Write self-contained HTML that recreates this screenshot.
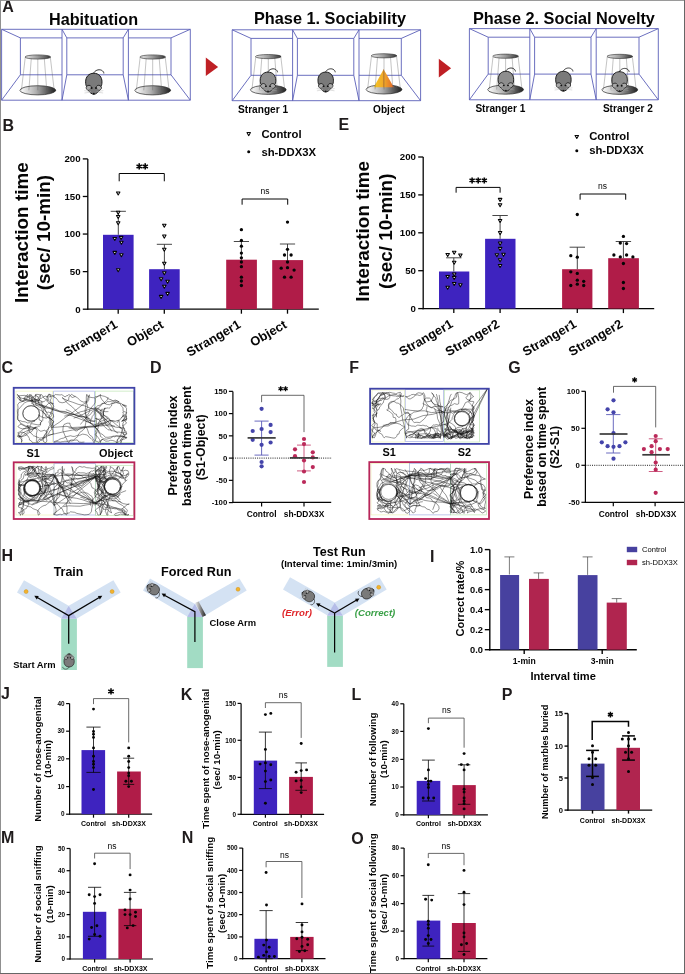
<!DOCTYPE html>
<html><head><meta charset="utf-8"><style>
html,body{margin:0;padding:0;background:#fff;}
body{width:685px;height:974px;overflow:hidden;position:relative;}
svg{position:absolute;left:0;top:0;will-change:transform;filter:blur(0.3px);}
text{font-family:"Liberation Sans",sans-serif;}
</style></head><body>
<svg width="685" height="974" viewBox="0 0 685 974" font-family="Liberation Sans, sans-serif">
<rect x="0" y="0" width="685" height="974" fill="#fff"/>
<text x="2.30" y="12.40" font-size="16" font-weight="bold" fill="#1f1b1c">A</text>
<text x="49.00" y="24.50" font-size="16.2" font-weight="bold" fill="#050505">Habituation</text>
<text x="254.00" y="23.80" font-size="16.3" font-weight="bold" fill="#050505">Phase 1. Sociability</text>
<text x="473.00" y="23.80" font-size="16.3" font-weight="bold" fill="#050505">Phase 2. Social Novelty</text>
<defs>
<linearGradient id="gtop" x1="0" x2="1" y1="0" y2="0"><stop offset="0" stop-color="#e8e8e8"/><stop offset="0.5" stop-color="#9a9a9a"/><stop offset="1" stop-color="#3a3a3a"/></linearGradient>
<linearGradient id="gbot" x1="0" x2="1" y1="0" y2="0"><stop offset="0" stop-color="#ffffff"/><stop offset="0.45" stop-color="#b0b0b0"/><stop offset="1" stop-color="#1e1e1e"/></linearGradient>
<linearGradient id="gpyr" x1="0" x2="1" y1="0" y2="0"><stop offset="0" stop-color="#f6c623"/><stop offset="0.5" stop-color="#f0a828"/><stop offset="1" stop-color="#e2662a"/></linearGradient>
<linearGradient id="gdoor" x1="0" x2="1" y1="0" y2="0"><stop offset="0" stop-color="#f0f0f0"/><stop offset="1" stop-color="#202020"/></linearGradient>
</defs>
<g stroke="#5a5fb8" stroke-width="0.9" fill="none" stroke-linejoin="round">
<rect x="1.60" y="29.30" width="188.70" height="70.90"/>
<polyline points="1.60,29.30 20.40,37.90 20.40,74.80 1.60,100.20"/>
<polyline points="190.30,29.30 171.00,37.90 171.00,74.80 190.30,100.20"/>
<line x1="20.40" y1="37.90" x2="62.00" y2="37.90"/>
<line x1="20.40" y1="74.80" x2="62.00" y2="74.80"/>
<line x1="66.80" y1="37.90" x2="123.20" y2="37.90"/>
<line x1="66.80" y1="74.80" x2="123.20" y2="74.80"/>
<line x1="128.40" y1="37.90" x2="171.00" y2="37.90"/>
<line x1="128.40" y1="74.80" x2="171.00" y2="74.80"/>
<polyline points="62.00,29.30 62.00,100.20"/>
<polyline points="62.00,29.30 66.80,37.90 66.80,74.80 62.00,100.20"/>
<polyline points="128.40,29.30 128.40,100.20"/>
<polyline points="128.40,29.30 123.20,37.90 123.20,74.80 128.40,100.20"/>
</g>
<g stroke="#5a5fb8" stroke-width="0.9" fill="none" stroke-linejoin="round">
<rect x="232.20" y="29.80" width="188.40" height="70.90"/>
<polyline points="232.20,29.80 251.00,38.40 251.00,75.30 232.20,100.70"/>
<polyline points="420.60,29.80 401.30,38.40 401.30,75.30 420.60,100.70"/>
<line x1="251.00" y1="38.40" x2="292.60" y2="38.40"/>
<line x1="251.00" y1="75.30" x2="292.60" y2="75.30"/>
<line x1="297.40" y1="38.40" x2="353.80" y2="38.40"/>
<line x1="297.40" y1="75.30" x2="353.80" y2="75.30"/>
<line x1="359.00" y1="38.40" x2="401.30" y2="38.40"/>
<line x1="359.00" y1="75.30" x2="401.30" y2="75.30"/>
<polyline points="292.60,29.80 292.60,100.70"/>
<polyline points="292.60,29.80 297.40,38.40 297.40,75.30 292.60,100.70"/>
<polyline points="359.00,29.80 359.00,100.70"/>
<polyline points="359.00,29.80 353.80,38.40 353.80,75.30 359.00,100.70"/>
</g>
<g stroke="#5a5fb8" stroke-width="0.9" fill="none" stroke-linejoin="round">
<rect x="469.40" y="28.60" width="188.90" height="71.20"/>
<polyline points="469.40,28.60 488.20,37.20 488.20,74.10 469.40,99.80"/>
<polyline points="658.30,28.60 639.00,37.20 639.00,74.10 658.30,99.80"/>
<line x1="488.20" y1="37.20" x2="529.80" y2="37.20"/>
<line x1="488.20" y1="74.10" x2="529.80" y2="74.10"/>
<line x1="534.60" y1="37.20" x2="591.00" y2="37.20"/>
<line x1="534.60" y1="74.10" x2="591.00" y2="74.10"/>
<line x1="596.20" y1="37.20" x2="639.00" y2="37.20"/>
<line x1="596.20" y1="74.10" x2="639.00" y2="74.10"/>
<polyline points="529.80,28.60 529.80,99.80"/>
<polyline points="529.80,28.60 534.60,37.20 534.60,74.10 529.80,99.80"/>
<polyline points="596.20,28.60 596.20,99.80"/>
<polyline points="596.20,28.60 591.00,37.20 591.00,74.10 596.20,99.80"/>
</g>
<ellipse cx="37.80" cy="90.30" rx="17.9" ry="4.6" fill="url(#gbot)" stroke="#2a2a2a" stroke-width="0.7"/>
<line x1="25.30" y1="57.00" x2="21.40" y2="90.30" stroke="#555" stroke-width="0.35"/>
<line x1="31.40" y1="57.00" x2="28.85" y2="90.30" stroke="#555" stroke-width="0.35"/>
<line x1="37.80" y1="57.00" x2="37.80" y2="90.30" stroke="#555" stroke-width="0.35"/>
<line x1="44.20" y1="57.00" x2="46.75" y2="90.30" stroke="#555" stroke-width="0.35"/>
<line x1="50.30" y1="57.00" x2="54.20" y2="90.30" stroke="#555" stroke-width="0.35"/>
<ellipse cx="37.80" cy="57.00" rx="12.8" ry="2.1" fill="url(#gtop)" stroke="#2a2a2a" stroke-width="0.6"/>
<ellipse cx="152.70" cy="90.30" rx="17.9" ry="4.6" fill="url(#gbot)" stroke="#2a2a2a" stroke-width="0.7"/>
<line x1="140.20" y1="57.00" x2="136.30" y2="90.30" stroke="#555" stroke-width="0.35"/>
<line x1="146.30" y1="57.00" x2="143.75" y2="90.30" stroke="#555" stroke-width="0.35"/>
<line x1="152.70" y1="57.00" x2="152.70" y2="90.30" stroke="#555" stroke-width="0.35"/>
<line x1="159.10" y1="57.00" x2="161.65" y2="90.30" stroke="#555" stroke-width="0.35"/>
<line x1="165.20" y1="57.00" x2="169.10" y2="90.30" stroke="#555" stroke-width="0.35"/>
<ellipse cx="152.70" cy="57.00" rx="12.8" ry="2.1" fill="url(#gtop)" stroke="#2a2a2a" stroke-width="0.6"/>
<g transform="translate(93.80,83.70) rotate(0) scale(0.95)">
<path d="M-0.5,-10.6 C1,-14 5,-15.5 8,-14.2 C9.7,-13.4 10.6,-12 10.6,-10.8" fill="none" stroke="#1a1a1a" stroke-width="0.95"/>
<path d="M0,-11 C5.5,-11 8.6,-7 8.6,-2 C8.6,0.5 8.2,2 7.6,3 C8.6,4.5 7.5,6.5 5.5,7.2 C4.5,9 2.3,11 0,11.2 C-2.3,11 -4.5,9 -5.5,7.2 C-7.5,6.5 -8.6,4.5 -7.6,3 C-8.2,2 -8.6,0.5 -8.6,-2 C-8.6,-7 -5.5,-11 0,-11 Z" fill="#7a7a7a" stroke="#111" stroke-width="1.0"/>
<path d="M-7.4,3.2 C-6,1.6 -3.2,1.8 -2.8,3.6 C-3.2,5.2 -5,6.6 -6.4,6.4 C-7.6,5.8 -8,4.4 -7.4,3.2 Z" fill="#a8a8a8"/>
<path d="M7.4,3.2 C6,1.6 3.2,1.8 2.8,3.6 C3.2,5.2 5,6.6 6.4,6.4 C7.6,5.8 8,4.4 7.4,3.2 Z" fill="#a8a8a8"/>
<path d="M-7.6,3 C-6.5,1.2 -3.5,1.2 -2.6,3.2 M7.6,3 C6.5,1.2 3.5,1.2 2.6,3.2" fill="none" stroke="#111" stroke-width="0.8"/>
<circle cx="-2.3" cy="4.6" r="1.05" fill="#111"/><circle cx="2.3" cy="4.6" r="1.05" fill="#111"/><circle cx="0" cy="10.4" r="0.9" fill="#111"/>
<path d="M-3,8.3 L-10,7.3 M-3,8.8 L-9.8,9.8 M3,8.3 L10,7.3 M3,8.8 L9.8,9.8" stroke="#b0b0b0" stroke-width="0.45"/>
</g>
<ellipse cx="268.30" cy="89.80" rx="17.9" ry="4.6" fill="url(#gbot)" stroke="#2a2a2a" stroke-width="0.7"/>
<line x1="255.80" y1="56.60" x2="251.90" y2="89.80" stroke="#555" stroke-width="0.35"/>
<line x1="261.90" y1="56.60" x2="259.35" y2="89.80" stroke="#555" stroke-width="0.35"/>
<line x1="268.30" y1="56.60" x2="268.30" y2="89.80" stroke="#555" stroke-width="0.35"/>
<line x1="274.70" y1="56.60" x2="277.25" y2="89.80" stroke="#555" stroke-width="0.35"/>
<line x1="280.80" y1="56.60" x2="284.70" y2="89.80" stroke="#555" stroke-width="0.35"/>
<ellipse cx="268.30" cy="56.60" rx="12.8" ry="2.1" fill="url(#gtop)" stroke="#2a2a2a" stroke-width="0.6"/>
<g transform="translate(268.00,82.00) rotate(0) scale(0.9)">
<path d="M-0.5,-10.6 C1,-14 5,-15.5 8,-14.2 C9.7,-13.4 10.6,-12 10.6,-10.8" fill="none" stroke="#1a1a1a" stroke-width="0.95"/>
<path d="M0,-11 C5.5,-11 8.6,-7 8.6,-2 C8.6,0.5 8.2,2 7.6,3 C8.6,4.5 7.5,6.5 5.5,7.2 C4.5,9 2.3,11 0,11.2 C-2.3,11 -4.5,9 -5.5,7.2 C-7.5,6.5 -8.6,4.5 -7.6,3 C-8.2,2 -8.6,0.5 -8.6,-2 C-8.6,-7 -5.5,-11 0,-11 Z" fill="#8e8e8e" stroke="#111" stroke-width="1.0"/>
<path d="M-7.4,3.2 C-6,1.6 -3.2,1.8 -2.8,3.6 C-3.2,5.2 -5,6.6 -6.4,6.4 C-7.6,5.8 -8,4.4 -7.4,3.2 Z" fill="#a8a8a8"/>
<path d="M7.4,3.2 C6,1.6 3.2,1.8 2.8,3.6 C3.2,5.2 5,6.6 6.4,6.4 C7.6,5.8 8,4.4 7.4,3.2 Z" fill="#a8a8a8"/>
<path d="M-7.6,3 C-6.5,1.2 -3.5,1.2 -2.6,3.2 M7.6,3 C6.5,1.2 3.5,1.2 2.6,3.2" fill="none" stroke="#111" stroke-width="0.8"/>
<circle cx="-2.3" cy="4.6" r="1.05" fill="#111"/><circle cx="2.3" cy="4.6" r="1.05" fill="#111"/><circle cx="0" cy="10.4" r="0.9" fill="#111"/>
<path d="M-3,8.3 L-10,7.3 M-3,8.8 L-9.8,9.8 M3,8.3 L10,7.3 M3,8.8 L9.8,9.8" stroke="#b0b0b0" stroke-width="0.45"/>
</g>
<g transform="translate(325.70,82.00) rotate(0) scale(0.9)">
<path d="M-0.5,-10.6 C1,-14 5,-15.5 8,-14.2 C9.7,-13.4 10.6,-12 10.6,-10.8" fill="none" stroke="#1a1a1a" stroke-width="0.95"/>
<path d="M0,-11 C5.5,-11 8.6,-7 8.6,-2 C8.6,0.5 8.2,2 7.6,3 C8.6,4.5 7.5,6.5 5.5,7.2 C4.5,9 2.3,11 0,11.2 C-2.3,11 -4.5,9 -5.5,7.2 C-7.5,6.5 -8.6,4.5 -7.6,3 C-8.2,2 -8.6,0.5 -8.6,-2 C-8.6,-7 -5.5,-11 0,-11 Z" fill="#7a7a7a" stroke="#111" stroke-width="1.0"/>
<path d="M-7.4,3.2 C-6,1.6 -3.2,1.8 -2.8,3.6 C-3.2,5.2 -5,6.6 -6.4,6.4 C-7.6,5.8 -8,4.4 -7.4,3.2 Z" fill="#a8a8a8"/>
<path d="M7.4,3.2 C6,1.6 3.2,1.8 2.8,3.6 C3.2,5.2 5,6.6 6.4,6.4 C7.6,5.8 8,4.4 7.4,3.2 Z" fill="#a8a8a8"/>
<path d="M-7.6,3 C-6.5,1.2 -3.5,1.2 -2.6,3.2 M7.6,3 C6.5,1.2 3.5,1.2 2.6,3.2" fill="none" stroke="#111" stroke-width="0.8"/>
<circle cx="-2.3" cy="4.6" r="1.05" fill="#111"/><circle cx="2.3" cy="4.6" r="1.05" fill="#111"/><circle cx="0" cy="10.4" r="0.9" fill="#111"/>
<path d="M-3,8.3 L-10,7.3 M-3,8.8 L-9.8,9.8 M3,8.3 L10,7.3 M3,8.8 L9.8,9.8" stroke="#b0b0b0" stroke-width="0.45"/>
</g>
<ellipse cx="384.00" cy="89.40" rx="17.9" ry="4.6" fill="url(#gbot)" stroke="#2a2a2a" stroke-width="0.7"/>
<polygon points="383.60,69.30 373.80,87.30 393.80,87.30" fill="url(#gpyr)"/>
<line x1="383.60" y1="69.30" x2="383.60" y2="87.30" stroke="#c06020" stroke-width="0.4"/>
<line x1="371.50" y1="55.80" x2="367.60" y2="89.40" stroke="#555" stroke-width="0.35"/>
<line x1="377.60" y1="55.80" x2="375.05" y2="89.40" stroke="#555" stroke-width="0.35"/>
<line x1="384.00" y1="55.80" x2="384.00" y2="89.40" stroke="#555" stroke-width="0.35"/>
<line x1="390.40" y1="55.80" x2="392.95" y2="89.40" stroke="#555" stroke-width="0.35"/>
<line x1="396.50" y1="55.80" x2="400.40" y2="89.40" stroke="#555" stroke-width="0.35"/>
<ellipse cx="384.00" cy="55.80" rx="12.8" ry="2.1" fill="url(#gtop)" stroke="#2a2a2a" stroke-width="0.6"/>
<ellipse cx="505.60" cy="89.60" rx="17.9" ry="4.6" fill="url(#gbot)" stroke="#2a2a2a" stroke-width="0.7"/>
<line x1="493.10" y1="56.20" x2="489.20" y2="89.60" stroke="#555" stroke-width="0.35"/>
<line x1="499.20" y1="56.20" x2="496.65" y2="89.60" stroke="#555" stroke-width="0.35"/>
<line x1="505.60" y1="56.20" x2="505.60" y2="89.60" stroke="#555" stroke-width="0.35"/>
<line x1="512.00" y1="56.20" x2="514.55" y2="89.60" stroke="#555" stroke-width="0.35"/>
<line x1="518.10" y1="56.20" x2="522.00" y2="89.60" stroke="#555" stroke-width="0.35"/>
<ellipse cx="505.60" cy="56.20" rx="12.8" ry="2.1" fill="url(#gtop)" stroke="#2a2a2a" stroke-width="0.6"/>
<g transform="translate(505.90,81.20) rotate(0) scale(0.9)">
<path d="M-0.5,-10.6 C1,-14 5,-15.5 8,-14.2 C9.7,-13.4 10.6,-12 10.6,-10.8" fill="none" stroke="#1a1a1a" stroke-width="0.95"/>
<path d="M0,-11 C5.5,-11 8.6,-7 8.6,-2 C8.6,0.5 8.2,2 7.6,3 C8.6,4.5 7.5,6.5 5.5,7.2 C4.5,9 2.3,11 0,11.2 C-2.3,11 -4.5,9 -5.5,7.2 C-7.5,6.5 -8.6,4.5 -7.6,3 C-8.2,2 -8.6,0.5 -8.6,-2 C-8.6,-7 -5.5,-11 0,-11 Z" fill="#8e8e8e" stroke="#111" stroke-width="1.0"/>
<path d="M-7.4,3.2 C-6,1.6 -3.2,1.8 -2.8,3.6 C-3.2,5.2 -5,6.6 -6.4,6.4 C-7.6,5.8 -8,4.4 -7.4,3.2 Z" fill="#a8a8a8"/>
<path d="M7.4,3.2 C6,1.6 3.2,1.8 2.8,3.6 C3.2,5.2 5,6.6 6.4,6.4 C7.6,5.8 8,4.4 7.4,3.2 Z" fill="#a8a8a8"/>
<path d="M-7.6,3 C-6.5,1.2 -3.5,1.2 -2.6,3.2 M7.6,3 C6.5,1.2 3.5,1.2 2.6,3.2" fill="none" stroke="#111" stroke-width="0.8"/>
<circle cx="-2.3" cy="4.6" r="1.05" fill="#111"/><circle cx="2.3" cy="4.6" r="1.05" fill="#111"/><circle cx="0" cy="10.4" r="0.9" fill="#111"/>
<path d="M-3,8.3 L-10,7.3 M-3,8.8 L-9.8,9.8 M3,8.3 L10,7.3 M3,8.8 L9.8,9.8" stroke="#b0b0b0" stroke-width="0.45"/>
</g>
<g transform="translate(563.40,81.20) rotate(0) scale(0.9)">
<path d="M-0.5,-10.6 C1,-14 5,-15.5 8,-14.2 C9.7,-13.4 10.6,-12 10.6,-10.8" fill="none" stroke="#1a1a1a" stroke-width="0.95"/>
<path d="M0,-11 C5.5,-11 8.6,-7 8.6,-2 C8.6,0.5 8.2,2 7.6,3 C8.6,4.5 7.5,6.5 5.5,7.2 C4.5,9 2.3,11 0,11.2 C-2.3,11 -4.5,9 -5.5,7.2 C-7.5,6.5 -8.6,4.5 -7.6,3 C-8.2,2 -8.6,0.5 -8.6,-2 C-8.6,-7 -5.5,-11 0,-11 Z" fill="#7a7a7a" stroke="#111" stroke-width="1.0"/>
<path d="M-7.4,3.2 C-6,1.6 -3.2,1.8 -2.8,3.6 C-3.2,5.2 -5,6.6 -6.4,6.4 C-7.6,5.8 -8,4.4 -7.4,3.2 Z" fill="#a8a8a8"/>
<path d="M7.4,3.2 C6,1.6 3.2,1.8 2.8,3.6 C3.2,5.2 5,6.6 6.4,6.4 C7.6,5.8 8,4.4 7.4,3.2 Z" fill="#a8a8a8"/>
<path d="M-7.6,3 C-6.5,1.2 -3.5,1.2 -2.6,3.2 M7.6,3 C6.5,1.2 3.5,1.2 2.6,3.2" fill="none" stroke="#111" stroke-width="0.8"/>
<circle cx="-2.3" cy="4.6" r="1.05" fill="#111"/><circle cx="2.3" cy="4.6" r="1.05" fill="#111"/><circle cx="0" cy="10.4" r="0.9" fill="#111"/>
<path d="M-3,8.3 L-10,7.3 M-3,8.8 L-9.8,9.8 M3,8.3 L10,7.3 M3,8.8 L9.8,9.8" stroke="#b0b0b0" stroke-width="0.45"/>
</g>
<ellipse cx="619.80" cy="89.80" rx="17.9" ry="4.6" fill="url(#gbot)" stroke="#2a2a2a" stroke-width="0.7"/>
<line x1="607.30" y1="56.40" x2="603.40" y2="89.80" stroke="#555" stroke-width="0.35"/>
<line x1="613.40" y1="56.40" x2="610.85" y2="89.80" stroke="#555" stroke-width="0.35"/>
<line x1="619.80" y1="56.40" x2="619.80" y2="89.80" stroke="#555" stroke-width="0.35"/>
<line x1="626.20" y1="56.40" x2="628.75" y2="89.80" stroke="#555" stroke-width="0.35"/>
<line x1="632.30" y1="56.40" x2="636.20" y2="89.80" stroke="#555" stroke-width="0.35"/>
<ellipse cx="619.80" cy="56.40" rx="12.8" ry="2.1" fill="url(#gtop)" stroke="#2a2a2a" stroke-width="0.6"/>
<g transform="translate(619.60,81.60) rotate(0) scale(0.9)">
<path d="M-0.5,-10.6 C1,-14 5,-15.5 8,-14.2 C9.7,-13.4 10.6,-12 10.6,-10.8" fill="none" stroke="#1a1a1a" stroke-width="0.95"/>
<path d="M0,-11 C5.5,-11 8.6,-7 8.6,-2 C8.6,0.5 8.2,2 7.6,3 C8.6,4.5 7.5,6.5 5.5,7.2 C4.5,9 2.3,11 0,11.2 C-2.3,11 -4.5,9 -5.5,7.2 C-7.5,6.5 -8.6,4.5 -7.6,3 C-8.2,2 -8.6,0.5 -8.6,-2 C-8.6,-7 -5.5,-11 0,-11 Z" fill="#8e8e8e" stroke="#111" stroke-width="1.0"/>
<path d="M-7.4,3.2 C-6,1.6 -3.2,1.8 -2.8,3.6 C-3.2,5.2 -5,6.6 -6.4,6.4 C-7.6,5.8 -8,4.4 -7.4,3.2 Z" fill="#a8a8a8"/>
<path d="M7.4,3.2 C6,1.6 3.2,1.8 2.8,3.6 C3.2,5.2 5,6.6 6.4,6.4 C7.6,5.8 8,4.4 7.4,3.2 Z" fill="#a8a8a8"/>
<path d="M-7.6,3 C-6.5,1.2 -3.5,1.2 -2.6,3.2 M7.6,3 C6.5,1.2 3.5,1.2 2.6,3.2" fill="none" stroke="#111" stroke-width="0.8"/>
<circle cx="-2.3" cy="4.6" r="1.05" fill="#111"/><circle cx="2.3" cy="4.6" r="1.05" fill="#111"/><circle cx="0" cy="10.4" r="0.9" fill="#111"/>
<path d="M-3,8.3 L-10,7.3 M-3,8.8 L-9.8,9.8 M3,8.3 L10,7.3 M3,8.8 L9.8,9.8" stroke="#b0b0b0" stroke-width="0.45"/>
</g>
<text x="238.10" y="112.60" font-size="10.1" font-weight="bold" fill="#050505">Stranger 1</text>
<text x="373.10" y="112.60" font-size="10.1" font-weight="bold" fill="#050505">Object</text>
<text x="475.40" y="111.80" font-size="10.1" font-weight="bold" fill="#050505">Stranger 1</text>
<text x="602.90" y="111.80" font-size="10.1" font-weight="bold" fill="#050505">Stranger 2</text>
<polygon points="205.80,57.50 218.10,67.00 205.80,75.90" fill="#bf2025"/>
<polygon points="438.80,58.80 451.10,68.20 438.80,77.50" fill="#bf2025"/>
<text x="2.40" y="130.80" font-size="16" font-weight="bold" fill="#1f1b1c">B</text>
<line x1="87.80" y1="158.90" x2="87.80" y2="309.85" stroke="#050505" stroke-width="1.3"/>
<line x1="87.15" y1="309.20" x2="318.80" y2="309.20" stroke="#050505" stroke-width="1.3"/>
<line x1="82.80" y1="309.20" x2="87.80" y2="309.20" stroke="#050505" stroke-width="1.3"/>
<text x="80.60" y="312.59" font-size="9.7" font-weight="bold" text-anchor="end" fill="#050505">0</text>
<line x1="82.80" y1="271.62" x2="87.80" y2="271.62" stroke="#050505" stroke-width="1.3"/>
<text x="80.60" y="275.02" font-size="9.7" font-weight="bold" text-anchor="end" fill="#050505">50</text>
<line x1="82.80" y1="234.05" x2="87.80" y2="234.05" stroke="#050505" stroke-width="1.3"/>
<text x="80.60" y="237.45" font-size="9.7" font-weight="bold" text-anchor="end" fill="#050505">100</text>
<line x1="82.80" y1="196.48" x2="87.80" y2="196.48" stroke="#050505" stroke-width="1.3"/>
<text x="80.60" y="199.87" font-size="9.7" font-weight="bold" text-anchor="end" fill="#050505">150</text>
<line x1="82.80" y1="158.90" x2="87.80" y2="158.90" stroke="#050505" stroke-width="1.3"/>
<text x="80.60" y="162.30" font-size="9.7" font-weight="bold" text-anchor="end" fill="#050505">200</text>
<line x1="118.20" y1="309.20" x2="118.20" y2="313.70" stroke="#050505" stroke-width="1.3"/>
<line x1="164.30" y1="309.20" x2="164.30" y2="313.70" stroke="#050505" stroke-width="1.3"/>
<line x1="241.40" y1="309.20" x2="241.40" y2="313.70" stroke="#050505" stroke-width="1.3"/>
<line x1="287.50" y1="309.20" x2="287.50" y2="313.70" stroke="#050505" stroke-width="1.3"/>
<text transform="translate(27.90,232.60) rotate(-90)" font-size="18.9" font-weight="bold" text-anchor="middle" fill="#050505">Interaction time</text>
<text transform="translate(50.20,232.60) rotate(-90)" font-size="18.9" font-weight="bold" text-anchor="middle" fill="#050505">(sec/ 10-min)</text>
<rect x="103.00" y="234.80" width="30.60" height="74.40" fill="#3e23bf"/>
<rect x="149.10" y="269.20" width="30.60" height="40.00" fill="#3e23bf"/>
<rect x="226.20" y="259.70" width="30.70" height="49.50" fill="#b01c48"/>
<rect x="272.20" y="260.10" width="30.90" height="49.10" fill="#b01c48"/>
<line x1="118.30" y1="211.30" x2="118.30" y2="234.80" stroke="#333" stroke-width="0.9"/>
<line x1="110.70" y1="211.30" x2="125.90" y2="211.30" stroke="#333" stroke-width="0.9"/>
<line x1="164.40" y1="244.30" x2="164.40" y2="269.20" stroke="#333" stroke-width="0.9"/>
<line x1="156.80" y1="244.30" x2="172.00" y2="244.30" stroke="#333" stroke-width="0.9"/>
<line x1="241.40" y1="241.50" x2="241.40" y2="259.70" stroke="#333" stroke-width="0.9"/>
<line x1="233.80" y1="241.50" x2="249.00" y2="241.50" stroke="#333" stroke-width="0.9"/>
<line x1="287.50" y1="244.00" x2="287.50" y2="260.10" stroke="#333" stroke-width="0.9"/>
<line x1="279.90" y1="244.00" x2="295.10" y2="244.00" stroke="#333" stroke-width="0.9"/>
<polygon points="116.45,191.99 119.95,191.99 118.20,195.05" fill="#fff" stroke="#050505" stroke-width="1.05" stroke-linejoin="round"/>
<polygon points="116.45,211.29 119.95,211.29 118.20,214.35" fill="#fff" stroke="#050505" stroke-width="1.05" stroke-linejoin="round"/>
<polygon points="116.45,215.49 119.95,215.49 118.20,218.55" fill="#fff" stroke="#050505" stroke-width="1.05" stroke-linejoin="round"/>
<polygon points="116.45,221.79 119.95,221.79 118.20,224.85" fill="#fff" stroke="#050505" stroke-width="1.05" stroke-linejoin="round"/>
<polygon points="113.05,237.49 116.55,237.49 114.80,240.55" fill="#fff" stroke="#050505" stroke-width="1.05" stroke-linejoin="round"/>
<polygon points="119.35,236.39 122.85,236.39 121.10,239.45" fill="#fff" stroke="#050505" stroke-width="1.05" stroke-linejoin="round"/>
<polygon points="119.65,241.29 123.15,241.29 121.40,244.35" fill="#fff" stroke="#050505" stroke-width="1.05" stroke-linejoin="round"/>
<polygon points="113.05,251.39 116.55,251.39 114.80,254.45" fill="#fff" stroke="#050505" stroke-width="1.05" stroke-linejoin="round"/>
<polygon points="119.65,253.69 123.15,253.69 121.40,256.75" fill="#fff" stroke="#050505" stroke-width="1.05" stroke-linejoin="round"/>
<polygon points="116.45,268.69 119.95,268.69 118.20,271.75" fill="#fff" stroke="#050505" stroke-width="1.05" stroke-linejoin="round"/>
<polygon points="162.55,224.19 166.05,224.19 164.30,227.25" fill="#fff" stroke="#050505" stroke-width="1.05" stroke-linejoin="round"/>
<polygon points="162.55,235.09 166.05,235.09 164.30,238.15" fill="#fff" stroke="#050505" stroke-width="1.05" stroke-linejoin="round"/>
<polygon points="162.55,248.29 166.05,248.29 164.30,251.35" fill="#fff" stroke="#050505" stroke-width="1.05" stroke-linejoin="round"/>
<polygon points="162.55,262.19 166.05,262.19 164.30,265.25" fill="#fff" stroke="#050505" stroke-width="1.05" stroke-linejoin="round"/>
<polygon points="162.55,271.69 166.05,271.69 164.30,274.75" fill="#fff" stroke="#050505" stroke-width="1.05" stroke-linejoin="round"/>
<polygon points="159.35,277.79 162.85,277.79 161.10,280.85" fill="#fff" stroke="#050505" stroke-width="1.05" stroke-linejoin="round"/>
<polygon points="165.85,280.19 169.35,280.19 167.60,283.25" fill="#fff" stroke="#050505" stroke-width="1.05" stroke-linejoin="round"/>
<polygon points="162.55,285.29 166.05,285.29 164.30,288.35" fill="#fff" stroke="#050505" stroke-width="1.05" stroke-linejoin="round"/>
<polygon points="165.85,292.39 169.35,292.39 167.60,295.45" fill="#fff" stroke="#050505" stroke-width="1.05" stroke-linejoin="round"/>
<polygon points="159.35,295.39 162.85,295.39 161.10,298.45" fill="#fff" stroke="#050505" stroke-width="1.05" stroke-linejoin="round"/>
<circle cx="241.40" cy="229.70" r="1.65" fill="#050505"/>
<circle cx="241.40" cy="240.50" r="1.65" fill="#050505"/>
<circle cx="241.40" cy="246.20" r="1.65" fill="#050505"/>
<circle cx="241.40" cy="253.10" r="1.65" fill="#050505"/>
<circle cx="241.40" cy="257.80" r="1.65" fill="#050505"/>
<circle cx="241.40" cy="262.00" r="1.65" fill="#050505"/>
<circle cx="241.40" cy="266.70" r="1.65" fill="#050505"/>
<circle cx="241.40" cy="277.20" r="1.65" fill="#050505"/>
<circle cx="241.40" cy="281.00" r="1.65" fill="#050505"/>
<circle cx="241.40" cy="285.50" r="1.65" fill="#050505"/>
<circle cx="287.50" cy="222.10" r="1.65" fill="#050505"/>
<circle cx="287.50" cy="249.30" r="1.65" fill="#050505"/>
<circle cx="284.50" cy="255.00" r="1.65" fill="#050505"/>
<circle cx="291.10" cy="255.00" r="1.65" fill="#050505"/>
<circle cx="287.50" cy="262.00" r="1.65" fill="#050505"/>
<circle cx="281.20" cy="268.20" r="1.65" fill="#050505"/>
<circle cx="287.50" cy="267.70" r="1.65" fill="#050505"/>
<circle cx="294.10" cy="270.10" r="1.65" fill="#050505"/>
<circle cx="284.50" cy="277.20" r="1.65" fill="#050505"/>
<circle cx="291.10" cy="277.20" r="1.65" fill="#050505"/>
<polyline points="119.20,181.30 119.20,173.50 164.30,173.50 164.30,181.30" fill="none" stroke="#050505" stroke-width="1.0"/>
<path d="M139.20,163.30 L139.20,169.50 M136.52,164.85 L141.88,167.95 M141.88,164.85 L136.52,167.95 " stroke="#050505" stroke-width="1.6" fill="none"/>
<path d="M145.20,163.30 L145.20,169.50 M142.52,164.85 L147.88,167.95 M147.88,164.85 L142.52,167.95 " stroke="#050505" stroke-width="1.6" fill="none"/>
<polyline points="242.10,204.70 242.10,199.00 287.70,199.00 287.70,204.70" fill="none" stroke="#050505" stroke-width="1.0"/>
<text x="264.90" y="193.60" font-size="8.5" text-anchor="middle" fill="#050505">ns</text>
<polygon points="246.95,132.59 250.45,132.59 248.70,135.65" fill="#fff" stroke="#050505" stroke-width="1.05" stroke-linejoin="round"/>
<text x="261.40" y="137.80" font-size="11.3" font-weight="bold" fill="#050505">Control</text>
<circle cx="248.70" cy="151.80" r="1.5" fill="#050505"/>
<text x="261.40" y="155.50" font-size="11.3" font-weight="bold" fill="#050505">sh-DDX3X</text>
<text transform="translate(118.40,327.00) rotate(-30)" font-size="12.8" font-weight="bold" text-anchor="end" fill="#050505">Stranger1</text>
<text transform="translate(164.50,327.00) rotate(-30)" font-size="12.8" font-weight="bold" text-anchor="end" fill="#050505">Object</text>
<text transform="translate(241.60,327.00) rotate(-30)" font-size="12.8" font-weight="bold" text-anchor="end" fill="#050505">Stranger1</text>
<text transform="translate(287.70,327.00) rotate(-30)" font-size="12.8" font-weight="bold" text-anchor="end" fill="#050505">Object</text>
<text x="338.40" y="129.80" font-size="16" font-weight="bold" fill="#1f1b1c">E</text>
<line x1="423.20" y1="157.00" x2="423.20" y2="309.25" stroke="#050505" stroke-width="1.3"/>
<line x1="422.55" y1="308.60" x2="654.20" y2="308.60" stroke="#050505" stroke-width="1.3"/>
<line x1="418.20" y1="308.60" x2="423.20" y2="308.60" stroke="#050505" stroke-width="1.3"/>
<text x="416.00" y="312.00" font-size="9.7" font-weight="bold" text-anchor="end" fill="#050505">0</text>
<line x1="418.20" y1="270.70" x2="423.20" y2="270.70" stroke="#050505" stroke-width="1.3"/>
<text x="416.00" y="274.10" font-size="9.7" font-weight="bold" text-anchor="end" fill="#050505">50</text>
<line x1="418.20" y1="232.80" x2="423.20" y2="232.80" stroke="#050505" stroke-width="1.3"/>
<text x="416.00" y="236.20" font-size="9.7" font-weight="bold" text-anchor="end" fill="#050505">100</text>
<line x1="418.20" y1="194.90" x2="423.20" y2="194.90" stroke="#050505" stroke-width="1.3"/>
<text x="416.00" y="198.30" font-size="9.7" font-weight="bold" text-anchor="end" fill="#050505">150</text>
<line x1="418.20" y1="157.00" x2="423.20" y2="157.00" stroke="#050505" stroke-width="1.3"/>
<text x="416.00" y="160.40" font-size="9.7" font-weight="bold" text-anchor="end" fill="#050505">200</text>
<line x1="453.80" y1="308.60" x2="453.80" y2="313.10" stroke="#050505" stroke-width="1.3"/>
<line x1="500.10" y1="308.60" x2="500.10" y2="313.10" stroke="#050505" stroke-width="1.3"/>
<line x1="577.30" y1="308.60" x2="577.30" y2="313.10" stroke="#050505" stroke-width="1.3"/>
<line x1="623.40" y1="308.60" x2="623.40" y2="313.10" stroke="#050505" stroke-width="1.3"/>
<text transform="translate(369.30,231.30) rotate(-90)" font-size="18.9" font-weight="bold" text-anchor="middle" fill="#050505">Interaction time</text>
<text transform="translate(391.50,231.30) rotate(-90)" font-size="18.9" font-weight="bold" text-anchor="middle" fill="#050505">(sec/ 10-min)</text>
<rect x="439.00" y="271.50" width="30.30" height="37.10" fill="#3e23bf"/>
<rect x="485.10" y="238.80" width="30.40" height="69.80" fill="#3e23bf"/>
<rect x="562.10" y="269.20" width="30.30" height="39.40" fill="#b01c48"/>
<rect x="608.20" y="258.20" width="30.70" height="50.40" fill="#b01c48"/>
<line x1="453.80" y1="257.80" x2="453.80" y2="271.50" stroke="#333" stroke-width="0.9"/>
<line x1="446.10" y1="257.80" x2="461.50" y2="257.80" stroke="#333" stroke-width="0.9"/>
<line x1="500.10" y1="215.50" x2="500.10" y2="238.80" stroke="#333" stroke-width="0.9"/>
<line x1="492.40" y1="215.50" x2="507.80" y2="215.50" stroke="#333" stroke-width="0.9"/>
<line x1="577.30" y1="247.20" x2="577.30" y2="269.20" stroke="#333" stroke-width="0.9"/>
<line x1="569.60" y1="247.20" x2="585.00" y2="247.20" stroke="#333" stroke-width="0.9"/>
<line x1="623.40" y1="241.50" x2="623.40" y2="258.20" stroke="#333" stroke-width="0.9"/>
<line x1="615.70" y1="241.50" x2="631.10" y2="241.50" stroke="#333" stroke-width="0.9"/>
<polygon points="445.95,253.49 449.45,253.49 447.70,256.55" fill="#fff" stroke="#050505" stroke-width="1.05" stroke-linejoin="round"/>
<polygon points="452.45,251.19 455.95,251.19 454.20,254.25" fill="#fff" stroke="#050505" stroke-width="1.05" stroke-linejoin="round"/>
<polygon points="458.65,253.99 462.15,253.99 460.40,257.05" fill="#fff" stroke="#050505" stroke-width="1.05" stroke-linejoin="round"/>
<polygon points="452.45,261.19 455.95,261.19 454.20,264.25" fill="#fff" stroke="#050505" stroke-width="1.05" stroke-linejoin="round"/>
<polygon points="452.45,272.99 455.95,272.99 454.20,276.05" fill="#fff" stroke="#050505" stroke-width="1.05" stroke-linejoin="round"/>
<polygon points="445.95,275.49 449.45,275.49 447.70,278.55" fill="#fff" stroke="#050505" stroke-width="1.05" stroke-linejoin="round"/>
<polygon points="452.45,276.39 455.95,276.39 454.20,279.45" fill="#fff" stroke="#050505" stroke-width="1.05" stroke-linejoin="round"/>
<polygon points="452.45,282.49 455.95,282.49 454.20,285.55" fill="#fff" stroke="#050505" stroke-width="1.05" stroke-linejoin="round"/>
<polygon points="445.95,286.29 449.45,286.29 447.70,289.35" fill="#fff" stroke="#050505" stroke-width="1.05" stroke-linejoin="round"/>
<polygon points="458.65,283.79 462.15,283.79 460.40,286.85" fill="#fff" stroke="#050505" stroke-width="1.05" stroke-linejoin="round"/>
<polygon points="498.35,198.39 501.85,198.39 500.10,201.45" fill="#fff" stroke="#050505" stroke-width="1.05" stroke-linejoin="round"/>
<polygon points="498.35,203.69 501.85,203.69 500.10,206.75" fill="#fff" stroke="#050505" stroke-width="1.05" stroke-linejoin="round"/>
<polygon points="498.35,219.49 501.85,219.49 500.10,222.55" fill="#fff" stroke="#050505" stroke-width="1.05" stroke-linejoin="round"/>
<polygon points="498.35,231.59 501.85,231.59 500.10,234.65" fill="#fff" stroke="#050505" stroke-width="1.05" stroke-linejoin="round"/>
<polygon points="498.35,242.09 501.85,242.09 500.10,245.15" fill="#fff" stroke="#050505" stroke-width="1.05" stroke-linejoin="round"/>
<polygon points="498.35,247.39 501.85,247.39 500.10,250.45" fill="#fff" stroke="#050505" stroke-width="1.05" stroke-linejoin="round"/>
<polygon points="495.15,253.69 498.65,253.69 496.90,256.75" fill="#fff" stroke="#050505" stroke-width="1.05" stroke-linejoin="round"/>
<polygon points="501.75,253.29 505.25,253.29 503.50,256.35" fill="#fff" stroke="#050505" stroke-width="1.05" stroke-linejoin="round"/>
<polygon points="498.35,258.79 501.85,258.79 500.10,261.85" fill="#fff" stroke="#050505" stroke-width="1.05" stroke-linejoin="round"/>
<polygon points="498.35,264.49 501.85,264.49 500.10,267.55" fill="#fff" stroke="#050505" stroke-width="1.05" stroke-linejoin="round"/>
<circle cx="577.30" cy="214.50" r="1.65" fill="#050505"/>
<circle cx="570.80" cy="255.70" r="1.65" fill="#050505"/>
<circle cx="577.30" cy="257.20" r="1.65" fill="#050505"/>
<circle cx="570.80" cy="271.80" r="1.65" fill="#050505"/>
<circle cx="577.30" cy="273.40" r="1.65" fill="#050505"/>
<circle cx="577.30" cy="280.20" r="1.65" fill="#050505"/>
<circle cx="583.70" cy="281.30" r="1.65" fill="#050505"/>
<circle cx="570.80" cy="285.50" r="1.65" fill="#050505"/>
<circle cx="577.30" cy="284.20" r="1.65" fill="#050505"/>
<circle cx="583.70" cy="285.50" r="1.65" fill="#050505"/>
<circle cx="623.40" cy="236.40" r="1.65" fill="#050505"/>
<circle cx="620.30" cy="243.00" r="1.65" fill="#050505"/>
<circle cx="626.60" cy="243.60" r="1.65" fill="#050505"/>
<circle cx="613.90" cy="255.00" r="1.65" fill="#050505"/>
<circle cx="620.30" cy="256.90" r="1.65" fill="#050505"/>
<circle cx="626.60" cy="255.00" r="1.65" fill="#050505"/>
<circle cx="632.90" cy="256.90" r="1.65" fill="#050505"/>
<circle cx="623.40" cy="263.50" r="1.65" fill="#050505"/>
<circle cx="623.40" cy="282.50" r="1.65" fill="#050505"/>
<circle cx="623.40" cy="288.50" r="1.65" fill="#050505"/>
<polyline points="456.10,192.70 456.10,187.40 500.10,187.40 500.10,192.70" fill="none" stroke="#050505" stroke-width="1.0"/>
<path d="M472.10,177.40 L472.10,183.40 M469.50,178.90 L474.70,181.90 M474.70,178.90 L469.50,181.90 " stroke="#050505" stroke-width="1.6" fill="none"/>
<path d="M478.20,177.40 L478.20,183.40 M475.60,178.90 L480.80,181.90 M480.80,178.90 L475.60,181.90 " stroke="#050505" stroke-width="1.6" fill="none"/>
<path d="M484.30,177.40 L484.30,183.40 M481.70,178.90 L486.90,181.90 M486.90,178.90 L481.70,181.90 " stroke="#050505" stroke-width="1.6" fill="none"/>
<polyline points="580.10,199.70 580.10,194.00 625.70,194.00 625.70,199.70" fill="none" stroke="#050505" stroke-width="1.0"/>
<text x="602.50" y="188.80" font-size="8.5" text-anchor="middle" fill="#050505">ns</text>
<polygon points="575.05,135.49 578.55,135.49 576.80,138.55" fill="#fff" stroke="#050505" stroke-width="1.05" stroke-linejoin="round"/>
<text x="589.20" y="140.40" font-size="11.3" font-weight="bold" fill="#050505">Control</text>
<circle cx="576.80" cy="150.70" r="1.5" fill="#050505"/>
<text x="589.20" y="154.30" font-size="11.3" font-weight="bold" fill="#050505">sh-DDX3X</text>
<text transform="translate(454.00,326.50) rotate(-30)" font-size="12.8" font-weight="bold" text-anchor="end" fill="#050505">Stranger1</text>
<text transform="translate(500.30,326.50) rotate(-30)" font-size="12.8" font-weight="bold" text-anchor="end" fill="#050505">Stranger2</text>
<text transform="translate(577.50,326.50) rotate(-30)" font-size="12.8" font-weight="bold" text-anchor="end" fill="#050505">Stranger1</text>
<text transform="translate(623.60,326.50) rotate(-30)" font-size="12.8" font-weight="bold" text-anchor="end" fill="#050505">Stranger2</text>
<text x="1.40" y="373.00" font-size="16" font-weight="bold" fill="#1f1b1c">C</text>
<rect x="16.0" y="391.1" width="36.7" height="51.2" fill="none" stroke="#e9f0b0" stroke-width="0.6"/>
<rect x="53.7" y="391.1" width="40.8" height="51.2" fill="none" stroke="#97a3dc" stroke-width="0.6"/>
<rect x="95.4" y="391.1" width="38.0" height="51.2" fill="none" stroke="#b5e0a8" stroke-width="0.6"/>
<path d="M33.9,421.4 L35.0,420.6 L33.1,421.6 L30.8,423.1 L29.6,422.7 L27.4,423.0 L25.2,421.8 L22.2,421.5 L20.2,420.6 L18.8,420.8 L18.0,419.1 L17.8,416.7 L18.0,415.3 L17.8,413.6 L18.1,412.1 L18.3,409.7 L20.0,407.8 L21.5,406.0 L23.1,404.2 L24.5,402.9 L26.9,401.7 L28.2,401.5 L29.5,401.2 L31.7,400.8 L34.7,401.5 L36.4,401.6 L38.2,402.4 L39.3,402.2 L40.6,402.1 L44.2,401.5 L45.7,400.1 L48.3,402.4 L50.6,404.4 L52.0,407.1 L52.1,410.2 L50.8,412.4 L50.4,414.3 L48.6,416.5 L46.4,418.2 L44.0,417.6 L42.1,417.2 L39.5,415.6 L39.1,414.7 L39.1,418.0 L39.1,419.8 L42.0,421.1 L40.3,422.7 L40.6,425.1 L39.4,426.2 L38.4,426.3 L36.0,428.0 L34.0,428.7 L31.6,429.1 L30.0,429.1 L28.5,428.2 L26.9,428.6 L23.7,428.5 L22.2,430.4 L19.5,432.0 L17.8,432.6 L19.5,435.8 L20.1,438.2 L22.1,440.1 L21.5,442.4 L21.6,441.1 L21.8,438.3 L20.6,436.7 L18.2,435.1 L17.9,435.1 L19.1,436.9 L21.3,436.7 L23.5,435.1 L25.2,433.8 L26.5,433.1 L28.2,431.5 L28.6,428.7 L27.8,426.5 L27.1,425.3 L29.2,426.1 L30.9,426.5 L33.6,427.8 L36.1,428.9 L37.2,430.8 L36.7,432.4 L36.3,434.9 L36.7,437.9 L36.6,439.8 L36.1,441.1 L37.1,442.2 L38.8,439.6 L41.5,439.5 L42.8,438.3 L44.4,437.6 L45.6,436.1 L48.4,434.3 L49.8,431.1 L51.7,429.6 L51.6,426.9 L52.4,424.3 L53.8,421.9 L52.5,420.0 L50.0,418.1 L46.5,416.8 L45.5,416.1 L46.4,414.7 L43.4,413.1 L43.4,410.0 L43.4,409.1 L42.3,406.0 L40.8,403.9 L38.9,402.8 L38.4,401.7 L35.6,399.5 L33.1,397.2 L31.2,395.9 L29.7,394.3 L29.2,396.7 L29.8,399.3 L32.0,402.0 L33.3,404.1 L34.3,406.3 L37.5,407.9 L37.9,408.4 L38.7,409.4 L41.1,410.5 L43.2,411.9 L45.1,414.1 L46.4,416.0 L48.0,417.7 L50.1,418.5 L52.3,420.0 L53.4,421.7 L51.9,423.6 L51.9,425.2 L49.8,427.3 L48.2,428.9 L46.7,430.1 L46.6,432.5 L45.0,434.7 L43.8,436.2 L42.8,438.0 L43.1,440.0 L43.8,442.0 L45.8,442.7 L46.9,441.0 L46.5,438.1 L46.2,435.9 L46.8,433.5 L45.8,431.2 L44.9,430.1 L41.7,431.1 L40.2,431.1 L37.6,429.1 L36.0,427.5 L34.0,428.5 L32.3,429.7 L30.7,429.8 L27.9,430.4 L25.3,431.6 L23.5,432.5 L21.6,433.6 L20.6,436.1 L18.4,437.2 L17.3,436.2 L18.9,436.0 L20.8,436.6 L22.1,436.7 L24.4,435.8 L26.1,435.3 L27.3,433.9 L29.3,432.5 L31.2,432.0 L32.7,430.3 L33.2,428.9 L34.6,427.5 L36.4,426.9 L35.1,427.8 L32.2,427.9 L31.1,427.9 L29.0,427.7 L26.9,426.9 L24.6,428.8 L22.5,428.9 L20.2,428.2 L17.9,426.7 L19.7,424.7 L21.8,423.8 L23.3,424.7 L25.9,426.0 L28.9,427.2 L29.8,429.2 L29.5,432.0 L31.4,433.3 L32.6,434.9 L33.7,435.9 L34.5,436.0 L36.3,436.9 L38.1,437.4 L39.7,438.2 L42.1,437.8 L45.5,437.6 L47.9,435.8 L50.8,434.7 L53.3,434.0 L53.1,432.9 L52.8,430.1 L52.1,428.1 L53.6,426.5 L51.1,426.1 L49.8,423.6 L48.9,422.0 L49.8,420.2 L49.2,417.5 L50.5,417.1 L51.7,415.3 L52.0,412.3 L52.7,409.0 L53.9,406.1 L51.8,403.4 L50.8,402.3 L50.5,399.8 L51.4,398.1 L50.4,395.9 L50.1,394.3 L48.5,394.3 L47.6,396.9 L47.7,397.9 L48.7,399.0 L48.8,401.5 L50.7,402.7 L51.5,403.7 L53.5,403.8 L51.4,402.7 L48.3,403.6 L46.8,405.2 L44.6,407.4 L42.6,407.1 L40.7,406.3 L38.9,403.7 L38.1,401.1 L39.3,399.3 L38.3,398.6 L38.0,396.6 L36.6,396.3 L35.6,394.3 L35.3,397.5 L34.9,400.0 L35.8,402.8 L35.8,405.0 L37.3,405.7 L38.5,406.7 L41.2,407.8 L41.8,408.9 L42.2,410.9 L42.7,411.9 L42.9,414.5 L42.4,417.1 L43.1,417.7 L42.8,418.9 L42.7,420.5 L40.8,422.5 L40.5,424.3 L38.2,424.9 L36.0,424.5 L32.5,423.8 L31.2,423.7 L30.1,425.8 L30.2,427.3 L27.5,426.9 L25.6,426.7 L24.4,425.9 L22.6,425.0 L20.8,423.8 L19.8,421.7 L17.6,419.6 L17.5,417.0 L17.9,414.1 L17.4,411.9 L17.4,410.3 L18.0,408.1 L17.9,405.9 L17.5,404.9 L19.2,402.5 L21.4,401.9 L23.2,401.2 L24.4,400.3 L25.2,400.2 L27.4,400.2 L28.7,400.1 L30.6,400.6 L33.4,400.8 L35.6,399.6 L37.3,399.7 L40.6,400.7 L42.1,401.7 L41.6,404.0 L43.5,406.5 L44.1,408.5 L45.3,411.2 L47.3,412.4 L48.3,412.1 L49.7,412.5 L51.3,413.0 L52.5,413.3 L53.4,414.7 L53.7,417.1 L51.8,418.4 L50.7,421.4 L50.4,423.6 L49.7,425.3 L48.6,427.0 L48.1,430.0 L46.9,432.6 L45.7,433.8 L44.9,434.8 L44.0,437.9 L43.5,439.1 L42.1,440.2 L40.3,440.6 L38.9,442.2 L35.7,442.8 L32.6,442.8 L31.3,440.9 L29.4,440.0 L29.4,438.6 L28.1,436.1 L26.0,434.6 L24.6,432.8 L22.4,432.2 L20.3,432.7 L17.8,434.4 M84.4,442.0 L81.5,442.3 L78.8,442.0 L77.3,439.9 L74.1,440.2 L71.9,439.9 L70.1,440.3 L68.8,442.7 L67.1,440.4 L66.6,438.6 L66.0,438.2 L65.4,436.8 L64.4,434.2 L63.6,432.4 L62.9,430.7 L63.0,428.8 L63.2,426.3 L64.0,424.5 L67.1,423.2 L69.9,423.2 L70.0,424.7 L71.4,427.5 L73.5,428.8 L74.9,430.6 L77.1,431.0 L78.4,429.6 L79.8,428.6 L82.8,427.3 L85.3,426.9 L86.8,427.8 L87.9,430.8 L88.7,433.4 L90.1,435.3 L92.3,436.8 L93.1,438.8 L94.8,441.3 L94.1,442.8 L92.2,439.6 L91.0,438.4 L89.2,437.2 L87.3,435.1 L84.9,434.5 L82.6,434.1 L79.8,435.3 L78.2,435.1 L75.5,436.1 L74.5,436.4 L72.9,436.4 L70.4,435.7 L69.0,436.1 L65.5,436.9 L63.9,438.0 L61.5,438.5 L59.0,439.5 L58.3,440.2 L55.4,441.2 L54.4,441.5 L53.8,442.3 L56.9,441.6 L58.8,441.9 L60.4,442.1 L62.1,441.7 L63.7,441.6 L64.9,441.2 L66.9,441.5 L69.5,440.8 L71.9,441.0 L73.3,440.5 L74.6,439.3 L75.4,438.3 L77.6,436.8 L78.5,434.5 L80.5,431.7 L82.4,430.8 L83.2,429.5 L84.4,428.9 L85.0,426.9 L85.7,423.1 L86.2,421.0 L85.9,418.6 L86.8,415.8 L88.2,414.0 L89.0,412.6 L89.4,410.9 L89.9,409.3 L91.0,408.2 L92.5,406.2 L94.1,404.4 L95.1,402.8 L95.3,401.0 L95.3,398.1 L93.7,397.7 L92.1,397.6 L89.0,397.0 L87.3,396.1 L86.8,394.3 L86.3,397.1 L86.3,399.9 L86.0,402.1 L86.3,402.8 L87.1,404.3 L87.8,406.9 L86.4,409.3 L85.8,411.6 L85.3,413.5 L85.6,415.1 L85.2,416.6 L86.5,418.2 L87.7,420.0 L90.9,420.5 L92.3,420.7 L93.9,421.4 L95.4,420.9 L91.9,421.4 L89.4,420.8 L89.0,419.5 L86.7,417.2 L86.4,415.1 L85.1,412.3 L85.0,410.6 L85.4,408.8 L85.5,407.4 L86.0,403.9 L86.4,401.9 L87.6,398.9 L88.3,396.8 L89.4,394.8 L88.9,397.4 L88.8,400.2 L86.0,401.8 L83.6,402.1 L80.7,401.0 L79.0,399.3 L77.6,397.8 L75.2,396.5 L73.9,395.8 L71.5,394.3 L69.7,396.2 L68.9,397.0 L68.7,399.7 L67.7,400.3 L64.7,402.3 L62.1,402.8 L59.0,402.0 L57.9,400.3 L56.0,397.9 L54.2,397.4 L54.1,395.6 L55.8,394.3 L56.4,394.6 L59.6,394.9 L60.6,394.9 L61.8,394.6 L63.0,395.5 L65.2,397.0 L66.1,395.9 L68.0,395.5 L69.0,394.3 L71.1,396.7 L72.5,397.5 L75.5,396.3 M107.9,397.0 L107.9,398.3 L107.1,400.1 L105.9,401.4 L103.8,403.0 L101.7,403.6 L100.8,405.0 L97.4,405.9 L96.3,406.9 L95.3,408.0 L98.5,408.4 L100.4,410.0 L101.9,411.6 L102.8,412.4 L103.9,415.3 L106.8,416.6 L108.8,418.1 L110.8,421.4 L109.7,424.0 L108.7,424.6 L106.8,425.3 L105.8,424.0 L102.6,423.4 L100.0,423.9 L98.3,425.9 L95.7,426.4 L95.1,427.5 L97.2,429.1 L97.4,430.9 L96.2,434.1 L96.1,436.8 L96.2,438.1 L95.2,440.1 L96.0,441.1 L99.2,442.4 L101.0,440.1 L103.6,438.7 L106.2,439.2 L108.2,438.7 L110.9,438.0 L113.3,436.4 L116.0,435.7 L118.9,436.2 L120.9,435.9 L122.1,435.4 L123.0,436.1 L126.1,437.9 L126.5,438.0 L124.6,439.0 L122.0,439.5 L120.0,440.5 L118.5,442.1 L117.2,442.9 L114.5,441.1 L112.3,440.4 L110.3,440.3 L108.7,441.0 L107.3,441.1 L105.8,441.2 L103.7,439.8 L102.0,439.4 L100.4,442.0 L100.5,442.5 L99.5,439.5 L98.3,437.8 L97.1,436.2 L95.8,435.5 L95.3,434.6 L96.1,432.4 L95.6,430.7 L98.0,428.8 L98.4,425.9 L98.4,423.8 L99.2,421.6 L101.0,418.9 L102.1,417.5 L103.5,414.4 L103.5,411.4 L104.1,409.8 L105.0,407.8 L104.5,409.9 L103.9,410.6 L103.4,413.3 L103.4,415.1 L103.3,416.8 L104.5,419.8 L106.1,422.6 L107.4,423.8 L109.7,424.3 L110.9,425.2 L112.7,425.7 L115.1,427.0 L118.5,427.5 L121.4,427.7 L124.3,428.0 L124.7,429.1 L124.3,431.2 L123.4,432.9 L123.7,434.2 L124.1,435.2 L124.6,436.2 L122.9,438.8 L121.7,440.7 L121.2,442.1 L120.9,442.8 L120.8,439.4 L122.7,437.1 L123.9,436.2 L125.0,435.3 L126.8,434.1 L126.0,431.1 L124.9,430.9 L123.8,429.2 L123.4,427.1 L122.6,425.5 L124.5,424.8 L126.7,422.8 L126.3,422.6 L125.3,421.8 L126.3,420.2 L126.8,418.9 L126.4,417.8 L126.3,415.7 L126.2,418.6 L124.1,421.2 L122.7,423.9 L123.2,427.0 L122.3,429.4 L122.0,432.3 L123.6,434.6 L126.1,434.2 L126.3,433.7 L125.4,432.2 L123.5,432.9 L120.4,432.4 L119.4,432.1 L116.7,432.1 L114.5,431.4 L112.5,430.4 L110.2,429.9 L108.0,429.8 L106.5,428.3 L105.6,427.8 L104.1,426.1 L102.6,425.1 L101.7,423.4 L100.6,421.5 L98.6,419.6 L95.8,418.5 L95.4,418.5 L98.0,419.3 L100.3,419.1 L102.1,418.7 L101.1,417.0 L101.0,415.6 L101.0,413.4 L100.7,410.3 L101.5,409.3 L103.4,409.3 L104.6,408.6 L108.3,407.8 L108.9,408.5 L111.5,406.0 L111.9,403.3 L114.8,403.0 L116.1,402.5 L118.0,403.0 L119.5,403.2 L121.0,403.4 L123.4,405.1 L125.9,406.4 L126.6,406.0 L125.3,405.3 L122.3,404.7 L125.1,406.5 L126.5,408.3 L126.5,411.4 L126.4,412.7 L125.9,414.1 L126.0,415.2 L125.5,417.0 L123.4,420.2 L121.7,421.9 L122.9,420.5 L125.5,420.3 L126.8,418.7 L124.8,419.7 L121.9,420.7 L123.7,419.8 L124.1,418.2 L125.0,415.9 L126.0,414.3 L126.7,412.6 L125.2,411.9 L123.1,411.3 L123.0,407.9 L121.1,405.6 L119.7,403.1 L117.4,402.6 L115.5,401.9 L113.5,403.2 L111.3,403.3 L109.9,404.7 L107.4,404.5 L105.5,404.0 L104.2,402.0 L103.1,401.1 L101.6,399.2 L100.4,396.8 L100.4,394.6 L100.0,394.6 L98.3,396.3 L97.1,396.9 L95.3,396.9 L96.5,397.1 L97.7,396.3 L99.3,395.8 L100.6,395.4 L102.5,395.9 L104.7,396.4 L107.1,397.5 L108.2,398.9 L111.1,399.7 L113.3,401.4 L116.5,400.8 L119.2,401.8 L118.1,401.3 L115.4,400.1 L112.7,400.8 L109.7,401.6 L107.1,401.7 L105.7,403.4 L102.3,403.6 L101.7,405.0 L100.0,406.2 L99.2,407.3 L98.4,408.3 L96.2,409.8 L95.5,412.6 L95.8,413.8 L95.7,416.6 L96.2,418.9 L96.5,422.2 L96.1,424.3 L96.0,425.8 L95.5,427.6 L96.2,428.1 L98.5,430.2 L99.6,432.9 L100.6,433.3 L103.4,435.1 L105.2,437.2 L108.0,437.3 L110.6,436.8 L113.3,436.2 L114.6,436.9 L116.6,436.1 L118.7,436.1 L121.7,436.5 L124.8,437.1 L126.6,437.2 L126.9,437.8 L123.7,436.8 L121.0,436.5 L119.1,438.2 L117.9,439.6 L117.3,440.9 L116.9,442.8 L117.2,439.8 L118.3,438.6 L119.4,436.5 L120.8,435.0 L121.8,432.2 L122.4,429.7 L121.4,428.5 L119.9,427.7 L119.4,423.8 L119.2,421.6 L118.5,420.6 L118.0,422.0 L116.7,422.6 M19.4,399.1 L20.4,400.7 L19.8,398.3 L18.9,395.9 L17.3,395.1 L17.4,394.4 L18.9,396.3 L20.2,398.1 L21.6,400.5 L23.3,401.2 L25.3,398.2 L26.4,396.9 L28.8,396.1 L31.8,397.7 L32.4,401.0 L32.5,400.7 L32.8,398.1 L33.0,397.0 L35.5,395.6 L36.6,394.3 L39.7,394.7 L41.8,394.7 L42.3,395.4 L44.1,398.4 L47.4,400.0 L47.7,400.7 L47.1,398.6 L46.8,397.0 L48.0,395.7 L48.9,394.7 L51.3,395.1 L52.4,395.6 L54.0,396.1 L52.1,396.2 L50.1,396.7 L48.2,397.0 L45.3,396.1 L42.4,397.4 L41.2,398.5 L40.6,398.4 L38.8,400.1 L37.3,400.7 L34.2,401.3 L31.9,401.1 L31.6,398.9 L31.8,397.7 L29.9,395.5 L31.2,394.6 L32.6,397.2 L34.0,398.9 L35.5,400.8 L37.0,399.6 L38.6,398.2 L39.6,396.0 L40.4,394.9 L40.6,396.4 L39.5,399.2 L39.1,400.9 L38.8,401.1 L36.6,399.5 L34.1,398.9 L32.5,400.6 L32.0,400.9 L32.1,399.9 L30.3,398.4 L29.0,398.0 L27.1,396.5 L24.7,395.4 L22.0,395.5 L19.2,395.8 L17.5,397.2 L19.0,399.5 L21.5,401.3 L24.4,401.1 L26.1,399.9 L26.7,398.7 L28.1,396.8 L27.8,394.5 L25.2,396.4 L24.6,397.4 L23.7,399.0 M104.0,424.1 L103.5,424.6 L102.1,425.1 L100.0,425.1 L99.1,425.5 L96.7,425.4 L96.1,426.2 L90.4,426.1 L85.7,426.8 L81.0,427.4 L77.7,428.4 L73.2,428.6 L68.6,427.8 M19.3,397.3 L31.9,401.8 L44.8,406.6 L56.6,410.8 L69.7,415.0 L83.3,420.2 L94.9,424.8 L98.0,423.4 L99.7,421.9 L101.3,421.0 L103.8,420.6 L105.5,419.5 L108.1,418.5 M89.3,418.3 L82.5,416.6 L77.4,415.0 L71.0,414.2 L65.4,411.5 L59.9,411.1 L53.9,408.5 L48.7,407.3 L44.1,405.7 L38.1,404.0 L32.8,401.3 L28.4,399.7 L23.4,398.2 M125.0,415.6 L122.8,416.6 L123.3,412.5 L107.4,411.6 L105.2,411.7 L99.6,410.0 L95.4,408.3 L92.3,410.0 L88.2,411.5 L85.0,413.4 L81.6,414.9 L78.3,416.7 L73.7,418.1 M62.2,398.1 L67.8,400.6 L72.3,402.1 L78.2,404.3 L84.5,405.8 L89.2,407.8 L95.3,409.5 L96.9,411.7 L100.5,413.7 L101.5,415.9 L104.0,417.9 L106.4,420.4 L108.8,422.5 M114.8,426.1 L112.3,426.1 L108.8,425.9 L105.2,425.3 L101.2,426.0 L98.2,426.0 L95.5,426.1 L87.4,427.0 L79.3,429.2 L72.3,430.1 L63.5,431.8 L55.7,433.6 L48.3,435.3 M65.8,409.6 L70.4,411.5 L75.2,415.0 L81.3,417.1 L86.1,421.2 L90.9,422.8 L94.6,426.5 L99.1,423.7 L105.0,422.4 L109.2,420.8 L111.4,420.6 L119.5,420.4 L123.2,415.3 M112.0,431.5 L109.0,427.5 L105.6,424.1 L104.3,420.4 L101.2,416.0 L98.7,412.8 L95.4,410.2 L94.3,411.3 L94.3,414.1 L92.2,416.5 L91.6,418.9 L90.7,420.3 L90.3,423.3 M64.3,416.1 L69.6,415.3 L75.8,414.0 L80.4,411.8 L85.1,410.8 L89.6,409.0 L95.1,408.0 L98.9,412.2 L102.7,416.3 L107.2,420.7 L111.3,425.0 L114.2,430.3 L118.1,433.3 M124.6,414.1 L122.7,416.8 L115.5,421.6 L110.0,420.5 L105.7,422.9 L99.7,425.0 L95.0,427.0 L89.6,422.7 L84.0,416.8 L78.1,413.0 L72.5,407.1 L67.1,402.9 L62.1,397.1 M122.1,428.6 L117.0,425.4 L113.3,422.1 L108.9,419.4 L104.9,416.1 L100.5,412.5 L95.5,409.6 L92.3,411.7 L90.3,414.6 L87.4,416.5 L85.4,418.6 L82.1,422.6 L80.2,424.4 M44.4,406.6 L45.6,411.0 L47.7,414.4 L49.3,416.0 L50.8,420.5 L52.0,423.0 L53.3,426.2 L59.8,422.0 L65.0,417.8 L71.1,413.6 L76.9,409.2 L82.9,404.5 L88.3,401.6 M102.6,437.8 L100.5,436.5 L100.2,434.5 L98.9,433.0 L98.4,430.9 L96.2,428.6 L95.4,427.1 L87.8,427.2 L80.4,427.1 L72.6,427.5 L66.0,426.3 L57.5,427.1 L50.7,427.5 M91.0,419.5 L85.2,416.8 L79.1,416.6 L72.9,414.0 L67.0,412.5 L60.0,411.5 L53.2,409.7 L49.4,408.3 L45.3,408.0 L42.5,406.2 L39.2,405.3 L34.6,404.9 L31.1,403.0" fill="none" stroke="#111" stroke-width="0.45" stroke-linejoin="round"/>
<circle cx="30.9" cy="413.5" r="7.2" fill="#fff"/>
<g fill="none" stroke="#111" stroke-width="0.45"><ellipse cx="31.1" cy="413.3" rx="8.3" ry="7.7"/><ellipse cx="31.1" cy="413.6" rx="8.3" ry="7.8"/></g>
<circle cx="115.3" cy="413.5" r="7.2" fill="#fff"/>
<g fill="none" stroke="#111" stroke-width="0.45"></g>
<rect x="13.7" y="387.8" width="120.7" height="56.1" fill="none" stroke="#4044a8" stroke-width="1.8"/>
<text x="26.60" y="456.80" font-size="10.9" font-weight="bold" fill="#050505">S1</text>
<text x="99.10" y="456.80" font-size="10.9" font-weight="bold" fill="#050505">Object</text>
<rect x="16.0" y="463.7" width="38.0" height="51.3" fill="none" stroke="#e9f0b0" stroke-width="0.6"/>
<rect x="54.0" y="463.7" width="41.4" height="51.3" fill="none" stroke="#97a3dc" stroke-width="0.6"/>
<rect x="95.4" y="465.6" width="38.0" height="50.0" fill="none" stroke="#b5e0a8" stroke-width="0.6"/>
<path d="M35.3,498.4 L34.0,499.0 L31.6,499.1 L30.6,499.6 L28.6,500.9 L26.1,501.5 L25.1,501.1 L22.5,499.8 L21.8,498.4 L20.4,496.8 L18.7,495.2 L18.5,493.6 L19.1,492.1 L18.7,490.0 L19.0,488.5 L19.1,487.5 L19.5,485.5 L19.5,483.9 L19.8,482.8 L20.5,481.9 L21.4,479.7 L23.1,478.8 L23.5,477.5 L23.9,475.5 L24.8,473.1 L26.1,472.0 L28.1,471.4 L29.0,469.1 L28.6,466.4 L29.0,467.9 L28.4,470.6 L27.3,472.7 L27.8,474.3 L29.1,473.9 L30.1,473.3 L32.7,470.9 L32.7,469.3 L32.4,466.4 L32.2,467.7 L31.2,469.0 L30.3,470.6 L28.4,472.6 L27.2,475.5 L29.1,474.4 L30.8,474.0 L34.0,473.7 L36.8,473.9 L39.4,473.1 L40.3,471.1 L39.9,470.0 L40.7,468.8 L41.0,467.2 L41.7,466.1 L41.7,467.8 L41.5,469.7 L42.1,471.7 L43.1,474.5 L44.7,475.7 L47.0,477.9 L48.9,478.4 L50.9,476.0 L51.9,475.4 L54.4,475.0 L52.9,473.9 L50.3,475.7 L49.0,477.8 L45.8,478.7 L44.5,478.8 L42.1,479.4 L40.3,481.3 L38.5,481.6 L36.9,481.4 L35.0,479.6 L32.9,479.6 L31.2,480.0 L29.3,480.1 L27.6,479.9 L26.6,479.7 L24.5,481.9 L22.2,483.9 L20.3,485.3 L18.5,485.2 L21.0,485.1 L23.8,484.5 L23.5,485.9 L24.2,486.8 L23.7,488.2 L23.5,490.3 L24.4,492.5 L24.8,495.2 L25.8,496.6 L27.5,497.5 L28.8,498.7 L30.5,499.1 L33.7,499.7 L35.8,501.0 L36.9,501.0 L38.8,500.6 L39.5,498.0 L40.1,496.6 L41.3,495.5 L43.4,494.0 L44.2,491.7 L43.8,488.8 L42.5,486.7 L42.5,484.8 L41.7,483.2 L41.9,480.7 L39.8,478.7 L38.7,477.4 L38.5,475.3 L37.3,474.9 L35.2,472.8 L34.0,470.5 L32.9,468.8 L33.2,466.5 L33.9,467.7 L34.7,471.1 L33.6,473.2 L32.7,473.4 L30.0,473.4 L28.5,474.0 L26.6,474.8 L25.0,475.2 L27.6,473.3 L30.8,472.6 L33.3,472.4 L34.7,471.3 L35.5,470.8 L35.6,468.5 L37.7,466.1 L38.3,467.4 L38.5,469.9 L38.2,473.1 L36.5,475.6 L33.4,477.0 L32.3,476.8 L30.0,477.8 L28.1,475.7 L30.6,475.3 L32.3,474.4 L34.1,474.5 L34.8,475.0 L36.8,475.1 L38.7,475.5 L40.8,478.9 L42.0,479.7 L43.0,480.8 L45.3,481.7 L46.6,482.6 L48.1,482.6 L49.8,483.0 L52.4,483.5 L54.3,483.8 L54.3,484.3 L52.1,484.1 L50.4,485.4 L47.4,485.1 L44.6,485.4 L45.7,488.0 L45.3,490.4 L44.8,493.8 L42.0,496.3 L40.9,495.8 L39.0,494.2 L38.4,493.5 L37.7,494.2 L35.0,496.0 L33.8,497.1 L31.7,498.9 L30.5,500.1 L28.5,501.3 L25.6,501.2 L24.6,500.8 L22.5,498.5 L20.3,496.3 L19.3,495.1 L20.2,492.7 L20.0,492.1 L18.2,490.4 L18.6,488.1 L18.6,486.2 L18.5,484.5 L19.5,482.2 L19.5,480.4 L18.9,482.7 L20.0,484.1 L18.5,486.8 L19.3,488.5 L19.6,491.2 L20.5,494.6 L20.8,495.5 L20.8,498.9 L20.8,501.0 L19.6,502.2 L19.1,504.6 L18.4,507.0 L20.4,507.7 L22.6,508.7 L23.8,509.8 L24.1,512.6 L23.6,513.8 L22.4,514.9 L22.3,512.3 L22.7,510.5 L22.1,509.1 L23.2,507.3 L23.4,505.5 L23.5,503.8 L23.4,501.0 L22.8,499.1 L22.9,496.5 L23.8,495.4 L24.1,493.5 L24.9,490.6 L25.1,493.4 L27.2,494.7 L28.9,495.8 L31.1,496.7 L33.1,497.6 L35.1,497.8 L36.9,497.2 L37.8,495.3 L39.8,493.6 L41.9,493.0 L44.7,492.9 L45.1,490.6 L44.7,488.4 L44.8,485.2 L46.1,482.8 L45.1,480.6 L44.7,477.9 L42.6,476.3 L42.3,474.6 L43.3,471.6 L45.5,470.7 L45.2,467.2 L46.2,466.5 L46.8,468.6 L47.1,469.9 L45.9,472.8 L44.7,475.5 L42.7,477.7 L42.2,479.2 L43.2,480.3 L44.4,481.2 L45.3,483.0 L45.9,484.5 L46.5,486.0 L46.8,487.1 L46.1,489.0 L45.6,490.8 L44.2,491.2 L41.6,491.4 L40.3,490.4 L41.8,488.0 L41.7,489.2 L40.8,492.1 L40.1,493.2 L38.6,495.3 L37.9,496.6 L36.6,498.7 L35.4,499.1 L32.5,500.5 L30.8,500.7 L28.3,500.7 L26.4,500.3 L23.7,501.0 L22.7,502.2 L21.4,502.8 L20.2,505.0 L18.5,505.4 L18.7,504.9 L21.2,503.6 L23.9,503.2 L25.9,501.9 L28.8,502.1 L26.3,501.0 L24.8,501.9 L22.6,502.3 L19.5,502.6 L18.8,503.8 L20.8,504.7 L22.7,504.1 L25.0,505.4 L25.6,505.5 L28.7,506.6 L30.8,506.9 L32.7,508.5 L33.8,509.0 L35.8,509.7 L37.0,510.1 L38.5,511.2 L40.1,513.8 L38.3,515.2 L37.9,513.2 L37.5,511.9 L38.7,509.3 L40.0,508.2 L41.3,506.9 L42.4,506.3 L44.1,505.5 L46.1,505.1 L47.9,503.3 L49.5,501.9 L50.2,501.4 L51.0,500.8 L52.5,499.6 L53.9,497.5 L52.0,495.1 L51.1,494.4 L51.2,492.4 L50.4,489.2 L49.5,486.2 L47.4,485.0 L45.6,485.5 L43.7,484.6 L43.3,484.4 L42.7,482.1 L42.2,481.4 L42.8,479.4 L42.0,476.5 L41.1,475.1 L39.1,473.6 L36.2,473.5 L35.6,472.1 L34.3,470.2 L32.0,468.1 L31.3,466.5 L31.3,468.2 L29.7,468.4 L28.0,468.7 L25.2,469.6 L22.5,468.6 L20.4,468.2 L19.2,469.1 L18.4,467.1 L21.8,466.8 L24.3,468.4 L25.5,468.0 L28.2,466.8 L30.2,466.2 L30.2,466.7 L29.0,469.2 L27.9,470.1 L25.9,470.8 L23.3,472.2 L21.4,474.0 L21.1,477.5 L19.1,479.5 L18.6,481.8 L18.1,484.3 L19.6,484.8 L23.1,485.7 L24.9,485.2 L25.0,483.8 L26.4,481.4 L26.9,480.5 L27.8,477.8 L29.3,476.0 L31.3,476.0 L34.1,475.6 L35.4,476.6 L36.7,476.5 L38.8,479.3 L39.9,480.6 L40.8,480.9 L41.7,482.6 L42.3,483.7 L42.6,485.7 L42.7,487.0 L42.2,489.1 L42.2,490.5 L42.1,492.3 L41.9,494.0 L40.8,494.7 L41.0,498.0 L39.2,500.3 L37.2,502.7 L35.4,502.6 L33.0,503.7 L32.1,504.5 L30.4,504.1 L28.6,503.8 L25.9,501.8 L23.6,501.5 L23.5,503.1 L22.8,506.3 L21.5,508.2 L21.0,511.6 L21.0,513.8 L20.4,515.4 L20.5,514.9 L18.9,512.8 L18.4,512.7 L20.2,512.2 L22.7,510.6 L24.2,509.3 L26.3,508.6 L27.1,506.9 L28.5,504.9 L28.8,503.3 L28.9,500.6 L26.4,500.1 L24.8,499.5 L23.6,498.7 L22.5,498.6 L20.0,497.6 L18.4,498.6 L18.7,499.1 L21.7,500.4 L23.4,501.1 L25.0,501.2 L24.2,500.5 L22.4,499.6 L20.4,497.1 L19.7,496.4 L18.7,494.5 L18.8,492.4 L18.4,490.1 L19.4,488.2 L20.2,487.2 L20.9,485.8 L21.2,484.1 L20.6,486.8 L18.8,487.9 L20.8,488.8 L20.7,491.3 L21.5,494.2 L23.1,496.1 L24.8,497.9 L28.2,499.6 L29.9,500.4 L31.5,500.4 L34.1,500.6 L35.9,500.4 L39.4,500.2 L40.2,499.8 L43.8,499.2 L45.6,499.7 L47.1,500.3 L48.3,498.9 L49.4,498.2 L50.5,496.3 L51.8,494.6 L52.7,494.0 L53.7,491.6 L54.3,489.5 L52.4,489.8 L50.8,490.4 L49.7,491.7 L48.0,494.6 L47.3,495.5 L45.0,497.9 L43.8,497.7 L46.1,495.4 L47.4,494.3 L49.8,494.3 L52.7,493.9 L53.7,494.7 L52.7,496.4 L50.6,496.7 L47.8,498.1 L46.1,499.1 L44.8,498.8 L42.7,498.7 L44.7,497.2 L45.9,495.8 L46.3,494.3 L47.6,491.2 L48.4,488.0 L48.1,485.2 L46.3,482.8 L44.9,479.6 L42.2,478.7 L40.7,477.6 L40.1,476.5 L38.1,474.7 L37.0,473.9 L36.3,471.6 L35.3,469.9 L34.1,467.9 L32.9,467.5 L30.8,466.4 L28.3,466.4 L27.4,467.4 L24.3,468.0 L21.4,468.2 L20.3,468.4 L19.1,467.8 L18.5,469.4 L20.4,470.4 L20.8,469.6 L22.8,469.2 L26.1,468.0 L28.5,467.3 L31.4,466.7 L33.2,466.3 L34.7,466.5 L35.6,467.0 L38.0,468.3 L39.5,469.7 L41.0,470.3 L43.0,470.6 L44.4,471.6 L47.1,472.4 L49.3,470.4 L51.2,469.3 L53.3,468.7 L53.8,468.1 L52.6,466.8 L50.3,468.1 L48.0,468.5 L45.6,469.8 L43.4,469.0 L41.9,466.9 L40.5,466.8 L37.4,466.3 L35.2,468.3 L32.7,470.5 L32.9,471.5 M70.7,485.5 L71.9,482.8 L72.0,482.0 L73.5,479.7 L74.3,476.6 L75.6,474.2 L78.1,472.5 L80.8,472.9 L82.9,472.8 L84.9,473.0 L86.1,473.6 L87.6,473.1 L90.0,472.8 L91.9,474.2 L94.0,473.3 L95.0,475.1 L94.3,475.1 L90.9,476.3 L89.1,477.0 L85.7,477.1 L84.5,477.6 L83.0,477.8 L81.6,478.5 L78.9,478.9 L77.8,479.2 L75.7,478.1 L72.3,478.9 L69.6,479.0 L68.0,480.1 L65.9,480.1 L64.7,482.1 L63.3,482.9 L63.3,484.0 L61.1,485.5 L60.0,486.3 L57.6,488.3 L56.0,489.6 L55.0,489.7 L53.7,489.7 L54.8,486.6 L56.2,485.9 L57.8,483.9 L58.3,482.5 L57.5,478.8 L55.5,477.7 L53.9,476.7 L55.5,475.3 L56.6,475.6 L59.5,473.4 L60.5,472.8 L62.8,473.4 L64.6,474.7 L67.5,475.1 L69.7,475.5 L72.7,474.0 L73.9,472.8 L75.8,470.5 L76.1,468.8 L77.8,467.5 L79.7,466.4 L82.3,467.2 L84.1,466.7 L86.7,467.7 L89.4,467.9 L92.0,468.4 L95.1,467.9 L95.6,469.3 L92.3,471.3 L91.4,471.0 L89.8,472.0 L88.3,475.3 L89.1,478.1 L88.6,479.9 L86.5,481.0 L85.1,482.2 L83.6,483.2 L83.6,484.1 L81.6,485.5 L80.1,485.5 L77.4,486.8 L76.7,486.5 L74.8,486.2 L73.1,484.5 L71.6,484.3 L68.7,482.8 L67.0,483.0 L65.3,481.5 L63.4,478.8 L62.6,476.1 L61.7,474.5 L61.9,472.6 L62.4,470.7 L62.0,467.5 L62.4,466.3 L62.5,467.3 L62.7,469.2 L62.4,471.4 L62.2,474.5 L62.6,476.8 L62.8,479.2 L63.2,481.4 L63.6,482.5 L63.7,484.5 L62.6,486.9 L60.3,489.0 L60.0,491.3 L59.9,493.0 L59.8,495.0 L59.0,497.4 L56.9,498.8 L55.1,501.0 L53.8,503.4 L55.0,506.1 L56.0,509.1 L56.0,511.4 L55.5,513.2 L54.9,513.7 L53.7,514.3 L56.9,515.1 L59.4,514.4 L60.3,514.2 L62.0,514.9 L63.1,513.8 L64.3,513.8 L66.4,513.4 L69.4,512.9 L70.5,511.8 L72.1,512.0 L74.7,512.3 L76.8,513.4 L78.9,513.8 L81.5,514.3 L84.6,514.9 L86.8,514.7 L89.3,514.3 L90.6,512.7 L91.5,511.3 L91.7,508.8 L92.4,506.1 L92.8,504.4 L92.6,501.9 L92.6,500.6 L92.6,498.3 L92.0,496.5 L90.3,495.4 L87.9,493.5 L86.8,493.0 L84.5,492.8 L82.3,492.0 L79.7,493.2 L77.5,493.0 L75.7,494.1 L73.3,495.8 L71.8,495.8 L70.3,496.7 L68.5,497.4 L67.4,496.5 L65.4,495.6 L62.6,495.3 L60.0,493.8 L58.1,495.0 L57.5,494.8 L56.2,495.7 L55.1,496.6 L54.0,499.2 L54.0,500.8 L56.1,503.0 L57.4,504.2 L58.7,505.5 L60.5,507.9 L62.1,508.6 L63.5,511.9 L65.4,514.2 L66.4,515.0 L67.3,513.4 L66.8,511.3 L67.0,509.7 L67.0,506.8 L66.1,505.0 L67.6,501.6 L67.9,498.9 L69.9,496.1 L69.8,494.8 L69.8,493.1 L70.7,490.6 L71.0,488.5 L71.4,486.6 L71.9,483.3 L71.3,481.3 L72.0,477.7 L72.5,476.1 L73.4,473.0 L72.7,471.2 L72.8,470.2 L72.3,469.0 L72.1,467.4 L71.7,466.6 L72.7,468.6 L72.9,470.6 L74.4,471.7 L76.1,473.5 L78.4,474.8 L81.4,475.7 L82.4,476.6 L83.5,477.7 L84.8,477.4 L87.0,478.8 L88.9,481.6 L90.8,483.5 L91.3,485.5 L92.0,487.7 L94.3,488.6 L95.2,489.9 L94.3,492.4 L94.7,494.6 L95.4,496.8 L93.7,498.5 L92.4,500.8 L90.3,501.8 L90.3,504.7 L91.3,506.3 M110.1,491.4 L110.6,494.7 L108.2,493.9 L106.6,492.9 L104.2,493.1 L101.4,492.2 L100.7,490.5 L98.6,489.0 L98.8,485.9 L100.6,484.0 L101.6,482.1 L99.8,480.9 L101.3,477.6 L102.7,476.2 L103.6,474.8 L105.0,474.3 L106.1,473.9 L105.4,472.0 L105.0,469.3 L104.4,468.2 L104.1,466.6 L103.7,469.7 L103.6,471.1 L103.9,473.4 L103.5,474.9 L104.8,477.7 L106.2,479.7 L106.4,481.6 L105.4,481.8 L104.3,481.9 L101.9,481.1 L99.5,478.4 L98.8,476.7 L96.3,474.7 L95.6,472.2 L96.8,470.6 L97.9,469.8 L99.6,468.0 L101.8,466.5 L103.4,466.2 L104.2,469.7 L103.4,471.1 L102.4,472.8 L100.2,474.8 L99.4,475.5 L98.2,477.5 L96.8,479.2 L96.6,480.6 L95.7,481.1 L98.4,481.2 L100.0,481.6 L103.3,482.8 L104.4,481.6 L105.7,480.3 L107.7,478.4 L110.2,476.4 L112.4,475.0 L114.6,475.5 L117.4,476.1 L118.5,476.7 L120.8,477.7 L123.5,477.7 L121.4,475.5 L120.3,473.9 L120.9,472.2 L121.6,470.1 L122.6,468.8 L123.5,466.8 L123.3,468.1 L122.4,470.5 L123.7,474.1 L122.1,475.5 L121.9,476.7 L121.2,475.9 L120.5,474.3 L119.3,473.6 L116.7,472.6 L115.0,471.4 L113.2,471.3 L111.0,471.2 L107.8,471.5 L104.8,469.8 L103.3,469.0 L102.4,467.2 L101.3,466.3 L100.8,469.1 L100.0,470.7 L99.5,471.3 L98.3,471.3 L95.6,471.1 L97.0,470.3 L99.8,470.4 L101.0,470.1 L103.6,470.6 L104.1,471.3 L105.6,471.7 L105.9,473.2 L104.9,474.6 L103.0,477.0 L101.9,478.2 L100.0,478.7 L99.2,477.3 L96.8,475.3 L95.7,473.2 L95.1,472.0 L95.2,470.8 L95.9,469.7 L95.9,466.3 L97.6,466.4 L98.3,467.4 L99.4,470.7 L98.6,472.9 L99.4,475.1 L100.1,477.2 L99.9,479.9 L100.1,483.3 L99.2,486.7 L97.6,488.1 L98.1,491.2 L97.6,492.7 L97.0,494.8 L95.3,495.9 L95.4,496.7 L97.8,497.5 L99.2,498.7 L100.2,499.5 L102.7,500.6 L104.1,501.6 L105.2,503.5 L106.6,506.0 L108.9,507.1 L111.1,507.5 L113.2,508.1 L114.7,508.8 L116.9,508.9 L118.2,509.9 L119.8,510.4 L122.9,511.9 L124.4,514.1 L126.4,515.1 L129.0,514.6 L127.3,515.1 L124.9,513.3 L125.0,510.5 L122.7,508.8 L120.9,509.0 L117.7,508.3 L116.2,507.7 L114.4,507.8 L111.9,508.8 L110.4,508.4 L108.4,507.9 L107.3,507.4 L105.1,507.6 L104.2,506.5 L102.8,505.0 L102.1,503.6 L101.3,501.6 L101.6,499.9 L101.2,496.7 L99.1,495.3 L98.2,494.9 L95.9,494.1 L95.2,492.4 L97.2,491.0 L99.2,489.6 L98.6,486.0 L98.5,484.2 L99.6,483.2 L100.5,481.8 L101.5,481.5 L103.2,481.2 L105.7,480.9 L107.0,479.2 L108.6,477.8 L111.3,477.1 L114.3,476.3 L117.3,475.5 L119.3,476.3 L121.6,478.1 L123.8,478.3 L126.1,477.2 L127.4,476.7 L128.9,474.5 L127.1,473.7 L125.9,476.8 L125.6,478.6 L125.3,480.7 L124.6,479.4 L123.5,477.4 L122.8,476.0 L121.0,474.4 L119.0,473.0 L115.9,472.4 L114.7,471.3 L114.0,469.0 L111.3,467.2 L110.2,466.5 L110.4,468.2 L109.4,470.2 L109.9,472.8 L110.6,474.8 L112.2,477.0 L112.7,478.6 L115.7,479.0 L114.5,478.3 L113.1,478.1 L110.1,478.8 L107.0,479.0 L104.9,480.8 L103.4,482.8 L102.6,484.3 L103.2,485.3 L103.4,488.5 L102.0,490.6 L101.2,492.5 L101.1,494.7 L102.4,497.2 L104.5,499.3 L105.1,500.2 L107.3,502.6 L107.8,504.8 L107.8,506.6 L106.1,508.4 L105.3,511.4 L106.1,512.8 L106.8,515.1 L108.1,514.9 L107.5,513.0 L108.2,510.4 L108.1,508.0 L107.1,506.5 L107.7,504.9 L107.9,502.4 L108.7,500.3 L109.5,498.3 L109.7,496.1 L112.4,497.2 L113.9,496.6 L115.4,496.8 L118.2,496.4 L120.3,494.2 L118.4,495.6 L117.9,497.2 L115.8,498.5 L113.9,498.9 L112.0,498.6 L109.0,499.2 L106.9,499.7 L105.6,502.4 L104.4,503.3 L102.3,504.6 L100.2,506.1 L99.2,507.1 L98.2,508.1 L97.2,508.4 L95.2,510.3 L96.9,512.1 L97.6,514.7 L99.0,515.1 L100.8,513.9 L101.5,511.0 L103.3,509.4 L102.7,505.9 L104.7,503.0 L104.3,501.4 L102.8,500.7 L100.2,500.8 L97.6,501.5 L95.5,503.2 L97.0,503.9 L98.4,504.0 L99.2,506.0 L99.4,508.3 L100.1,511.2 L100.2,513.3 L100.5,515.0 L100.6,513.7 L102.1,511.8 L101.4,510.1 L101.7,508.1 L100.3,506.1 L101.6,503.1 L103.2,501.4 L103.9,498.8 L104.9,497.2 L107.5,496.5 L105.6,495.7 L104.1,495.7 L102.2,494.7 L101.7,491.8 L100.7,490.4 L99.6,487.9 L99.0,485.0 L99.2,483.8 L99.9,481.4 L99.5,479.8 L99.2,478.6 L100.1,475.6 L101.2,473.0 L102.4,472.3 L103.6,470.5 L105.1,468.6 L106.2,466.1 L106.7,467.9 L104.6,470.0 L103.8,472.9 L104.3,475.2 L104.3,477.6 L106.4,478.4 L108.1,480.0 L106.4,481.4 L104.0,482.5 L102.7,484.7 L101.8,486.8 L101.1,489.3 L102.0,490.9 L102.2,492.5 L103.5,494.8 L104.5,495.5 L106.0,496.1 L108.5,497.9 L110.3,498.8 L111.4,498.9 L112.4,500.9 L115.8,501.0 L117.1,501.3 L120.0,501.5 L121.1,502.4 L123.1,503.6 L125.8,504.1 L127.8,504.5 L129.3,504.0 L127.5,504.3 L125.5,506.1 L122.9,508.1 L121.9,509.8 L122.5,511.8 L124.5,512.7 L125.4,513.9 L125.2,515.3 L124.5,513.3 L121.4,512.7 L120.0,512.2 L117.7,512.8 L114.9,513.9 L114.4,514.6 L114.9,515.3 L117.4,515.3 L119.2,514.7 L120.5,514.1 L122.5,514.6 L125.6,514.6 L126.3,513.5 L127.4,510.2 L125.3,508.1 L123.5,506.3 L122.5,505.5 L120.8,504.6 L117.6,502.7 L116.8,502.2 L115.1,500.1 L111.8,500.6 L109.8,500.9 L108.8,500.0 L107.5,499.7 L106.5,499.5 L104.6,498.3 L101.8,496.2 L100.3,494.3 L99.5,494.0 L97.8,493.5 L97.1,491.1 L95.6,490.6 L95.1,490.1 L96.2,489.6 L97.5,490.2 L97.4,487.4 L97.5,485.2 L97.3,482.1 L95.9,480.2 L95.5,479.4 L96.9,477.2 L97.4,476.7 L99.1,475.6 L99.9,473.7 L100.7,470.9 L101.6,469.5 L101.8,468.3 L101.2,466.3 L100.1,467.3 L99.7,469.2 L97.0,469.7 L95.8,471.1 L96.0,473.8 L95.1,475.1 L95.9,476.8 L95.1,477.8 L98.4,479.6 L99.4,480.3 L100.7,482.4 L101.9,480.1 L104.7,479.1 L105.5,477.9 L107.5,475.9 L109.5,475.2 L111.3,474.8 L113.4,472.6 L114.2,471.2 L116.1,469.4 L117.7,467.4 L118.9,466.3 L119.8,469.3 L120.6,470.7 L121.8,470.5 L123.7,470.9 L125.2,470.2 L127.9,470.7 L129.0,473.3 L128.1,473.9 L127.0,474.6 L125.1,475.5 L123.1,475.7 L120.8,473.9 L118.8,472.6 L117.7,470.0 L117.3,467.6 L117.7,466.5 L116.6,469.6 L116.1,471.3 L115.7,473.3 L116.4,474.7 L114.0,474.1 L112.4,473.3 L110.5,473.1 L108.9,473.3 L106.3,472.2 L105.2,472.9 L103.2,474.8 L101.4,474.8 L100.0,476.4 L97.3,475.7 L96.0,476.9 L95.5,476.2 L98.4,476.8 L100.5,476.5 L103.1,477.2 L106.3,476.4 L105.5,476.9 L102.9,478.5 L101.8,480.0 L100.2,480.6 L98.1,483.0 L98.5,484.4 L98.9,485.6 L98.4,488.1 L97.6,489.7 L98.3,492.2 L98.4,494.2 L99.3,496.2 L99.8,497.5 L98.8,500.2 L99.2,503.2 L101.4,504.8 L102.2,506.1 L102.5,508.3 L103.9,509.4 L107.1,509.1 L108.5,510.3 L109.5,511.9 L111.9,512.8 M29.8,480.2 L37.0,481.2 L40.3,490.2 L42.7,492.9 L47.3,497.7 L50.8,501.2 L54.2,505.5 L63.7,499.1 L72.1,492.5 L80.8,487.4 L89.0,480.7 L97.2,475.3 L105.4,469.5 M66.4,473.9 L70.4,474.1 L76.3,475.2 L80.0,475.3 L84.8,475.1 L89.7,475.6 L96.0,475.9 L97.6,476.7 L99.9,477.7 L100.8,478.0 L103.5,477.4 L105.0,478.2 L106.8,479.1 M29.5,496.4 L40.7,493.8 L52.0,490.9 L61.5,487.4 L72.6,483.7 L83.8,481.0 L95.4,478.4 L99.5,482.0 L103.6,485.7 L106.2,491.7 L112.0,494.7 L116.5,498.7 L121.4,502.9 M99.7,490.5 L98.6,488.4 L97.9,485.4 L97.0,483.0 L97.6,482.0 L96.5,479.5 L95.1,476.5 L90.4,478.0 L87.2,479.5 L82.8,480.4 L78.4,481.5 L74.3,484.3 L70.0,484.5 M110.8,478.5 L107.8,479.3 L106.3,479.5 L103.1,478.4 L100.5,478.7 L98.7,477.3 L94.9,477.0 L90.4,478.6 L84.4,481.2 L79.6,483.6 L73.5,485.1 L67.5,486.2 L62.8,488.4 M39.0,474.1 L41.3,473.0 L44.3,473.4 L46.5,474.5 L49.7,474.2 L52.0,475.0 L54.4,475.4 L55.4,475.3 L55.5,473.0 L57.3,472.7 L58.2,472.5 L57.8,470.5 L59.7,469.3 M106.2,495.0 L103.8,496.4 L101.9,497.5 L100.1,499.2 L99.2,501.1 L97.9,501.9 L95.6,503.7 L86.7,498.0 L78.3,493.9 L70.1,490.7 L60.6,486.7 L52.8,481.8 L44.0,477.8 M59.9,468.7 L66.0,474.6 L72.7,479.4 L78.2,485.4 L83.3,490.8 L89.3,497.4 L95.8,503.1 L100.5,504.0 L105.5,504.5 L110.3,506.0 L116.3,508.4 L121.0,509.9 L125.7,511.6 M36.5,473.3 L40.6,473.8 L42.6,474.5 L45.5,474.9 L48.4,474.8 L50.9,474.6 L54.9,475.1 L57.1,478.5 L57.9,480.9 L61.0,484.3 L63.0,487.9 L64.2,491.4 L67.0,494.3 M107.2,475.1 L99.2,474.5 L90.5,474.8 L80.9,475.4 L71.9,475.2 L63.2,475.3 L54.2,476.3 L52.9,479.1 L51.9,481.6 L49.8,485.3 L47.5,488.3 L46.5,490.3 L44.2,493.3 M56.4,481.6 L63.4,485.0 L69.7,488.1 L76.1,493.1 L81.9,496.4 L88.8,499.1 L95.4,502.7 L100.2,499.7 L104.5,497.3 L108.5,495.0 L113.8,494.6 L120.4,488.8 L122.3,486.1 M101.2,506.9 L100.2,506.8 L99.3,506.1 L98.3,505.4 L96.6,504.4 L96.7,503.7 L94.6,503.4 L89.9,504.4 L85.2,505.1 L80.2,506.2 L74.5,506.1 L68.7,505.8 L63.3,506.6 M53.4,513.9 L61.0,508.2 L68.0,501.5 L74.3,495.2 L81.9,488.6 L88.7,483.1 L95.5,476.4 L99.5,479.5 L103.4,481.6 L105.3,482.5 L105.2,482.9 L120.6,487.8 L119.7,490.3 M31.7,505.2 L42.2,500.8 L53.5,495.6 L63.3,491.0 L74.7,486.3 L84.0,480.8 L94.8,477.0 L99.8,480.3 L103.8,483.5 L104.5,488.3 L111.4,494.6 L116.9,495.4 L120.2,499.9 M109.0,479.1 L104.7,484.1 L104.5,488.4 L102.7,492.6 L99.2,495.3 L97.7,498.8 L95.6,502.8 L83.3,503.6 L72.0,503.2 L61.3,503.0 L48.5,501.8 L37.7,501.0 L26.5,501.2 M102.0,470.4 L100.0,472.1 L100.2,472.5 L98.6,474.0 L97.7,474.6 L96.1,476.3 L95.9,476.8 L88.5,480.6 L80.4,484.1 L73.7,486.7 L67.1,489.8 L60.1,492.6 L52.8,496.3 M65.9,494.5 L63.4,491.9 L62.4,488.8 L59.3,485.0 L57.5,480.9 L55.8,478.6 L53.9,474.6 L48.4,475.9 L43.9,476.5 L38.1,478.1 L32.5,479.0 L27.1,480.3 L20.6,482.4 M44.5,479.8 L45.5,479.1 L47.3,479.0 L49.6,479.0 L51.8,478.3 L52.3,477.7 L55.2,476.5 L56.8,481.9 L59.2,486.0 L63.2,490.9 L64.6,494.3 L67.2,498.9 L70.4,503.7 M80.4,497.4 L82.8,497.8 L85.6,499.6 L88.5,499.6 L89.6,501.9 L92.6,502.4 L96.1,503.6 L101.6,499.3 L106.0,495.5 L110.4,494.4 L120.6,487.5 L123.2,483.4 L127.3,479.8 M104.1,494.1 L102.9,490.8 L102.1,488.4 L99.5,485.2 L98.6,482.2 L97.0,479.2 L94.8,476.0 L83.3,477.7 L71.1,479.9 L60.2,482.3 L47.8,485.4 L40.5,486.5 L23.7,489.5 M37.1,502.7 L39.6,497.3 L43.2,494.0 L45.4,490.1 L48.6,484.5 L52.1,481.5 L54.6,476.5 L57.0,480.5 L58.4,483.3 L62.0,487.8 L63.9,491.3 L65.5,495.5 L67.3,498.6 M89.0,480.1 L89.3,480.0 L90.4,478.8 L91.9,478.1 L93.6,478.7 L94.9,476.7 L94.7,476.4 L97.6,483.6 L100.8,489.0 L104.3,494.7 L107.0,500.5 L109.4,507.0 L111.5,512.8 M126.1,490.6 L121.1,492.6 L116.5,495.0 L111.5,496.8 L106.1,499.6 L99.9,500.4 L94.8,502.9 L89.1,502.1 L82.5,499.8 L76.6,498.3 L69.7,497.3 L63.0,495.8 L57.1,493.7 M122.2,474.9 L118.3,479.4 L115.7,478.9 L106.1,491.6 L105.0,495.0 L100.2,500.4 L94.8,505.3 L91.7,500.4 L86.5,496.3 L83.0,493.8 L78.4,488.9 L74.5,486.1 L69.4,481.8 M64.5,468.7 L62.3,475.5 L61.3,481.5 L59.0,486.7 L57.5,493.2 L56.7,499.9 L54.1,505.4 L53.4,500.4 L52.0,495.4 L48.9,491.2 L48.8,485.8 L46.3,481.9 L45.6,476.3 M40.8,476.4 L42.0,476.3 L44.7,476.5 L47.8,476.1 L49.1,476.7 L52.1,476.4 L55.1,476.2 L58.1,481.3 L59.8,484.6 L64.0,489.7 L67.2,492.7 L69.2,498.2 L71.7,501.5" fill="none" stroke="#111" stroke-width="0.45" stroke-linejoin="round"/>
<circle cx="32.4" cy="488.0" r="7.3" fill="#fff"/>
<g fill="none" stroke="#111" stroke-width="0.45"><ellipse cx="31.9" cy="488.4" rx="7.7" ry="7.4"/><ellipse cx="32.0" cy="487.8" rx="7.8" ry="7.8"/><ellipse cx="32.4" cy="488.3" rx="8.0" ry="8.0"/><ellipse cx="32.0" cy="488.2" rx="8.3" ry="8.0"/><ellipse cx="32.4" cy="487.8" rx="8.2" ry="7.6"/><ellipse cx="32.8" cy="487.6" rx="7.7" ry="8.0"/></g>
<circle cx="112.5" cy="486.5" r="7.3" fill="#fff"/>
<g fill="none" stroke="#111" stroke-width="0.45"><ellipse cx="112.5" cy="486.3" rx="8.2" ry="8.8"/><ellipse cx="112.5" cy="486.7" rx="7.9" ry="7.5"/><ellipse cx="112.6" cy="486.5" rx="8.1" ry="7.7"/><ellipse cx="112.8" cy="486.8" rx="8.7" ry="9.3"/></g>
<rect x="13.7" y="462.3" width="120.7" height="56.7" fill="none" stroke="#b8265a" stroke-width="1.8"/>
<text x="349.20" y="373.40" font-size="16" font-weight="bold" fill="#1f1b1c">F</text>
<rect x="372.0" y="390.0" width="32.3" height="52.0" fill="none" stroke="#e9f0b0" stroke-width="0.6"/>
<rect x="405.2" y="389.7" width="38.2" height="51.7" fill="none" stroke="#97a3dc" stroke-width="0.6"/>
<rect x="444.3" y="390.0" width="35.1" height="52.0" fill="none" stroke="#b5e0a8" stroke-width="0.6"/>
<path d="M377.3,423.9 L374.9,422.4 L373.8,421.9 L373.1,420.7 L373.8,416.9 L373.6,413.8 L374.7,412.8 L374.1,411.6 L374.1,408.9 L375.7,406.2 L375.5,403.9 L376.5,402.1 L376.4,400.7 L378.3,398.5 L379.6,396.5 L380.9,395.4 L382.3,395.3 L384.4,392.7 L387.1,392.9 L389.8,392.3 L392.8,393.1 L394.4,393.3 L397.7,395.4 L399.7,395.2 L402.7,396.6 L404.1,395.8 L401.1,396.3 L399.3,396.3 L397.4,396.7 L395.8,396.0 L393.1,395.8 L391.7,395.6 L389.5,394.9 L389.2,393.4 L388.1,393.0 L385.9,392.9 L384.4,394.4 L382.1,394.4 L379.5,393.8 L378.4,392.7 L377.2,393.8 L375.7,395.9 L374.2,397.0 L373.5,400.0 L372.4,401.8 L372.2,403.7 L373.9,405.3 L374.5,406.7 L376.8,409.1 L377.0,410.5 L378.9,409.4 L379.7,406.9 L381.3,405.3 L382.3,403.4 L383.3,402.8 L383.7,400.7 L384.9,399.1 L385.4,398.3 L384.8,395.6 L384.5,394.0 L383.3,392.6 L381.4,394.6 L379.7,396.2 L378.0,398.6 L376.4,401.4 L376.7,402.8 L376.8,405.7 L375.4,406.5 L373.7,408.1 L372.2,408.1 L373.4,408.2 L374.6,410.4 L376.1,411.6 L376.4,414.2 L376.4,417.3 L376.2,414.7 L376.5,413.1 L376.9,411.0 L376.4,408.8 L376.9,406.7 L378.4,405.5 L380.8,403.8 L378.8,404.3 L377.2,404.4 L376.2,405.8 L373.5,406.2 L371.9,405.5 L374.8,404.3 L376.8,401.9 L376.9,400.3 L378.9,398.3 L380.2,395.3 L381.5,393.1 L382.8,392.4 L383.7,393.9 L384.9,395.7 L385.1,397.1 L384.3,398.0 L382.3,398.2 L380.6,399.4 L379.1,401.5 L378.0,402.0 L375.6,402.9 L374.5,403.0 L371.8,403.5 L374.5,403.8 L375.8,403.6 L378.9,404.1 L377.1,404.9 L375.6,405.9 L374.2,405.1 L372.1,403.6 L371.9,402.3 L373.9,401.6 L375.1,401.1 L377.9,399.5 L380.0,398.4 L381.4,398.3 L382.8,398.1 L384.7,399.1 L386.7,399.4 L388.6,398.9 L389.6,397.6 L390.0,395.6 L386.7,393.8 L384.4,393.1 L381.6,392.9 L379.9,392.7 L377.4,393.9 L376.7,395.5 L374.5,396.9 L373.4,398.6 L372.2,399.4 L373.5,400.6 L375.1,401.4 L377.2,401.8 L379.0,400.6 L381.6,400.4 L382.7,398.9 L383.9,399.0 L386.6,397.3 L389.3,395.4 L391.8,395.0 L395.3,394.4 L397.4,393.1 L400.3,392.2 L401.3,393.6 L400.9,395.5 L399.7,397.4 L398.3,398.7 L396.7,399.1 L395.0,400.6 L393.7,401.4 L391.2,401.5 L388.8,403.3 L388.4,405.6 L388.8,406.6 L389.1,408.5 L391.0,409.5 L392.9,411.8 L394.6,413.9 L396.5,414.3 L396.7,415.8 L399.0,417.6 L401.0,415.8 L402.3,415.4 L403.3,414.4 L404.5,413.3 L403.5,410.1 L403.5,408.1 L402.4,406.9 L400.3,404.6 L398.2,403.2 L396.1,402.9 L395.1,402.0 L393.4,401.2 L392.4,402.2 L389.8,403.3 L388.7,405.5 L388.5,408.0 L387.7,409.9 L387.5,410.2 L386.6,410.0 L389.1,411.2 L390.6,412.4 L392.9,414.3 L393.2,417.3 L395.4,417.7 L395.9,419.4 L395.9,422.3 L395.5,423.0 L392.4,423.9 L390.7,424.5 L389.9,425.1 L388.1,426.0 L385.1,426.0 L382.6,426.6 L379.9,427.2 L376.6,427.7 L374.9,427.3 L373.1,429.0 L372.1,431.0 L373.2,431.7 L374.2,432.8 L374.9,434.3 L374.3,435.6 L372.4,436.2 L372.3,436.9 L374.2,438.0 L375.5,435.6 L376.0,433.6 L377.2,431.4 L378.8,430.4 L381.9,428.0 L383.8,425.6 L384.8,425.4 L386.5,424.9 L388.8,424.4 L390.0,422.5 L393.0,422.6 L395.0,423.1 L397.1,423.3 L399.6,424.1 L401.0,424.8 L401.7,425.7 L403.7,426.2 L404.6,427.1 L401.6,429.2 L399.6,431.4 L398.9,434.1 L397.4,434.3 L396.7,436.4 L395.6,437.6 L394.1,438.2 L391.4,437.7 L389.1,437.2 L385.6,436.6 L384.2,437.9 L383.2,436.6 L382.1,434.4 L380.3,433.4 L378.7,432.4 L377.7,430.6 L376.0,430.1 L374.9,428.1 L373.1,427.2 L371.8,425.6 L374.2,423.0 L374.6,421.9 L373.2,418.4 L372.9,417.7 L372.8,416.2 L372.1,415.1 L373.0,415.1 L375.5,414.7 L377.4,412.8 L375.9,414.7 L374.0,417.1 L372.8,418.1 L374.0,420.7 L374.8,422.8 L375.1,424.1 L373.7,427.0 L371.8,428.8 L372.2,431.9 L371.7,433.8 L371.8,435.1 L372.2,436.6 L372.4,438.2 L372.3,436.8 L373.5,434.5 L374.4,433.8 L376.3,432.7 L376.8,431.8 L377.6,430.8 L379.4,430.4 L380.7,431.3 L379.3,430.6 L377.3,429.7 L377.2,426.3 L377.2,423.7 M427.7,434.6 L429.2,433.0 L430.4,430.9 L430.4,428.7 L430.7,427.6 L433.3,425.0 L434.7,425.1 L436.3,424.6 L438.9,425.2 L441.7,423.0 L443.5,421.8 L443.7,419.6 L443.1,418.1 L443.4,417.1 L443.1,415.3 L443.2,414.3 L441.9,412.7 L441.8,411.7 L440.3,409.7 L440.6,408.2 L440.0,406.2 L437.7,405.0 L437.0,402.2 L436.0,400.1 L436.1,398.3 L434.9,397.2 L433.6,395.5 L432.5,394.1 L431.7,392.7 L433.7,394.8 L433.6,396.0 L431.9,399.4 L430.5,401.3 L426.7,401.9 L424.5,400.1 L424.1,398.6 L423.9,395.7 L423.2,394.6 L421.2,393.1 L418.4,392.8 L416.6,393.5 L415.0,395.7 L413.1,397.3 L410.3,398.9 L408.5,398.9 L406.9,397.1 L405.5,396.6 L407.2,396.7 L410.1,395.7 L410.7,395.1 L411.4,394.7 L413.6,394.4 L415.8,395.0 L417.7,394.9 L419.4,395.5 L421.7,394.9 L423.4,392.6 L424.6,394.6 L425.1,397.1 L424.7,399.1 L425.2,401.3 L426.7,403.6 L428.3,405.7 L431.3,407.8 L433.8,406.4 L437.2,406.5 L439.7,406.1 L441.3,406.3 L443.1,406.8 L440.5,406.7 L438.3,405.6 L436.5,404.8 L434.3,404.1 L431.9,402.0 L431.3,399.8 L429.5,398.1 L426.5,398.0 L424.5,399.5 L423.7,402.2 L423.4,403.6 L423.6,406.0 L422.5,407.5 L422.1,409.1 L419.9,410.6 L418.5,411.2 L415.7,411.9 L413.9,412.0 L411.9,413.7 L409.2,414.9 L408.4,416.1 L407.4,416.9 L406.1,419.1 L405.0,420.6 L406.3,421.4 L407.9,424.9 L409.3,425.2 L411.3,426.0 L413.7,426.1 L414.9,426.3 L415.7,426.3 L417.3,425.2 L418.9,425.2 L421.1,425.6 L423.0,425.1 L425.1,425.9 L426.7,425.8 L429.2,427.8 L431.5,427.6 L433.4,427.9 L436.2,428.4 L437.1,429.9 L437.0,432.0 L438.8,434.8 L437.9,435.9 L436.1,437.9 L433.2,437.7 L431.8,438.3 L429.9,437.2 L427.7,435.5 L427.3,434.6 L426.9,433.7 L425.8,432.2 L423.9,430.0 L421.7,430.8 L420.2,431.4 L417.6,432.8 L416.4,432.3 L413.3,432.8 L412.0,432.3 L410.3,431.5 L407.6,431.5 L406.5,432.9 L405.2,435.0 L407.1,436.6 L409.7,437.8 L411.0,437.6 L412.1,436.9 L413.6,434.6 L414.9,433.0 L416.1,431.7 L417.4,431.1 L419.8,430.5 L421.0,430.4 L422.8,429.8 L425.0,430.2 L427.7,430.0 L429.2,427.9 L430.3,427.9 L431.8,427.6 L434.4,429.7 L435.5,432.7 L435.7,434.6 L435.3,436.9 L434.9,437.7 L431.6,438.1 L429.3,438.2 L426.6,435.9 L425.9,434.3 L424.6,432.6 L424.1,429.5 L421.5,428.4 L419.6,429.1 L417.2,430.3 L416.2,431.3 L414.6,432.4 L412.5,434.4 L410.7,434.5 L407.9,435.9 L406.3,437.0 L406.6,438.2 L406.3,436.3 L405.8,433.8 L405.4,432.3 L406.9,430.0 L408.7,429.1 L408.6,426.1 L408.6,424.0 L408.7,422.7 L409.2,419.9 L409.9,417.9 L409.5,415.9 L409.7,414.6 L408.1,412.1 L405.9,412.8 L405.1,413.2 L408.2,413.2 L411.1,415.3 L410.3,417.0 L411.9,419.4 L412.7,421.1 L414.2,422.5 L416.9,422.3 L419.8,422.6 L421.8,421.0 L424.5,418.7 L426.0,416.6 L427.9,414.0 L426.9,411.4 L426.3,409.3 L426.8,408.4 L427.0,406.4 M470.2,430.6 L469.0,429.7 L467.6,430.5 L465.3,431.2 L463.4,432.0 L460.7,434.1 L460.8,435.1 L460.5,437.8 L458.7,437.6 L458.1,436.5 L458.4,433.3 L457.0,431.4 L455.3,430.8 L453.5,430.4 L452.3,431.1 L451.1,432.1 L449.6,431.7 L449.5,430.1 L448.7,429.1 L448.9,428.2 L446.9,425.5 L444.3,424.5 L446.9,424.2 L449.1,422.7 L450.3,421.1 L452.0,419.4 L452.2,417.7 L453.1,416.1 L453.2,415.2 L454.5,412.8 L455.1,411.7 L456.6,411.2 L459.6,409.4 L460.8,409.0 L463.1,409.2 L465.6,408.8 L467.4,409.6 L468.9,410.3 L470.0,411.1 L471.2,413.1 L473.6,414.3 L474.2,416.3 L471.7,417.4 L472.2,419.5 L472.5,422.6 L473.3,423.0 L473.2,426.2 L473.8,427.6 L472.3,430.0 L471.6,431.3 L471.3,434.5 L471.1,436.9 L471.0,437.9 L472.3,436.9 L473.5,434.3 L474.3,432.6 L471.0,431.7 L469.8,430.5 L468.0,431.8 L464.7,433.1 L463.6,433.5 L460.6,434.6 L458.7,436.7 L458.0,437.6 L455.8,438.3 L454.1,436.8 L452.6,437.0 L449.7,437.1 L448.3,436.6 L445.9,435.7 L444.1,433.3 L444.8,432.4 L445.9,430.8 L447.8,429.4 L450.0,426.4 L451.0,427.9 L452.2,430.2 L453.8,431.7 L454.6,432.2 L456.3,433.1 L459.1,432.9 L460.4,433.7 L462.1,436.4 L461.7,437.8 L462.3,438.0 L462.3,436.1 L461.8,434.9 L461.2,433.8 L459.9,433.8 L461.5,433.6 L464.0,436.2 L464.3,437.0 L465.9,437.9 L466.6,435.9 L467.5,432.6 L468.7,432.4 L471.4,431.2 L472.5,427.9 L473.8,426.0 L474.3,425.0 L471.7,424.8 L470.1,424.5 L470.6,423.3 L472.0,421.8 L473.5,420.7 L473.6,418.5 L474.1,416.2 L473.3,413.5 L473.1,411.8 L473.0,409.5 L472.1,406.3 L472.5,404.7 L474.0,401.9 L473.1,401.4 L470.1,401.4 L469.8,400.2 L467.1,399.5 L465.9,397.8 L467.0,396.2 L468.1,395.4 L469.3,394.2 L469.5,393.5 L470.3,392.5 L471.6,394.3 L472.4,395.7 L473.7,396.5 L472.7,397.1 L471.3,398.4 L469.4,400.1 L468.9,402.4 L469.5,403.1 L471.6,404.9 L473.4,406.9 L474.2,408.5 L472.7,410.9 L473.4,413.3 L474.3,415.6 L473.1,416.5 L470.5,418.8 L469.5,419.4 L469.6,421.8 L469.3,423.5 L469.0,425.0 L470.1,427.6 L471.2,428.1 L473.4,429.7 L474.0,431.2 L471.3,431.8 L469.6,434.2 L467.4,435.6 L467.3,436.7 L466.0,437.9 L466.6,435.1 L467.5,433.3 L466.8,431.9 L466.4,429.8 L466.4,427.4 L465.4,428.4 L462.8,428.4 L461.4,430.9 L460.9,433.3 L458.0,433.5 L457.3,432.4 L454.9,431.5 L452.0,429.7 L449.1,429.4 L447.0,429.2 L447.3,427.1 L447.4,425.6 L448.7,422.5 L448.0,421.9 L448.6,419.2 L448.0,417.9 L447.8,415.0 L446.5,412.3 L445.6,410.4 L444.5,408.2 L444.5,407.0 L445.6,406.8 L447.4,404.4 L449.3,402.8 L449.4,401.6 L450.7,400.4 L452.7,399.5 L454.9,398.4 L456.5,397.2 L456.8,394.3 L457.2,392.3 L458.1,393.8 L458.2,395.2 L458.7,397.8 L458.8,401.1 L458.7,403.7 L457.1,404.4 L454.5,403.6 L453.2,404.4 L451.8,405.3 L449.9,405.9 L448.2,407.9 L446.2,408.3 L445.0,409.4 L444.7,410.7 L446.6,410.0 L449.9,410.0 L451.5,410.7 L454.2,411.4 L456.4,412.4 L459.6,411.1 L456.6,411.8 L453.7,412.5 L452.3,413.3 L450.6,411.9 L449.3,410.8 L448.7,412.3 L446.8,414.9 L446.8,417.0 L448.3,419.3 L448.8,422.1 L451.6,423.5 L452.4,424.1 L455.0,426.3 L455.6,427.5 L455.3,430.0 L457.7,431.8 L460.3,433.8 L461.2,433.8 L464.2,434.0 L465.1,433.4 L466.5,432.9 L468.8,433.0 L470.4,434.1 L471.7,434.4 L474.3,435.8 L471.2,436.4 L468.8,437.7 L465.9,437.7 L464.1,437.6 L462.6,435.5 L461.8,434.2 L460.2,432.8 L458.9,431.9 L460.8,429.8 L459.8,429.5 L458.5,429.4 L457.5,429.7 L455.9,430.6 L452.8,429.7 L451.5,428.8 L450.0,426.9 L448.3,424.4 L446.9,421.6 L447.0,419.8 L446.3,417.0 L446.9,416.1 L447.5,412.3 L447.4,410.7 L448.4,409.0 L449.3,406.6 L450.9,404.2 L451.6,401.5 L453.3,399.8 L453.8,397.9 L454.8,396.7 L455.6,393.7 L457.6,392.8 L459.2,392.2 L462.2,392.7 L463.9,393.6 L466.3,394.6 L468.4,394.0 L469.5,392.6 L470.9,394.6 L470.7,396.4 L470.9,397.3 L469.8,400.2 L467.8,401.6 L465.4,402.7 L464.3,405.1 L463.0,407.3 L461.1,410.2 L463.0,410.0 L465.6,409.9 L468.2,411.2 L469.6,411.9 L471.4,413.0 L471.8,415.3 L473.1,418.7 L473.3,420.9 L472.0,422.2 L471.0,424.0 L470.4,425.5 L469.0,427.8 L468.3,428.6 L467.4,429.7 L466.3,430.2 L464.4,431.0 L463.5,431.4 L462.3,434.3 L459.8,434.2 L457.4,432.7 L454.3,431.8 L454.2,430.2 L455.1,431.1 L457.5,432.1 L457.5,435.5 L459.1,437.8 L459.5,437.7 L462.0,437.4 L463.7,438.0 L465.3,437.9 L465.8,437.7 L466.6,434.7 L465.9,432.4 L468.4,432.1 L470.5,430.2 L471.9,427.9 L472.7,427.2 L473.8,425.7 L474.1,424.4 L472.6,423.1 L471.6,421.1 L471.9,418.8 L472.6,418.2 L474.1,418.0 L473.5,417.1 L473.0,415.3 L473.5,413.5 L472.4,410.8 L473.5,408.1 L473.9,407.1 L472.0,405.2 M437.3,434.8 L435.6,433.7 L434.2,435.5 L434.2,436.3 L435.4,437.7 L434.7,438.0 L434.4,435.4 L435.5,433.6 L437.6,433.3 L439.1,433.7 L440.5,435.6 L439.4,436.2 L437.1,435.0 L434.4,433.7 L433.3,434.4 L432.7,437.2 L433.2,438.2 L433.4,436.6 L434.8,434.6 L436.7,433.2 L438.1,433.6 L441.2,434.8 L439.4,435.3 L436.2,435.2 L434.5,436.3 L432.7,437.9 L430.0,436.7 L428.0,436.7 L426.4,437.3 L423.9,436.5 L421.4,435.5 L418.8,436.0 L417.9,437.4 L417.7,438.2 L418.5,435.1 L418.3,433.1 L419.0,434.8 L421.5,435.7 L423.7,437.0 L424.5,438.0 L425.7,437.2 L427.2,435.7 L430.0,435.2 L431.2,434.7 L434.4,434.4 L436.4,435.3 L438.2,436.1 L439.3,436.4 L440.3,436.8 L440.8,436.7 L439.4,437.3 L436.3,437.2 L434.6,437.8 L433.5,438.5 L432.0,436.9 L429.5,435.5 L426.9,433.8 L424.8,433.8 L422.4,433.9 L420.1,434.1 L417.9,433.8 L417.2,434.4 L416.9,435.0 L415.9,438.5 L415.3,436.2 L415.5,434.2 L416.8,433.9 L417.9,435.7 L418.0,437.7 L417.4,438.3 L418.3,435.5 L418.8,433.7 L419.4,435.0 L420.3,436.8 L421.5,437.9 L424.6,436.8 L427.3,434.9 L429.7,433.2 L431.4,436.6 L432.3,436.9 L434.4,436.1 L437.1,434.6 L438.0,434.6 L438.9,437.0 L440.5,438.5 L440.5,436.8 L441.3,435.3 L440.4,433.1 L441.0,435.1 L440.3,437.6 L438.7,437.8 L435.7,437.0 L435.4,436.4 L433.8,435.6 L431.2,434.8 L428.5,436.0 L426.4,436.2 L425.2,437.1 L424.3,436.7 L422.0,437.8 L421.1,438.3 L418.2,436.5 L415.8,435.3 L415.0,434.0 L413.5,433.5 L411.8,434.6 L410.3,435.0 L408.9,435.6 L409.9,435.8 L410.6,436.2 L412.1,437.2 L413.6,437.5 L416.5,437.3 L418.5,438.3 L420.5,438.3 L422.7,438.3 L423.9,437.9 L425.2,437.9 L428.0,438.0 L429.4,437.5 L430.0,435.3 M451.4,434.4 L448.7,434.6 L446.3,435.1 L445.0,435.1 L444.8,434.2 L447.0,435.8 L448.5,438.6 L449.9,438.3 L451.8,436.8 L454.0,435.5 L455.1,435.6 L457.4,435.1 L458.6,434.7 L461.6,432.9 L464.3,432.8 L466.5,432.1 L468.4,431.2 L471.8,432.6 L473.0,432.7 L471.2,434.0 L469.5,434.7 L467.2,435.1 L464.6,435.5 L463.5,436.7 L461.2,438.3 L460.8,438.6 L459.9,438.8 L458.3,436.3 L457.4,433.4 L456.6,432.0 L456.7,430.9 L454.5,430.1 L453.4,429.4 L452.3,429.6 L450.5,428.3 L449.9,431.6 L447.5,433.0 L446.3,433.9 L445.5,434.9 L444.9,436.9 L447.5,439.2 L449.2,438.6 L450.3,438.4 L452.0,436.5 L454.2,435.6 L455.6,434.9 L458.8,433.9 L460.4,434.3 L463.7,433.7 L465.1,434.4 L466.2,435.8 L468.8,437.0 L472.1,437.5 L473.1,436.9 L470.5,437.2 L469.5,437.9 L467.3,438.2 L465.2,437.8 L463.0,436.5 L463.1,434.9 L463.0,432.9 L463.4,430.7 L463.4,429.3 L462.4,428.3 L461.3,430.6 L459.7,432.5 L458.8,433.7 L456.3,436.1 L453.9,436.6 L451.1,438.1 L449.1,437.7 L447.6,436.4 L447.2,435.0 L446.1,432.7 L446.2,430.1 L445.7,428.5 L444.4,429.2 L445.7,429.7 L448.6,430.6 L450.6,431.1 L452.0,432.6 L453.0,433.8 L452.8,435.3 L452.0,436.3 L451.6,439.0 L451.9,437.4 L452.0,436.4 L452.7,434.4 L454.1,431.8 L455.6,432.9 L457.2,432.3 L460.3,431.3 L463.0,431.4 L464.4,432.1 L466.9,431.6 L468.6,431.4 L470.9,430.6 L473.1,430.2 L471.4,432.4 L469.7,433.8 L468.4,435.0 L469.1,435.8 L467.8,438.6 L466.8,438.7 L465.3,437.3 L464.1,435.0 L462.8,433.3 L463.8,433.2 L467.2,432.4 L468.9,429.9 L470.4,428.4 L473.3,429.0 L471.2,429.4 L472.5,428.8 L473.1,428.9 L472.3,429.9 L473.2,432.7 L473.1,434.0 L471.1,436.0 L470.4,436.8 L469.8,438.9 L469.2,438.6 L469.4,436.9 L471.5,435.4 L472.2,434.4 L473.4,432.6 L473.1,431.2 L471.6,430.0 L470.3,430.8 L468.5,432.4 L466.2,431.4 L464.3,430.5 L462.1,432.6 L458.8,431.9 L457.4,433.9 L455.9,434.9 L453.6,437.4 L452.0,437.7 L452.0,438.4 L450.6,439.1 L448.5,438.0 L446.2,436.8 L445.0,435.1 L445.9,433.8 L448.8,433.7 L450.7,436.0 L452.0,436.9 L454.7,437.2 L457.7,436.0 L459.3,436.6 L462.3,435.6 M382.8,425.3 L392.2,423.2 L402.7,420.0 L413.8,419.1 L423.1,415.6 L432.8,414.3 L444.4,411.0 L444.5,414.2 L444.9,416.6 L446.5,419.9 L447.1,423.4 L447.1,426.1 L448.5,428.6 M450.5,437.5 L450.0,433.5 L448.3,429.4 L447.5,424.3 L446.1,420.6 L444.7,416.0 L444.3,412.3 L441.1,411.0 L436.2,410.1 L434.2,408.1 L429.8,407.0 L427.0,405.6 L422.7,403.4 M449.1,428.8 L448.5,429.7 L448.2,431.6 L447.3,432.8 L446.2,433.1 L444.5,435.6 L444.2,435.3 L442.5,429.6 L442.0,422.6 L441.7,415.6 L441.3,408.3 L439.9,401.6 L439.2,394.9 M446.7,423.7 L439.6,425.8 L431.9,427.3 L426.0,428.9 L418.5,430.5 L411.0,431.8 L405.0,433.8 L404.6,426.7 L402.9,420.9 L401.8,413.5 L400.5,407.1 L400.9,401.1 L399.9,393.4 M434.5,408.8 L437.1,414.4 L437.6,418.6 L439.7,423.3 L440.8,427.6 L441.7,432.2 L444.2,436.6 L447.6,434.2 L453.3,430.6 L457.6,427.5 L462.0,426.9 L469.7,420.8 L470.2,416.7 M450.8,407.7 L450.0,413.7 L449.2,418.5 L448.0,422.3 L446.9,426.8 L444.9,432.4 L443.9,437.7 L441.9,429.1 L442.0,422.6 L440.3,415.5 L438.3,408.7 L438.1,400.7 L436.4,394.1 M404.8,409.4 L410.9,410.4 L417.7,410.9 L424.6,410.8 L431.4,412.6 L437.2,412.0 L444.5,412.9 L445.4,409.4 L446.9,406.4 L448.1,403.0 L449.1,399.9 L450.2,395.9 L451.5,393.9 M457.5,429.2 L455.5,430.9 L453.3,432.1 L450.8,433.7 L448.5,435.0 L446.0,436.6 L444.5,436.9 L442.4,435.3 L442.1,434.5 L441.1,432.2 L439.1,431.1 L438.1,429.5 L437.6,427.7 M472.6,409.2 L467.2,409.2 L462.4,409.4 L458.1,410.2 L453.3,411.1 L448.4,412.8 L443.8,412.7 L441.2,411.1 L438.7,409.3 L436.0,406.4 L434.0,404.6 L431.5,401.3 L430.3,400.2 M461.8,430.5 L459.4,430.2 L456.7,431.4 L452.6,432.3 L449.3,433.2 L446.9,434.0 L444.2,435.9 L442.6,431.4 L441.8,425.7 L440.8,421.3 L440.7,417.5 L439.8,412.0 L439.6,407.4 M465.0,430.0 L487.4,388.8 L470.0,425.0 M468.0,415.0 L487.4,388.8" fill="none" stroke="#111" stroke-width="0.45" stroke-linejoin="round"/>
<circle cx="384.0" cy="417.3" r="7.2" fill="#fff"/>
<g fill="none" stroke="#111" stroke-width="0.45"></g>
<circle cx="461.8" cy="418.8" r="7.2" fill="#fff"/>
<g fill="none" stroke="#111" stroke-width="0.45"><ellipse cx="462.3" cy="418.5" rx="7.8" ry="7.6"/><ellipse cx="462.3" cy="418.5" rx="7.7" ry="7.2"/><ellipse cx="461.7" cy="418.7" rx="7.6" ry="7.0"/></g>
<rect x="370.1" y="388.7" width="118.7" height="55.2" fill="none" stroke="#4044a8" stroke-width="1.8"/>
<text x="382.60" y="456.20" font-size="10.9" font-weight="bold" fill="#050505">S1</text>
<text x="457.80" y="456.20" font-size="10.9" font-weight="bold" fill="#050505">S2</text>
<rect x="371.0" y="463.3" width="38.6" height="51.6" fill="none" stroke="#e9f0b0" stroke-width="0.6"/>
<rect x="409.6" y="463.3" width="40.8" height="51.6" fill="none" stroke="#97a3dc" stroke-width="0.6"/>
<rect x="450.4" y="463.3" width="36.0" height="51.6" fill="none" stroke="#b5e0a8" stroke-width="0.6"/>
<path d="M408.3,474.7 L409.5,476.0 L406.5,477.2 L403.7,476.9 L402.1,477.1 L400.7,479.7 L400.9,481.0 L400.5,482.7 L401.0,483.1 L401.6,485.8 L402.4,487.0 L404.5,488.3 L406.2,489.1 L406.5,491.4 L408.2,492.7 L409.8,494.3 L406.8,495.1 L404.2,495.0 L402.2,497.4 L400.6,499.8 L400.3,501.0 L400.4,502.5 L400.1,504.5 L400.0,506.4 L399.0,507.9 L395.9,508.8 L394.9,510.4 L393.4,511.8 L392.0,512.6 L389.4,512.6 L387.8,511.9 L386.0,511.2 L384.6,509.2 L384.1,507.7 L382.0,507.4 L379.0,508.2 L377.2,509.6 L378.8,510.4 L380.1,511.7 L381.5,511.9 L383.7,511.3 L387.0,512.5 L388.8,513.4 L390.0,510.9 L390.2,509.8 L390.1,507.6 L390.5,506.1 L390.6,502.3 L391.6,500.5 L391.1,501.5 L388.8,501.7 L385.6,501.2 L384.5,501.1 L383.0,500.0 L380.4,500.0 L378.5,497.7 L377.6,495.4 L377.6,493.6 L378.6,492.5 L379.9,490.2 L380.5,489.9 L379.9,491.0 L379.6,493.8 L380.3,495.4 L381.2,497.2 L381.6,498.6 L382.5,499.3 L384.5,500.1 L385.5,500.7 L387.4,502.7 L389.3,503.2 L390.5,504.5 L392.4,506.4 L392.5,508.1 L390.4,510.4 L390.4,511.9 L391.1,513.0 L391.7,511.7 L392.5,510.1 L392.6,508.3 L394.1,506.0 L395.7,503.4 L395.8,501.9 L397.3,500.7 L397.8,499.1 L399.0,496.9 L399.2,495.6 L399.7,494.1 L399.8,490.9 L400.4,487.7 L401.3,485.9 L403.1,483.6 L403.5,481.6 L404.1,480.3 L406.2,478.6 L408.8,478.1 L409.8,478.2 L408.0,478.0 L406.4,477.3 L404.9,474.8 L403.3,473.1 L403.3,472.5 L401.3,472.5 L398.1,472.6 L397.0,473.7 L396.4,475.6 L396.5,478.8 L396.8,481.1 L398.3,483.6 L400.1,484.5 L402.9,484.0 L404.9,484.3 L405.5,484.6 L406.5,485.7 L408.1,487.7 L409.3,489.9 L410.0,491.6 L408.1,491.6 L407.3,492.7 L405.5,494.4 L403.6,495.2 L401.6,496.4 L400.0,496.1 L399.5,498.3 L399.4,499.6 L400.3,501.7 L399.4,503.1 L400.6,505.0 L400.0,507.1 L400.5,508.3 L401.7,510.3 L403.1,511.1 L405.5,510.0 L407.8,508.2 L409.3,508.4 L407.8,508.4 L405.7,507.2 L403.5,505.2 L402.3,502.3 L401.7,501.5 L400.7,500.1 L399.8,498.0 L397.5,496.5 L396.7,495.0 L396.0,497.0 L395.0,499.2 L394.9,502.0 L396.0,504.3 L398.0,507.1 L397.4,508.7 L396.8,510.2 L395.1,511.4 L393.3,512.6 L392.6,513.2 L391.6,512.2 L389.7,509.6 L387.7,508.7 L387.6,505.2 L385.2,503.7 L382.4,502.4 L380.1,500.8 L377.6,499.2 L377.1,496.6 L376.9,494.4 L377.1,492.2 L378.6,488.8 L379.1,486.9 L380.4,484.9 L381.3,483.2 L384.0,482.2 L385.4,481.2 L388.4,481.4 L390.8,481.4 L391.7,481.0 L393.5,481.8 L395.7,482.7 L398.0,484.2 L399.3,485.6 L400.4,486.8 L401.5,489.3 L401.2,490.9 L398.8,493.1 L396.8,493.9 L396.3,496.2 L397.1,494.1 L398.5,491.2 L398.8,488.3 L399.1,486.7 L397.2,483.9 L397.6,481.6 L396.3,478.6 L395.7,478.3 L393.0,477.1 L391.0,476.0 L390.0,474.9 L388.5,472.8 L385.9,471.1 L385.4,469.1 L382.7,468.1 L381.6,469.6 L380.8,473.0 L380.1,474.6 L380.9,477.4 L379.7,479.1 L378.0,480.9 L378.2,484.1 L377.0,485.6 L377.0,487.1 L378.0,488.7 L378.6,490.5 L378.8,492.5 L377.3,494.8 L377.1,495.9 L378.3,497.9 L379.0,500.4 L380.8,502.2 L381.7,503.3 L383.2,504.6 L384.7,506.5 L386.8,506.7 L387.8,506.8 L389.1,507.3 L392.2,507.9 L395.1,507.4 L398.3,507.3 L399.5,507.4 L400.9,507.2 L401.7,508.6 L403.2,509.1 L404.4,510.1 L405.7,512.7 L407.9,513.3 L409.8,511.1 L408.5,510.5 L406.8,508.8 L405.7,507.2 L405.3,506.6 L404.7,504.2 L406.2,502.8 L407.4,501.2 L408.4,498.2 L409.6,495.7 L407.3,496.1 L404.9,493.5 L402.7,493.2 L399.8,492.4 L398.0,490.3 L396.9,489.0 L396.8,490.1 L397.7,492.3 L397.5,494.5 L398.8,497.4 L397.9,498.6 L396.8,499.5 L396.5,500.9 L394.7,502.4 L392.6,503.1 L390.3,503.1 L388.8,503.7 L387.1,503.6 L386.0,504.4 L385.1,506.8 L383.1,505.9 L380.6,506.0 L377.8,505.8 L377.1,506.2 L379.6,505.1 L381.2,505.2 L378.3,504.1 L377.1,502.9 L377.5,502.2 L379.0,501.0 L377.9,500.0 L377.1,498.8 L378.2,498.3 L381.5,497.5 L381.4,496.7 L381.5,498.2 L382.9,500.9 L381.5,500.1 L378.1,499.1 L377.1,498.2 L377.1,495.9 L376.9,493.1 L377.3,491.0 L377.7,489.4 L381.0,489.4 L381.7,487.3 L382.8,485.2 L382.9,483.2 L382.7,481.9 L381.1,480.6 L382.7,479.8 L384.4,480.0 L388.0,480.6 L390.5,481.9 L392.6,481.9 L393.8,482.2 L396.3,482.6 L397.4,482.9 L400.3,480.8 L400.0,478.5 L400.9,476.5 L399.4,474.3 L396.6,473.1 L396.3,471.7 L395.3,469.0 L394.7,468.6 L394.8,469.9 L395.4,472.1 L393.9,472.5 L392.8,474.5 L392.4,476.2 L390.7,478.6 L390.7,480.4 L387.9,479.7 L386.9,479.5 L384.3,479.4 L382.8,478.2 L382.1,476.8 L381.1,474.9 L381.8,472.1 L381.9,470.9 L383.2,468.3 L383.5,468.5 L383.1,471.5 L382.8,474.6 L381.5,475.9 L380.8,477.6 L380.8,479.5 L378.7,480.4 L376.9,482.9 L377.0,484.7 L378.3,487.7 L377.5,488.6 L377.6,491.3 L378.7,492.0 L380.1,493.9 L380.3,494.8 L379.6,498.4 L381.2,500.0 L381.7,501.1 L384.1,502.8 L387.1,503.9 L388.0,503.2 L389.7,503.6 L392.0,502.3 L394.2,501.9 L394.5,503.0 L396.7,502.0 L399.2,501.1 L401.5,498.7 L402.9,496.6 L402.6,493.3 L403.5,491.9 L403.4,490.5 L403.9,489.0 L403.4,487.5 L404.5,486.4 L405.8,483.4 L406.2,481.4 L404.8,480.2 L403.1,479.0 L400.5,477.2 L398.9,476.3 L398.1,475.9 L396.1,475.7 L393.4,476.1 L391.3,475.9 L389.0,476.5 L388.3,477.1 L386.1,476.7 L387.9,476.4 L388.4,474.7 L391.3,474.3 L392.0,472.5 L392.5,470.2 L391.3,468.0 L391.4,470.1 L392.7,471.4 L393.7,473.3 L394.3,474.6 L394.8,477.3 L396.5,479.6 L396.7,482.0 L396.6,483.2 L396.2,485.3 L397.1,485.9 L398.4,489.1 L399.0,490.4 L401.3,492.0 L403.5,493.8 L405.8,495.3 L406.7,496.4 L409.1,498.5 L409.6,498.6 L407.7,499.3 L405.2,499.6 L404.0,500.1 L401.6,501.4 L399.3,501.6 L397.4,504.3 L394.6,505.3 L393.4,506.5 L391.0,505.1 L388.1,505.1 L386.8,505.2 L385.4,505.6 L383.6,505.4 L381.9,506.4 L380.0,507.1 L379.2,506.6 L378.2,507.2 L377.0,508.4 L379.6,508.2 L381.1,509.0 L384.2,507.6 L387.2,506.3 L389.3,505.4 L387.1,504.9 L385.0,505.6 M431.8,488.4 L432.9,486.7 L433.2,484.8 L431.8,482.6 L430.8,481.0 L431.2,479.4 L431.7,477.4 L431.3,475.5 L431.9,473.1 L434.5,470.8 L434.7,469.6 L435.4,468.5 L437.1,469.2 L438.8,469.6 L441.1,468.7 L444.4,468.6 L446.9,470.4 L448.7,470.1 L450.1,469.4 L449.1,468.5 L447.0,468.1 L444.1,469.7 L442.6,469.7 L439.0,469.5 L437.4,469.4 L434.3,470.2 L432.0,469.9 L430.1,468.0 L429.3,469.6 L429.4,472.5 L427.7,473.4 L425.5,472.7 L423.8,471.4 L423.3,469.8 L420.8,468.2 L420.4,469.5 L418.3,471.5 L418.2,472.8 L416.7,475.1 L415.4,477.0 L414.6,478.2 L414.2,479.2 L415.0,480.7 L414.7,482.4 L413.5,483.8 L414.5,486.6 L416.1,488.3 L417.5,489.3 L418.3,490.5 L421.2,490.4 L422.1,491.2 L423.1,492.2 L424.9,494.7 L426.3,497.7 L428.2,497.9 L429.4,498.0 L431.3,499.0 L432.3,500.9 L433.5,501.8 L435.4,502.7 L437.3,504.3 L438.8,506.4 L439.1,508.8 L437.4,511.4 L434.3,511.9 L433.2,513.4 L430.9,511.0 L430.2,510.3 L429.4,509.7 L426.7,509.0 L424.9,507.0 L422.4,506.7 L419.6,505.4 L416.7,505.5 L414.7,505.4 L412.1,505.9 L409.9,507.7 L409.4,509.4 L412.1,511.5 L412.4,512.6 L413.5,512.8 L415.4,511.5 L414.9,510.2 L416.0,507.6 L416.9,504.5 L416.5,502.2 L416.0,501.1 L413.8,500.5 L412.8,499.1 L409.9,498.4 L409.7,496.7 L411.0,495.2 L412.0,493.6 L410.9,491.6 L411.1,488.7 L413.3,485.8 L415.7,484.8 L418.8,486.0 L421.0,488.2 L421.9,489.3 L421.0,492.7 L420.0,493.5 L418.2,493.8 L417.1,493.5 L416.0,492.9 L413.5,493.0 L411.0,492.5 L409.4,492.4 L411.0,491.9 L412.4,492.2 L413.5,493.0 L416.3,492.1 L417.9,491.1 L420.0,489.5 L422.5,488.5 L424.1,486.9 L424.7,485.3 L425.2,482.6 L425.7,480.9 L425.6,477.7 L426.7,476.1 L428.8,475.0 L430.7,474.7 L432.3,474.6 L433.7,474.6 L436.7,473.2 L436.7,470.9 L439.6,468.7 L441.3,468.6 L443.7,469.7 L445.1,471.5 L446.2,472.7 L447.5,472.6 L450.0,472.9 L450.1,471.0 L447.7,469.1 L446.8,468.9 L446.1,468.7 L445.7,469.5 L444.9,471.0 L442.7,471.1 L441.6,474.4 L439.2,475.4 L436.8,475.5 L434.5,473.3 L434.7,471.7 L434.6,468.9 L434.5,468.6 L433.5,469.9 L433.5,472.6 L434.0,475.4 L434.5,476.3 L433.1,477.2 L430.9,479.1 L428.8,479.0 L426.0,478.8 L424.2,479.8 L421.4,478.7 L420.7,478.8 L418.6,478.3 L416.3,479.3 L413.9,478.2 L412.5,478.2 L410.4,478.8 L409.6,479.1 L410.5,477.6 L411.0,474.9 L412.1,474.0 L413.3,471.1 L414.4,469.1 L414.3,468.3 L415.6,469.8 L416.5,470.9 L417.9,472.4 L418.6,474.1 L418.9,476.4 L418.9,477.7 L419.7,480.8 L420.0,482.0 L421.3,483.7 L423.2,485.1 L424.1,487.6 L426.6,490.2 L427.1,490.5 L430.1,490.6 L432.0,489.9 L433.6,488.8 L434.6,487.9 L437.4,487.3 L439.2,485.4 L441.7,486.1 L443.0,485.5 L445.9,485.4 L449.0,485.0 L450.2,484.5 L448.8,485.8 L447.5,486.9 L444.9,486.8 L441.7,486.2 L440.0,486.7 L438.4,488.3 L437.1,489.1 L436.1,488.9 L434.7,489.6 L431.9,489.9 L429.6,491.1 L428.4,492.0 L427.3,493.4 L426.4,494.3 L424.9,495.0 L423.9,496.5 L423.3,497.7 L421.3,499.4 L419.3,500.1 L416.4,499.6 L415.2,499.6 L412.6,498.4 L409.9,498.9 L411.1,498.1 L413.3,497.7 L416.0,496.3 L416.6,494.4 L419.0,492.2 L420.0,489.6 L420.9,488.2 L422.0,486.2 L422.9,484.9 L423.3,482.7 L422.3,481.7 L421.4,480.2 L420.6,479.7 L420.6,478.0 L418.7,475.8 L418.8,473.2 L421.6,472.2 L423.9,474.1 L426.8,476.2 L428.7,478.4 L430.6,478.6 L432.6,478.3 L435.1,477.0 L436.3,476.6 L436.7,475.1 L436.6,473.6 L436.2,470.5 L434.0,469.3 L431.4,468.7 L428.4,468.7 L427.1,469.5 L424.0,470.5 L422.6,470.2 L419.5,470.2 L417.4,473.0 L415.9,473.6 L414.2,473.8 L411.4,473.9 L409.5,474.2 L412.3,474.5 L414.7,473.4 L417.3,473.6 L420.1,474.2 M461.7,509.7 L459.7,511.5 L458.8,512.7 L457.4,513.1 L455.6,512.6 L453.5,510.1 L451.7,509.2 L450.9,507.3 L450.2,506.5 L451.1,505.9 L453.1,505.6 L455.4,505.6 L456.4,505.4 L458.6,504.2 L456.8,502.4 L453.7,502.1 L451.7,501.2 L450.3,501.1 L451.7,500.6 L454.5,500.5 L456.9,499.6 L456.2,497.9 L455.4,495.8 L454.4,493.7 L453.4,492.0 L453.2,488.4 L453.8,487.3 L453.3,485.1 L453.1,484.0 L452.0,481.7 L452.2,480.8 L451.9,479.1 L451.3,478.2 L452.6,476.5 L454.1,473.9 L453.8,472.1 L454.8,469.0 L456.2,468.4 L458.0,468.3 L458.8,468.6 L461.3,469.8 L463.7,471.5 L466.6,473.3 L468.8,473.9 L469.7,473.4 L472.1,474.6 L475.5,474.7 L476.3,472.9 L477.2,471.7 L476.2,470.2 L474.6,468.2 L475.3,470.7 L473.3,472.9 L470.0,473.8 L468.3,476.1 L467.8,477.1 L465.8,477.2 L462.6,477.7 L460.6,477.4 L458.9,478.6 L457.6,479.8 L455.8,482.0 L455.2,483.7 L453.5,485.4 L451.0,486.6 L450.8,487.1 L451.4,486.9 L452.7,486.7 L455.7,487.9 L458.2,487.9 L460.0,488.0 L462.8,486.2 L460.8,487.4 L459.3,489.5 L458.8,491.3 L459.1,494.4 L458.9,495.9 L459.3,498.2 L459.3,499.3 L459.9,500.8 L459.3,501.8 L458.6,503.6 L459.8,506.9 L460.9,508.0 L462.4,509.5 L462.5,512.4 L464.3,513.2 L464.0,509.9 L464.3,508.9 L465.2,507.7 L468.4,506.5 L469.5,506.7 L471.5,508.3 L472.6,509.7 L474.1,511.9 L474.4,512.6 L475.0,510.9 L473.3,507.8 L471.6,506.3 L468.5,506.1 L466.3,506.4 L463.4,506.0 L461.2,507.6 L459.5,509.8 L458.1,510.5 L456.7,512.4 L453.2,512.7 L451.5,512.7 L451.2,510.3 L452.9,508.5 L453.7,506.8 L454.8,504.5 L455.8,502.6 L454.2,500.6 L453.1,498.6 L451.4,496.4 L450.6,494.8 L452.4,492.7 L453.4,491.7 L454.2,490.8 L456.8,489.5 L456.6,488.3 L457.3,486.2 L458.4,483.2 L460.3,481.3 L463.2,479.7 L464.4,478.4 L464.9,476.5 L463.8,475.0 L464.5,472.1 L464.5,469.8 L464.5,468.2 L463.7,470.7 L463.6,473.7 L462.7,474.8 L462.2,476.9 L460.7,478.9 L457.6,480.6 L457.4,481.2 L455.8,483.9 L453.7,485.4 L452.2,486.5 L450.8,487.3 L450.7,487.5 L450.9,489.1 L450.8,490.8 L450.7,493.7 L450.2,495.2 L450.4,497.1 L450.8,499.9 L451.5,502.1 L451.4,504.3 L451.4,505.9 L451.6,506.7 L450.6,509.6 L450.2,512.0 L451.0,512.9 L452.0,510.1 L452.2,508.1 L451.9,506.2 L452.8,504.5 L453.7,503.0 L453.7,500.6 L452.9,498.9 L451.0,497.4 L450.1,494.9 L451.0,493.9 L452.1,493.2 L452.8,492.1 L453.9,489.5 L454.3,487.0 L453.2,485.2 L450.9,483.8 L450.4,482.2 L450.1,479.9 L451.8,476.9 L452.9,475.9 L455.1,474.0 L456.8,475.3 L457.3,477.3 L459.8,479.3 L461.9,481.0 L459.4,482.3 L459.5,483.1 L460.2,484.1 L459.2,485.1 L458.9,486.0 L455.5,486.7 L453.3,488.7 L453.4,490.5 L452.5,491.6 L452.3,493.7 L453.1,494.6 L452.7,496.4 L452.2,498.2 L450.6,499.8 L451.7,501.6 L452.6,504.6 L453.4,506.5 L455.4,507.3 L456.5,508.4 L458.4,511.8 L459.1,513.1 L460.3,513.3 L462.6,511.9 L464.8,510.9 L467.5,510.1 L469.9,510.2 L472.4,509.5 L475.4,509.0 L476.4,509.5 L478.9,510.3 L480.1,511.3 L481.8,512.7 L482.9,513.0 L485.7,511.0 L484.5,510.0 L482.6,509.1 L481.5,508.8 L479.2,507.2 L478.1,504.7 L479.9,502.9 L481.4,500.7 L482.7,498.3 L485.4,495.8 L485.8,494.3 L483.2,493.5 L483.2,490.5 L481.7,489.6 L481.2,486.6 L481.1,484.3 L480.6,481.1 L481.2,478.4 L479.8,475.3 L479.5,474.3 L477.3,471.7 L476.6,470.2 L475.9,468.5 L474.1,468.7 L471.8,469.3 L470.0,470.5 L467.5,471.6 L465.3,471.1 L463.5,469.2 L460.1,468.8 L459.2,468.2 L458.3,469.0 L455.9,468.1 L455.0,471.2 L454.3,473.3 L453.0,473.6 L451.3,473.9 L450.0,474.8 L452.0,474.7 L454.3,473.8 L455.7,474.0 L458.1,474.4 L459.6,476.0 L460.7,477.7 L462.3,478.9 L464.3,477.3 L467.3,476.6 L470.1,475.6 L472.8,474.7 L474.9,475.2 L477.2,475.3 L480.4,476.1 L483.1,478.1 L485.4,479.0 L482.0,479.9 L481.6,480.0 L478.7,482.0 L476.3,483.3 L475.7,484.7 L474.2,486.3 L474.1,487.0 L476.4,488.1 L477.6,491.3 L478.3,493.1 L478.0,494.5 L477.6,498.1 L476.6,499.1 L477.0,501.4 L475.4,502.6 L472.7,503.9 L471.8,504.3 L468.8,504.8 L466.9,505.4 L465.5,504.7 L463.6,505.9 L460.4,505.4 L458.7,504.7 L456.5,504.0 L455.6,504.0 L453.5,502.6 L451.2,503.0 L450.2,504.3 L450.5,505.2 L452.1,508.2 L453.2,509.2 L453.6,511.0 L452.9,511.9 L454.0,512.9 L454.6,510.4 L453.4,509.4 L452.0,508.5 L450.2,507.3 L450.4,506.1 L450.9,503.2 L451.4,500.6 L451.7,497.7 L451.5,496.8 L452.1,495.0 L452.9,492.4 L453.0,490.8 L456.1,489.4 L458.5,488.1 L457.7,490.2 L457.0,490.9 L458.2,492.4 L460.1,494.8 L460.5,496.3 L460.6,499.1 L461.2,501.0 L462.0,502.7 L463.1,504.1 L465.1,506.3 L465.6,507.4 L465.9,508.9 L467.9,511.6 L467.3,513.0 L468.8,512.0 L470.2,511.6 L473.3,510.9 L474.9,510.8 L477.3,509.4 L480.1,508.7 L483.4,508.9 L484.4,508.4 L484.8,507.2 L484.8,505.0 L485.6,502.0 L485.2,500.6 L484.9,498.8 L484.3,497.8 L483.0,497.4 L483.3,494.7 L482.9,492.6 L484.1,491.1 L485.8,490.1 L482.5,489.7 L482.2,487.2 L481.1,485.1 L480.4,483.7 L478.4,483.4 L477.1,482.1 L476.7,481.2 L474.2,479.7 L472.2,479.1 L470.9,478.5 L467.9,477.9 L467.0,474.7 L465.7,473.0 L465.9,469.8 L465.8,468.6 L464.4,470.6 L464.6,472.8 L465.5,475.7 L466.7,477.7 L468.0,479.1 L469.0,480.5 L470.9,482.6 L472.5,484.0 L473.7,483.9 L476.7,484.3 L478.8,483.3 L481.8,484.3 L483.2,484.7 L485.0,487.3 L485.1,489.2 L484.2,490.3 L484.0,491.9 L484.2,493.9 L483.3,494.8 L484.8,496.1 L485.6,497.8 L483.8,499.6 L482.6,501.9 L482.4,502.3 L480.5,503.6 L478.5,502.9 L477.2,501.7 L474.6,500.9 L472.4,500.3 L474.1,501.3 L477.4,503.0 L479.6,504.0 L481.2,506.6 L483.0,507.7 L485.1,507.9 L485.4,509.0 M395.0,484.4 L398.2,488.4 L399.6,490.5 L401.8,494.5 L404.8,498.0 L407.3,501.1 L410.1,504.4 L411.6,503.4 L414.5,503.0 L415.8,502.5 L417.7,503.4 L420.3,502.0 L422.8,501.7 M416.8,495.4 L415.1,491.8 L414.4,489.5 L414.0,485.6 L411.4,483.7 L410.1,479.2 L409.3,476.0 L406.0,480.0 L401.4,483.3 L396.0,486.5 L396.7,489.0 L385.6,500.2 L383.5,499.0 M409.7,504.1 L416.6,499.6 L424.0,494.5 L429.8,490.1 L436.1,485.6 L443.8,481.5 L450.2,477.0 L451.9,475.4 L453.7,473.8 L455.9,473.2 L456.6,472.0 L457.9,470.5 L459.8,469.5 M472.6,507.1 L469.3,502.2 L464.4,500.7 L459.9,491.6 L458.5,487.0 L453.3,482.5 L449.9,478.1 L447.1,482.3 L443.8,487.9 L441.3,492.8 L438.4,498.7 L435.2,503.3 L432.7,509.8 M392.6,480.3 L395.8,480.3 L398.3,479.6 L401.9,478.2 L403.7,478.0 L406.9,476.4 L409.9,476.1 L410.7,480.3 L413.1,485.8 L414.4,490.7 L416.6,495.0 L417.2,500.1 L420.0,505.8 M400.7,497.4 L402.0,493.6 L402.8,490.2 L405.8,486.8 L406.2,483.9 L407.9,479.0 L408.8,475.6 L418.8,474.8 L427.0,475.0 L436.4,472.8 L444.8,471.8 L452.9,471.0 L460.9,470.2 M397.1,483.3 L400.5,481.7 L401.5,480.9 L403.9,479.2 L405.2,477.7 L407.5,476.2 L409.1,474.5 L415.7,475.7 L420.2,476.2 L426.0,476.1 L431.6,476.9 L437.9,478.3 L443.4,478.5 M440.0,487.0 L442.0,490.2 L443.8,492.6 L445.8,494.9 L447.4,498.1 L448.6,500.8 L450.0,502.9 L454.3,503.9 L458.9,505.3 L462.4,506.4 L466.4,508.0 L470.8,508.7 L474.0,511.5 M462.9,511.1 L459.8,508.7 L458.9,508.5 L455.8,506.8 L455.1,506.2 L451.9,503.8 L450.8,503.3 L447.7,501.3 L445.1,500.4 L441.5,498.5 L439.2,497.7 L437.0,495.5 L433.4,493.4 M415.4,469.5 L415.0,475.8 L414.1,481.5 L412.9,486.7 L412.5,491.9 L411.0,499.0 L410.0,504.3 L407.7,502.0 L405.3,498.9 L402.2,497.0 L399.9,493.8 L397.3,491.5 L396.0,487.7 M454.3,489.7 L447.1,486.6 L439.3,485.1 L432.4,483.2 L425.1,481.8 L417.7,479.5 L410.0,477.3 L407.4,476.7 L406.6,475.7 L405.4,474.3 L402.9,473.5 L400.7,472.1 L399.0,470.2 M405.0,469.4 L405.3,470.2 L407.3,472.7 L407.2,473.5 L408.2,474.1 L408.3,475.0 L409.6,475.7 L411.4,475.3 L414.2,474.9 L416.6,475.5 L418.9,474.9 L419.5,475.3 L422.1,475.0 M396.0,468.6 L404.7,470.9 L413.5,471.6 L423.6,473.7 L432.0,474.9 L441.7,477.3 L450.3,479.1 L451.8,477.3 L453.3,475.6 L453.6,475.4 L456.1,474.0 L457.0,472.4 L457.6,471.1 M461.1,503.6 L458.8,500.2 L456.7,496.4 L455.1,490.8 L454.1,487.8 L451.4,483.9 L450.4,478.6 L443.0,482.1 L434.4,484.4 L427.8,488.0 L420.8,489.9 L413.0,493.3 L404.8,495.7 M454.9,483.2 L454.5,482.8 L453.5,481.4 L453.2,480.7 L452.0,479.8 L450.6,478.6 L449.7,476.7 L447.2,477.0 L446.0,475.4 L442.6,475.9 L441.2,474.4 L437.7,473.1 L436.2,473.6 M435.3,474.5 L429.7,473.3 L426.5,474.4 L421.7,474.1 L417.3,475.2 L414.5,474.9 L409.6,476.0 L405.1,476.9 L400.7,476.9 L395.4,477.3 L391.9,478.1 L387.5,478.1 L382.6,479.2 M418.6,488.0 L423.9,486.1 L429.4,485.0 L434.2,481.7 L439.1,481.0 L444.9,478.7 L450.6,477.4 L451.3,477.4 L453.6,478.2 L455.8,479.1 L457.0,480.3 L457.5,481.9 L460.1,482.4 M435.9,489.5 L432.4,492.8 L426.5,495.5 L422.9,497.1 L418.6,500.0 L413.2,501.5 L410.3,504.5 L406.4,501.5 L404.5,499.6 L402.3,497.4 L398.9,495.5 L397.3,492.9 L396.7,489.1 M400.0,495.6 L408.3,497.2 L417.2,498.0 L425.1,500.5 L434.3,501.8 L442.7,502.3 L450.4,503.7 L453.5,503.9 L457.5,502.9 L460.7,502.8 L464.2,503.1 L467.6,502.4 L470.5,501.6 M463.3,474.1 L461.3,479.5 L458.3,484.5 L456.3,489.0 L455.0,493.6 L452.5,499.3 L450.9,504.1 L439.3,499.4 L427.0,493.8 L414.4,488.4 L404.3,483.9 L391.5,479.3 L380.3,473.8 M420.3,505.4 L417.7,506.2 L416.8,506.1 L415.6,505.7 L413.8,505.1 L412.1,506.0 L409.1,506.5 L406.8,503.0 L403.8,501.8 L399.8,498.9 L397.9,496.8 L396.6,495.5 L397.3,492.8 M465.6,501.2 L463.4,502.2 L461.3,501.9 L457.3,502.7 L455.2,503.3 L453.1,503.2 L450.3,503.9 L441.2,501.0 L433.6,498.2 L426.1,494.8 L416.4,492.2 L408.3,490.2 L400.7,486.2 M417.1,476.0 L423.1,476.0 L428.2,476.0 L433.0,477.0 L439.7,476.8 L444.4,477.2 L450.3,476.9 L452.3,476.8 L454.1,475.6 L456.2,474.0 L457.8,473.5 L460.1,472.0 L462.1,470.8 M419.7,478.2 L424.3,481.8 L429.7,486.1 L435.3,491.2 L439.7,496.2 L444.7,499.3 L450.7,504.9 L455.4,501.5 L459.5,499.0 L462.2,499.0 L474.8,498.8 L477.0,492.7 L479.2,491.3 M418.9,499.8 L424.3,496.1 L430.5,493.5 L434.3,488.7 L440.4,485.7 L444.9,482.6 L451.0,477.8 L454.2,480.2 L459.7,482.3 L464.1,482.9 L467.1,484.6 L472.9,485.8 L476.0,489.0 M389.2,482.8 L393.1,481.3 L396.8,480.1 L400.3,478.2 L402.8,478.6 L406.2,476.1 L410.2,475.3 L420.1,478.1 L430.5,479.5 L440.3,481.2 L449.7,483.9 L460.8,484.9 L471.3,485.0" fill="none" stroke="#111" stroke-width="0.45" stroke-linejoin="round"/>
<circle cx="388.7" cy="492.2" r="7.7" fill="#fff"/>
<g fill="none" stroke="#111" stroke-width="0.45"><ellipse cx="388.2" cy="492.7" rx="9.0" ry="8.7"/><ellipse cx="388.3" cy="491.9" rx="8.5" ry="9.2"/><ellipse cx="388.8" cy="491.9" rx="7.9" ry="7.5"/></g>
<circle cx="468.4" cy="493.1" r="7.7" fill="#fff"/>
<g fill="none" stroke="#111" stroke-width="0.45"><ellipse cx="468.8" cy="492.9" rx="8.3" ry="8.6"/><ellipse cx="468.7" cy="493.0" rx="9.0" ry="8.4"/><ellipse cx="468.4" cy="493.0" rx="8.1" ry="8.7"/></g>
<rect x="369.3" y="462.1" width="119.7" height="56.9" fill="none" stroke="#b8265a" stroke-width="1.8"/>
<text x="150.00" y="373.20" font-size="16" font-weight="bold" fill="#1f1b1c">D</text>
<line x1="232.90" y1="391.50" x2="232.90" y2="503.00" stroke="#050505" stroke-width="1.2"/>
<line x1="232.30" y1="502.40" x2="331.20" y2="502.40" stroke="#050505" stroke-width="1.2"/>
<line x1="228.90" y1="391.35" x2="232.90" y2="391.35" stroke="#050505" stroke-width="1.2"/>
<text x="227.30" y="394.08" font-size="7.8" font-weight="bold" text-anchor="end" fill="#050505">150</text>
<line x1="228.90" y1="413.60" x2="232.90" y2="413.60" stroke="#050505" stroke-width="1.2"/>
<text x="227.30" y="416.33" font-size="7.8" font-weight="bold" text-anchor="end" fill="#050505">100</text>
<line x1="228.90" y1="435.85" x2="232.90" y2="435.85" stroke="#050505" stroke-width="1.2"/>
<text x="227.30" y="438.58" font-size="7.8" font-weight="bold" text-anchor="end" fill="#050505">50</text>
<line x1="228.90" y1="458.10" x2="232.90" y2="458.10" stroke="#050505" stroke-width="1.2"/>
<text x="227.30" y="460.83" font-size="7.8" font-weight="bold" text-anchor="end" fill="#050505">0</text>
<line x1="228.90" y1="480.35" x2="232.90" y2="480.35" stroke="#050505" stroke-width="1.2"/>
<text x="227.30" y="483.08" font-size="7.8" font-weight="bold" text-anchor="end" fill="#050505">-50</text>
<line x1="228.90" y1="502.60" x2="232.90" y2="502.60" stroke="#050505" stroke-width="1.2"/>
<text x="227.30" y="505.33" font-size="7.8" font-weight="bold" text-anchor="end" fill="#050505">-100</text>
<line x1="261.60" y1="502.40" x2="261.60" y2="506.40" stroke="#050505" stroke-width="1.2"/>
<line x1="304.00" y1="502.40" x2="304.00" y2="506.40" stroke="#050505" stroke-width="1.2"/>
<line x1="232.9" y1="458.1" x2="332" y2="458.1" stroke="#050505" stroke-width="0.9" stroke-dasharray="1,1.2"/>
<text transform="translate(176.70,445.50) rotate(-90)" font-size="12.4" font-weight="bold" text-anchor="middle" fill="#050505">Preference index</text>
<text transform="translate(191.20,446.00) rotate(-90)" font-size="12.4" font-weight="bold" text-anchor="middle" fill="#050505">based on time spent</text>
<text transform="translate(204.60,447.30) rotate(-90)" font-size="12.4" font-weight="bold" text-anchor="middle" fill="#050505">(S1-Object)</text>
<line x1="261.60" y1="421.10" x2="261.60" y2="455.10" stroke="#5a5ab8" stroke-width="0.9"/>
<line x1="254.50" y1="421.10" x2="268.60" y2="421.10" stroke="#5a5ab8" stroke-width="0.9"/>
<line x1="254.50" y1="455.10" x2="268.60" y2="455.10" stroke="#5a5ab8" stroke-width="0.9"/>
<circle cx="261.60" cy="408.80" r="2.1" fill="#4444aa"/>
<circle cx="252.70" cy="431.00" r="2.1" fill="#4444aa"/>
<circle cx="261.60" cy="429.00" r="2.1" fill="#4444aa"/>
<circle cx="270.60" cy="424.90" r="2.1" fill="#4444aa"/>
<circle cx="270.60" cy="432.10" r="2.1" fill="#4444aa"/>
<circle cx="252.70" cy="439.80" r="2.1" fill="#4444aa"/>
<circle cx="261.60" cy="444.80" r="2.1" fill="#4444aa"/>
<circle cx="270.60" cy="442.50" r="2.1" fill="#4444aa"/>
<circle cx="261.60" cy="462.00" r="2.1" fill="#4444aa"/>
<circle cx="261.60" cy="466.30" r="2.1" fill="#4444aa"/>
<line x1="247.60" y1="437.90" x2="275.70" y2="437.90" stroke="#3a3a3a" stroke-width="1.7"/>
<line x1="304.00" y1="445.10" x2="304.00" y2="470.90" stroke="#c84a74" stroke-width="0.9"/>
<line x1="297.00" y1="445.10" x2="310.80" y2="445.10" stroke="#c84a74" stroke-width="0.9"/>
<line x1="297.00" y1="470.90" x2="310.80" y2="470.90" stroke="#c84a74" stroke-width="0.9"/>
<circle cx="304.00" cy="439.00" r="2.1" fill="#bb2a5a"/>
<circle cx="304.00" cy="444.10" r="2.1" fill="#bb2a5a"/>
<circle cx="295.00" cy="449.30" r="2.1" fill="#bb2a5a"/>
<circle cx="312.80" cy="452.30" r="2.1" fill="#bb2a5a"/>
<circle cx="295.00" cy="456.20" r="2.1" fill="#bb2a5a"/>
<circle cx="312.80" cy="457.40" r="2.1" fill="#bb2a5a"/>
<circle cx="304.00" cy="460.50" r="2.1" fill="#bb2a5a"/>
<circle cx="312.80" cy="467.10" r="2.1" fill="#bb2a5a"/>
<circle cx="304.00" cy="471.50" r="2.1" fill="#bb2a5a"/>
<circle cx="304.00" cy="482.00" r="2.1" fill="#bb2a5a"/>
<line x1="289.80" y1="457.90" x2="318.10" y2="457.90" stroke="#3a3a3a" stroke-width="1.7"/>
<polyline points="261.60,402.20 261.60,395.30 304.00,395.30 304.00,432.10" fill="none" stroke="#444" stroke-width="0.8"/>
<path d="M280.65,386.20 L280.65,391.20 M278.48,387.45 L282.82,389.95 M282.82,387.45 L278.48,389.95 " stroke="#050505" stroke-width="1.3" fill="none"/>
<path d="M285.55,386.20 L285.55,391.20 M283.38,387.45 L287.72,389.95 M287.72,387.45 L283.38,389.95 " stroke="#050505" stroke-width="1.3" fill="none"/>
<text x="261.60" y="517.20" font-size="8.4" font-weight="bold" text-anchor="middle" fill="#050505">Control</text>
<text x="304.00" y="517.20" font-size="8.4" font-weight="bold" text-anchor="middle" fill="#050505">sh-DDX3X</text>
<text x="508.30" y="373.30" font-size="16" font-weight="bold" fill="#1f1b1c">G</text>
<line x1="585.40" y1="391.30" x2="585.40" y2="502.90" stroke="#050505" stroke-width="1.2"/>
<line x1="584.80" y1="502.30" x2="684.00" y2="502.30" stroke="#050505" stroke-width="1.2"/>
<line x1="581.40" y1="391.30" x2="585.40" y2="391.30" stroke="#050505" stroke-width="1.2"/>
<text x="579.80" y="394.03" font-size="7.8" font-weight="bold" text-anchor="end" fill="#050505">100</text>
<line x1="581.40" y1="428.30" x2="585.40" y2="428.30" stroke="#050505" stroke-width="1.2"/>
<text x="579.80" y="431.03" font-size="7.8" font-weight="bold" text-anchor="end" fill="#050505">50</text>
<line x1="581.40" y1="465.30" x2="585.40" y2="465.30" stroke="#050505" stroke-width="1.2"/>
<text x="579.80" y="468.03" font-size="7.8" font-weight="bold" text-anchor="end" fill="#050505">0</text>
<line x1="581.40" y1="502.30" x2="585.40" y2="502.30" stroke="#050505" stroke-width="1.2"/>
<text x="579.80" y="505.03" font-size="7.8" font-weight="bold" text-anchor="end" fill="#050505">-50</text>
<line x1="613.30" y1="502.30" x2="613.30" y2="506.30" stroke="#050505" stroke-width="1.2"/>
<line x1="655.10" y1="502.30" x2="655.10" y2="506.30" stroke="#050505" stroke-width="1.2"/>
<line x1="585.4" y1="465.3" x2="684" y2="465.3" stroke="#050505" stroke-width="0.9" stroke-dasharray="1,1.2"/>
<text transform="translate(533.30,449.00) rotate(-90)" font-size="12.4" font-weight="bold" text-anchor="middle" fill="#050505">Preference index</text>
<text transform="translate(546.00,446.80) rotate(-90)" font-size="12.4" font-weight="bold" text-anchor="middle" fill="#050505">based on time spent</text>
<text transform="translate(559.00,447.20) rotate(-90)" font-size="12.4" font-weight="bold" text-anchor="middle" fill="#050505">(S2-S1)</text>
<line x1="613.30" y1="414.60" x2="613.30" y2="453.00" stroke="#5a5ab8" stroke-width="0.9"/>
<line x1="606.10" y1="414.60" x2="620.40" y2="414.60" stroke="#5a5ab8" stroke-width="0.9"/>
<line x1="606.10" y1="453.00" x2="620.40" y2="453.00" stroke="#5a5ab8" stroke-width="0.9"/>
<circle cx="613.50" cy="400.30" r="2.1" fill="#4444aa"/>
<circle cx="607.60" cy="409.30" r="2.1" fill="#4444aa"/>
<circle cx="613.50" cy="412.30" r="2.1" fill="#4444aa"/>
<circle cx="613.50" cy="433.00" r="2.1" fill="#4444aa"/>
<circle cx="601.80" cy="442.30" r="2.1" fill="#4444aa"/>
<circle cx="625.40" cy="442.30" r="2.1" fill="#4444aa"/>
<circle cx="607.60" cy="446.20" r="2.1" fill="#4444aa"/>
<circle cx="613.50" cy="446.80" r="2.1" fill="#4444aa"/>
<circle cx="619.50" cy="446.20" r="2.1" fill="#4444aa"/>
<circle cx="613.50" cy="458.70" r="2.1" fill="#4444aa"/>
<line x1="599.60" y1="434.00" x2="627.50" y2="434.00" stroke="#3a3a3a" stroke-width="1.7"/>
<line x1="655.70" y1="438.80" x2="655.70" y2="471.50" stroke="#c84a74" stroke-width="0.9"/>
<line x1="648.80" y1="438.80" x2="662.60" y2="438.80" stroke="#c84a74" stroke-width="0.9"/>
<line x1="648.80" y1="471.50" x2="662.60" y2="471.50" stroke="#c84a74" stroke-width="0.9"/>
<circle cx="655.70" cy="436.00" r="2.1" fill="#bb2a5a"/>
<circle cx="655.70" cy="441.20" r="2.1" fill="#bb2a5a"/>
<circle cx="651.60" cy="446.20" r="2.1" fill="#bb2a5a"/>
<circle cx="643.90" cy="449.10" r="2.1" fill="#bb2a5a"/>
<circle cx="659.90" cy="449.10" r="2.1" fill="#bb2a5a"/>
<circle cx="667.70" cy="449.10" r="2.1" fill="#bb2a5a"/>
<circle cx="651.60" cy="452.20" r="2.1" fill="#bb2a5a"/>
<circle cx="655.70" cy="462.50" r="2.1" fill="#bb2a5a"/>
<circle cx="655.70" cy="469.70" r="2.1" fill="#bb2a5a"/>
<circle cx="655.70" cy="492.80" r="2.1" fill="#bb2a5a"/>
<line x1="642.30" y1="454.80" x2="669.90" y2="454.80" stroke="#3a3a3a" stroke-width="1.7"/>
<polyline points="613.50,392.70 613.50,386.40 655.70,386.40 655.70,427.40" fill="none" stroke="#444" stroke-width="0.8"/>
<path d="M634.60,377.20 L634.60,382.60 M632.26,378.55 L636.94,381.25 M636.94,378.55 L632.26,381.25 " stroke="#050505" stroke-width="1.4" fill="none"/>
<text x="613.60" y="516.50" font-size="8.4" font-weight="bold" text-anchor="middle" fill="#050505">Control</text>
<text x="656.00" y="516.50" font-size="8.4" font-weight="bold" text-anchor="middle" fill="#050505">sh-DDX3X</text>
<text x="1.60" y="560.80" font-size="16" font-weight="bold" fill="#1f1b1c">H</text>
<text x="53.70" y="576.30" font-size="12.4" font-weight="bold" fill="#050505">Train</text>
<polygon points="24.00,580.30 17.00,592.50 62.00,618.80 68.70,605.70" fill="#d4e2f3"/>
<polygon points="113.40,580.30 120.70,592.50 76.60,618.80 68.70,605.70" fill="#d4e2f3"/>
<rect x="61.20" y="618.80" width="15.70" height="51.20" fill="#a2dcc4"/>
<polygon points="68.70,605.70 61.20,618.80 76.90,618.80" fill="#b5bde8"/>
<circle cx="26.10" cy="591.60" r="2.0" fill="#f2b22e" stroke="#c88a10" stroke-width="0.4"/>
<circle cx="112.10" cy="591.60" r="2.0" fill="#f2b22e" stroke="#c88a10" stroke-width="0.4"/>
<polyline points="68.7,643.7 68.7,615.6 36.0,596.8" fill="none" stroke="#050505" stroke-width="1.25"/>
<polygon points="34.30,595.80 38.76,596.07 36.76,599.53" fill="#050505"/>
<line x1="68.70" y1="615.60" x2="100.50" y2="596.80" stroke="#050505" stroke-width="1.25"/>
<polygon points="102.30,595.80 99.84,599.53 97.84,596.07" fill="#050505"/>
<g transform="translate(69.10,660.40) rotate(180) scale(0.6)">
<path d="M-0.5,-10.6 C1,-14 5,-15.5 8,-14.2 C9.7,-13.4 10.6,-12 10.6,-10.8" fill="none" stroke="#1a1a1a" stroke-width="0.95"/>
<path d="M0,-11 C5.5,-11 8.6,-7 8.6,-2 C8.6,0.5 8.2,2 7.6,3 C8.6,4.5 7.5,6.5 5.5,7.2 C4.5,9 2.3,11 0,11.2 C-2.3,11 -4.5,9 -5.5,7.2 C-7.5,6.5 -8.6,4.5 -7.6,3 C-8.2,2 -8.6,0.5 -8.6,-2 C-8.6,-7 -5.5,-11 0,-11 Z" fill="#7a7a7a" stroke="#111" stroke-width="1.0"/>
<path d="M-7.4,3.2 C-6,1.6 -3.2,1.8 -2.8,3.6 C-3.2,5.2 -5,6.6 -6.4,6.4 C-7.6,5.8 -8,4.4 -7.4,3.2 Z" fill="#a8a8a8"/>
<path d="M7.4,3.2 C6,1.6 3.2,1.8 2.8,3.6 C3.2,5.2 5,6.6 6.4,6.4 C7.6,5.8 8,4.4 7.4,3.2 Z" fill="#a8a8a8"/>
<path d="M-7.6,3 C-6.5,1.2 -3.5,1.2 -2.6,3.2 M7.6,3 C6.5,1.2 3.5,1.2 2.6,3.2" fill="none" stroke="#111" stroke-width="0.8"/>
<circle cx="-2.3" cy="4.6" r="1.05" fill="#111"/><circle cx="2.3" cy="4.6" r="1.05" fill="#111"/><circle cx="0" cy="10.4" r="0.9" fill="#111"/>
<path d="M-3,8.3 L-10,7.3 M-3,8.8 L-9.8,9.8 M3,8.3 L10,7.3 M3,8.8 L9.8,9.8" stroke="#b0b0b0" stroke-width="0.45"/>
</g>
<text x="13.20" y="667.90" font-size="9.4" font-weight="bold" fill="#050505">Start Arm</text>
<text x="160.90" y="576.10" font-size="12.7" font-weight="bold" fill="#050505">Forced Run</text>
<polygon points="150.00,578.40 143.00,590.60 188.00,616.90 194.70,603.80" fill="#d4e2f3"/>
<polygon points="239.40,578.40 246.70,590.60 202.60,616.90 194.70,603.80" fill="#d4e2f3"/>
<rect x="187.20" y="616.90" width="15.70" height="51.20" fill="#a2dcc4"/>
<polygon points="194.70,603.80 187.20,616.90 202.90,616.90" fill="#b5bde8"/>
<circle cx="238.00" cy="589.30" r="2.0" fill="#f2b22e" stroke="#c88a10" stroke-width="0.4"/>
<polygon points="195.10,602.70 198.60,601.60 206.00,615.20 202.50,616.90" fill="url(#gdoor)"/>
<g transform="translate(153.00,589.00) rotate(120) scale(0.6)">
<path d="M-0.5,-10.6 C1,-14 5,-15.5 8,-14.2 C9.7,-13.4 10.6,-12 10.6,-10.8" fill="none" stroke="#1a1a1a" stroke-width="0.95"/>
<path d="M0,-11 C5.5,-11 8.6,-7 8.6,-2 C8.6,0.5 8.2,2 7.6,3 C8.6,4.5 7.5,6.5 5.5,7.2 C4.5,9 2.3,11 0,11.2 C-2.3,11 -4.5,9 -5.5,7.2 C-7.5,6.5 -8.6,4.5 -7.6,3 C-8.2,2 -8.6,0.5 -8.6,-2 C-8.6,-7 -5.5,-11 0,-11 Z" fill="#7a7a7a" stroke="#111" stroke-width="1.0"/>
<path d="M-7.4,3.2 C-6,1.6 -3.2,1.8 -2.8,3.6 C-3.2,5.2 -5,6.6 -6.4,6.4 C-7.6,5.8 -8,4.4 -7.4,3.2 Z" fill="#a8a8a8"/>
<path d="M7.4,3.2 C6,1.6 3.2,1.8 2.8,3.6 C3.2,5.2 5,6.6 6.4,6.4 C7.6,5.8 8,4.4 7.4,3.2 Z" fill="#a8a8a8"/>
<path d="M-7.6,3 C-6.5,1.2 -3.5,1.2 -2.6,3.2 M7.6,3 C6.5,1.2 3.5,1.2 2.6,3.2" fill="none" stroke="#111" stroke-width="0.8"/>
<circle cx="-2.3" cy="4.6" r="1.05" fill="#111"/><circle cx="2.3" cy="4.6" r="1.05" fill="#111"/><circle cx="0" cy="10.4" r="0.9" fill="#111"/>
<path d="M-3,8.3 L-10,7.3 M-3,8.8 L-9.8,9.8 M3,8.3 L10,7.3 M3,8.8 L9.8,9.8" stroke="#b0b0b0" stroke-width="0.45"/>
</g>
<polyline points="194.9,642.0 194.9,611.7 164.4,595.2" fill="none" stroke="#050505" stroke-width="1.25"/>
<polygon points="161.60,593.60 166.06,593.87 164.06,597.33" fill="#050505"/>
<text x="209.50" y="626.20" font-size="9.4" font-weight="bold" fill="#050505">Close Arm</text>
<text x="313.10" y="556.00" font-size="12.5" font-weight="bold" fill="#050505">Test Run</text>
<text x="281.00" y="567.40" font-size="9.6" font-weight="bold" fill="#050505">(Interval time: 1min/3min)</text>
<polygon points="290.00,577.20 283.00,589.40 328.00,615.70 334.70,602.60" fill="#d4e2f3"/>
<polygon points="379.40,577.20 386.70,589.40 342.60,615.70 334.70,602.60" fill="#d4e2f3"/>
<rect x="327.20" y="615.70" width="15.70" height="51.20" fill="#a2dcc4"/>
<polygon points="334.70,602.60 327.20,615.70 342.90,615.70" fill="#b5bde8"/>
<circle cx="378.70" cy="587.30" r="2.0" fill="#f2b22e" stroke="#c88a10" stroke-width="0.4"/>
<g transform="translate(308.10,595.80) rotate(120) scale(0.6)">
<path d="M-0.5,-10.6 C1,-14 5,-15.5 8,-14.2 C9.7,-13.4 10.6,-12 10.6,-10.8" fill="none" stroke="#1a1a1a" stroke-width="0.95"/>
<path d="M0,-11 C5.5,-11 8.6,-7 8.6,-2 C8.6,0.5 8.2,2 7.6,3 C8.6,4.5 7.5,6.5 5.5,7.2 C4.5,9 2.3,11 0,11.2 C-2.3,11 -4.5,9 -5.5,7.2 C-7.5,6.5 -8.6,4.5 -7.6,3 C-8.2,2 -8.6,0.5 -8.6,-2 C-8.6,-7 -5.5,-11 0,-11 Z" fill="#7a7a7a" stroke="#111" stroke-width="1.0"/>
<path d="M-7.4,3.2 C-6,1.6 -3.2,1.8 -2.8,3.6 C-3.2,5.2 -5,6.6 -6.4,6.4 C-7.6,5.8 -8,4.4 -7.4,3.2 Z" fill="#a8a8a8"/>
<path d="M7.4,3.2 C6,1.6 3.2,1.8 2.8,3.6 C3.2,5.2 5,6.6 6.4,6.4 C7.6,5.8 8,4.4 7.4,3.2 Z" fill="#a8a8a8"/>
<path d="M-7.6,3 C-6.5,1.2 -3.5,1.2 -2.6,3.2 M7.6,3 C6.5,1.2 3.5,1.2 2.6,3.2" fill="none" stroke="#111" stroke-width="0.8"/>
<circle cx="-2.3" cy="4.6" r="1.05" fill="#111"/><circle cx="2.3" cy="4.6" r="1.05" fill="#111"/><circle cx="0" cy="10.4" r="0.9" fill="#111"/>
<path d="M-3,8.3 L-10,7.3 M-3,8.8 L-9.8,9.8 M3,8.3 L10,7.3 M3,8.8 L9.8,9.8" stroke="#b0b0b0" stroke-width="0.45"/>
</g>
<g transform="translate(367.90,593.10) rotate(-120) scale(0.6)">
<path d="M-0.5,-10.6 C1,-14 5,-15.5 8,-14.2 C9.7,-13.4 10.6,-12 10.6,-10.8" fill="none" stroke="#1a1a1a" stroke-width="0.95"/>
<path d="M0,-11 C5.5,-11 8.6,-7 8.6,-2 C8.6,0.5 8.2,2 7.6,3 C8.6,4.5 7.5,6.5 5.5,7.2 C4.5,9 2.3,11 0,11.2 C-2.3,11 -4.5,9 -5.5,7.2 C-7.5,6.5 -8.6,4.5 -7.6,3 C-8.2,2 -8.6,0.5 -8.6,-2 C-8.6,-7 -5.5,-11 0,-11 Z" fill="#7a7a7a" stroke="#111" stroke-width="1.0"/>
<path d="M-7.4,3.2 C-6,1.6 -3.2,1.8 -2.8,3.6 C-3.2,5.2 -5,6.6 -6.4,6.4 C-7.6,5.8 -8,4.4 -7.4,3.2 Z" fill="#a8a8a8"/>
<path d="M7.4,3.2 C6,1.6 3.2,1.8 2.8,3.6 C3.2,5.2 5,6.6 6.4,6.4 C7.6,5.8 8,4.4 7.4,3.2 Z" fill="#a8a8a8"/>
<path d="M-7.6,3 C-6.5,1.2 -3.5,1.2 -2.6,3.2 M7.6,3 C6.5,1.2 3.5,1.2 2.6,3.2" fill="none" stroke="#111" stroke-width="0.8"/>
<circle cx="-2.3" cy="4.6" r="1.05" fill="#111"/><circle cx="2.3" cy="4.6" r="1.05" fill="#111"/><circle cx="0" cy="10.4" r="0.9" fill="#111"/>
<path d="M-3,8.3 L-10,7.3 M-3,8.8 L-9.8,9.8 M3,8.3 L10,7.3 M3,8.8 L9.8,9.8" stroke="#b0b0b0" stroke-width="0.45"/>
</g>
<polyline points="334.6,652.5 334.6,613.0" fill="none" stroke="#050505" stroke-width="1.25"/>
<line x1="334.60" y1="613.00" x2="318.00" y2="604.30" stroke="#050505" stroke-width="1.25"/>
<polygon points="316.00,603.30 320.47,603.41 318.59,606.94" fill="#050505"/>
<line x1="334.60" y1="613.00" x2="357.50" y2="599.50" stroke="#050505" stroke-width="1.25"/>
<polygon points="359.50,598.40 357.04,602.13 355.04,598.67" fill="#050505"/>
<text x="282.00" y="616.20" font-size="9.6" font-weight="bold" font-style="italic" fill="#e0262a">(Error)</text>
<text x="354.80" y="616.20" font-size="9.6" font-weight="bold" font-style="italic" fill="#3aa047">(Correct)</text>
<text x="430.00" y="562.00" font-size="16" font-weight="bold" fill="#1f1b1c">I</text>
<line x1="489.80" y1="549.60" x2="489.80" y2="650.40" stroke="#050505" stroke-width="1.4"/>
<line x1="489.10" y1="649.70" x2="636.80" y2="649.70" stroke="#050505" stroke-width="1.4"/>
<line x1="484.80" y1="649.70" x2="489.80" y2="649.70" stroke="#050505" stroke-width="1.4"/>
<text x="483.00" y="652.96" font-size="9.3" font-weight="bold" text-anchor="end" fill="#050505">0.0</text>
<line x1="484.80" y1="629.68" x2="489.80" y2="629.68" stroke="#050505" stroke-width="1.4"/>
<text x="483.00" y="632.94" font-size="9.3" font-weight="bold" text-anchor="end" fill="#050505">0.2</text>
<line x1="484.80" y1="609.66" x2="489.80" y2="609.66" stroke="#050505" stroke-width="1.4"/>
<text x="483.00" y="612.92" font-size="9.3" font-weight="bold" text-anchor="end" fill="#050505">0.4</text>
<line x1="484.80" y1="589.64" x2="489.80" y2="589.64" stroke="#050505" stroke-width="1.4"/>
<text x="483.00" y="592.89" font-size="9.3" font-weight="bold" text-anchor="end" fill="#050505">0.6</text>
<line x1="484.80" y1="569.62" x2="489.80" y2="569.62" stroke="#050505" stroke-width="1.4"/>
<text x="483.00" y="572.88" font-size="9.3" font-weight="bold" text-anchor="end" fill="#050505">0.8</text>
<line x1="484.80" y1="549.60" x2="489.80" y2="549.60" stroke="#050505" stroke-width="1.4"/>
<text x="483.00" y="552.86" font-size="9.3" font-weight="bold" text-anchor="end" fill="#050505">1.0</text>
<line x1="524.20" y1="649.70" x2="524.20" y2="654.00" stroke="#050505" stroke-width="1.4"/>
<line x1="602.20" y1="649.70" x2="602.20" y2="654.00" stroke="#050505" stroke-width="1.4"/>
<rect x="500.10" y="575.00" width="19.00" height="74.70" fill="#47419f"/>
<rect x="529.00" y="578.90" width="19.80" height="70.80" fill="#b0254f"/>
<rect x="577.80" y="575.10" width="19.70" height="74.60" fill="#47419f"/>
<rect x="606.70" y="602.60" width="20.10" height="47.10" fill="#b0254f"/>
<line x1="509.40" y1="556.90" x2="509.40" y2="574.50" stroke="#444" stroke-width="0.7"/>
<line x1="504.40" y1="556.90" x2="514.40" y2="556.90" stroke="#444" stroke-width="0.7"/>
<line x1="538.60" y1="572.90" x2="538.60" y2="578.90" stroke="#444" stroke-width="0.7"/>
<line x1="533.60" y1="572.90" x2="543.60" y2="572.90" stroke="#444" stroke-width="0.7"/>
<line x1="587.60" y1="556.90" x2="587.60" y2="574.90" stroke="#444" stroke-width="0.7"/>
<line x1="582.60" y1="556.90" x2="592.60" y2="556.90" stroke="#444" stroke-width="0.7"/>
<line x1="616.70" y1="598.60" x2="616.70" y2="602.60" stroke="#444" stroke-width="0.7"/>
<line x1="611.70" y1="598.60" x2="621.70" y2="598.60" stroke="#444" stroke-width="0.7"/>
<text transform="translate(463.80,598.60) rotate(-90)" font-size="11.1" font-weight="bold" text-anchor="middle" fill="#050505">Correct rate/%</text>
<text x="524.20" y="664.20" font-size="8.6" font-weight="bold" text-anchor="middle" fill="#050505">1-min</text>
<text x="602.20" y="664.20" font-size="8.6" font-weight="bold" text-anchor="middle" fill="#050505">3-min</text>
<text x="563.20" y="679.70" font-size="11.1" font-weight="bold" text-anchor="middle" fill="#050505">Interval time</text>
<rect x="626.80" y="546.80" width="10.40" height="5.40" fill="#47419f"/>
<rect x="626.80" y="559.80" width="10.40" height="5.40" fill="#b0254f"/>
<text x="642.00" y="552.40" font-size="7.6" fill="#050505">Control</text>
<text x="642.00" y="565.30" font-size="7.6" fill="#050505">sh-DDX3X</text>
<text x="1.00" y="699.30" font-size="16" font-weight="bold" fill="#1f1b1c">J</text>
<line x1="69.60" y1="703.60" x2="69.60" y2="814.80" stroke="#050505" stroke-width="1.2"/>
<line x1="69.00" y1="814.20" x2="152.10" y2="814.20" stroke="#050505" stroke-width="1.2"/>
<line x1="66.10" y1="814.20" x2="69.60" y2="814.20" stroke="#050505" stroke-width="1.2"/>
<text x="64.50" y="816.44" font-size="6.4" font-weight="bold" text-anchor="end" fill="#050505">0</text>
<line x1="66.10" y1="786.60" x2="69.60" y2="786.60" stroke="#050505" stroke-width="1.2"/>
<text x="64.50" y="788.84" font-size="6.4" font-weight="bold" text-anchor="end" fill="#050505">10</text>
<line x1="66.10" y1="758.80" x2="69.60" y2="758.80" stroke="#050505" stroke-width="1.2"/>
<text x="64.50" y="761.04" font-size="6.4" font-weight="bold" text-anchor="end" fill="#050505">20</text>
<line x1="66.10" y1="731.20" x2="69.60" y2="731.20" stroke="#050505" stroke-width="1.2"/>
<text x="64.50" y="733.44" font-size="6.4" font-weight="bold" text-anchor="end" fill="#050505">30</text>
<line x1="66.10" y1="703.60" x2="69.60" y2="703.60" stroke="#050505" stroke-width="1.2"/>
<text x="64.50" y="705.84" font-size="6.4" font-weight="bold" text-anchor="end" fill="#050505">40</text>
<line x1="93.50" y1="814.20" x2="93.50" y2="817.70" stroke="#050505" stroke-width="1.2"/>
<line x1="128.70" y1="814.20" x2="128.70" y2="817.70" stroke="#050505" stroke-width="1.2"/>
<rect x="81.50" y="750.10" width="23.60" height="64.10" fill="#3e23bf"/>
<rect x="117.10" y="771.50" width="23.70" height="42.70" fill="#b01c48"/>
<line x1="93.50" y1="727.10" x2="93.50" y2="772.40" stroke="#050505" stroke-width="0.8"/>
<line x1="86.40" y1="727.10" x2="100.60" y2="727.10" stroke="#050505" stroke-width="0.8"/>
<line x1="86.40" y1="772.40" x2="100.60" y2="772.40" stroke="#050505" stroke-width="0.8"/>
<line x1="128.70" y1="758.20" x2="128.70" y2="784.40" stroke="#050505" stroke-width="0.8"/>
<line x1="123.20" y1="758.20" x2="134.20" y2="758.20" stroke="#050505" stroke-width="0.8"/>
<line x1="123.20" y1="784.40" x2="134.20" y2="784.40" stroke="#050505" stroke-width="0.8"/>
<circle cx="93.50" cy="709.10" r="1.45" fill="#050505"/>
<circle cx="93.50" cy="731.50" r="1.45" fill="#050505"/>
<circle cx="93.50" cy="734.30" r="1.45" fill="#050505"/>
<circle cx="93.50" cy="737.40" r="1.45" fill="#050505"/>
<circle cx="93.50" cy="747.90" r="1.45" fill="#050505"/>
<circle cx="93.50" cy="756.20" r="1.45" fill="#050505"/>
<circle cx="93.50" cy="761.50" r="1.45" fill="#050505"/>
<circle cx="93.50" cy="764.30" r="1.45" fill="#050505"/>
<circle cx="93.50" cy="767.60" r="1.45" fill="#050505"/>
<circle cx="93.50" cy="789.50" r="1.45" fill="#050505"/>
<circle cx="128.70" cy="747.90" r="1.45" fill="#050505"/>
<circle cx="128.70" cy="756.20" r="1.45" fill="#050505"/>
<circle cx="128.70" cy="761.50" r="1.45" fill="#050505"/>
<circle cx="128.70" cy="767.60" r="1.45" fill="#050505"/>
<circle cx="128.70" cy="773.10" r="1.45" fill="#050505"/>
<circle cx="128.70" cy="775.70" r="1.45" fill="#050505"/>
<circle cx="125.90" cy="781.20" r="1.45" fill="#050505"/>
<circle cx="131.40" cy="781.20" r="1.45" fill="#050505"/>
<circle cx="128.70" cy="786.60" r="1.45" fill="#050505"/>
<polyline points="93.50,704.10 93.50,698.60 128.70,698.60 128.70,742.40" fill="none" stroke="#444" stroke-width="0.8"/>
<path d="M111.00,688.20 L111.00,694.60 M108.23,689.80 L113.77,693.00 M113.77,689.80 L108.23,693.00 " stroke="#050505" stroke-width="1.5" fill="none"/>
<text transform="translate(41.00,759.00) rotate(-90)" font-size="9.7" font-weight="bold" text-anchor="middle" fill="#050505">Number of nose-anogenital</text>
<text transform="translate(51.30,758.80) rotate(-90)" font-size="9.7" font-weight="bold" text-anchor="middle" fill="#050505">(10-min)</text>
<text x="93.50" y="826.40" font-size="7.0" font-weight="bold" text-anchor="middle" fill="#050505">Control</text>
<text x="129.00" y="826.40" font-size="7.0" font-weight="bold" text-anchor="middle" fill="#050505">sh-DDX3X</text>
<text x="180.70" y="700.40" font-size="16" font-weight="bold" fill="#1f1b1c">K</text>
<line x1="241.10" y1="703.40" x2="241.10" y2="814.90" stroke="#050505" stroke-width="1.2"/>
<line x1="240.50" y1="814.30" x2="324.10" y2="814.30" stroke="#050505" stroke-width="1.2"/>
<line x1="237.60" y1="814.30" x2="241.10" y2="814.30" stroke="#050505" stroke-width="1.2"/>
<text x="236.00" y="816.54" font-size="6.4" font-weight="bold" text-anchor="end" fill="#050505">0</text>
<line x1="237.60" y1="777.40" x2="241.10" y2="777.40" stroke="#050505" stroke-width="1.2"/>
<text x="236.00" y="779.64" font-size="6.4" font-weight="bold" text-anchor="end" fill="#050505">50</text>
<line x1="237.60" y1="740.30" x2="241.10" y2="740.30" stroke="#050505" stroke-width="1.2"/>
<text x="236.00" y="742.54" font-size="6.4" font-weight="bold" text-anchor="end" fill="#050505">100</text>
<line x1="237.60" y1="703.40" x2="241.10" y2="703.40" stroke="#050505" stroke-width="1.2"/>
<text x="236.00" y="705.64" font-size="6.4" font-weight="bold" text-anchor="end" fill="#050505">150</text>
<line x1="265.40" y1="814.30" x2="265.40" y2="817.80" stroke="#050505" stroke-width="1.2"/>
<line x1="301.20" y1="814.30" x2="301.20" y2="817.80" stroke="#050505" stroke-width="1.2"/>
<rect x="253.80" y="760.60" width="23.30" height="53.70" fill="#3e23bf"/>
<rect x="289.10" y="776.90" width="23.80" height="37.40" fill="#b01c48"/>
<line x1="265.40" y1="732.10" x2="265.40" y2="788.60" stroke="#050505" stroke-width="0.8"/>
<line x1="258.90" y1="732.10" x2="271.90" y2="732.10" stroke="#050505" stroke-width="0.8"/>
<line x1="258.90" y1="788.60" x2="271.90" y2="788.60" stroke="#050505" stroke-width="0.8"/>
<line x1="301.20" y1="762.90" x2="301.20" y2="790.30" stroke="#050505" stroke-width="0.8"/>
<line x1="295.40" y1="762.90" x2="307.00" y2="762.90" stroke="#050505" stroke-width="0.8"/>
<line x1="295.40" y1="790.30" x2="307.00" y2="790.30" stroke="#050505" stroke-width="0.8"/>
<circle cx="265.40" cy="714.60" r="1.45" fill="#050505"/>
<circle cx="270.80" cy="713.40" r="1.45" fill="#050505"/>
<circle cx="265.40" cy="749.40" r="1.45" fill="#050505"/>
<circle cx="260.10" cy="764.10" r="1.45" fill="#050505"/>
<circle cx="265.40" cy="762.90" r="1.45" fill="#050505"/>
<circle cx="270.80" cy="764.80" r="1.45" fill="#050505"/>
<circle cx="265.40" cy="771.10" r="1.45" fill="#050505"/>
<circle cx="270.80" cy="780.00" r="1.45" fill="#050505"/>
<circle cx="265.40" cy="781.60" r="1.45" fill="#050505"/>
<circle cx="265.40" cy="803.30" r="1.45" fill="#050505"/>
<circle cx="301.20" cy="743.50" r="1.45" fill="#050505"/>
<circle cx="296.10" cy="772.30" r="1.45" fill="#050505"/>
<circle cx="301.20" cy="770.60" r="1.45" fill="#050505"/>
<circle cx="306.60" cy="769.90" r="1.45" fill="#050505"/>
<circle cx="296.10" cy="780.90" r="1.45" fill="#050505"/>
<circle cx="301.20" cy="780.40" r="1.45" fill="#050505"/>
<circle cx="301.20" cy="787.00" r="1.45" fill="#050505"/>
<circle cx="301.20" cy="792.60" r="1.45" fill="#050505"/>
<polyline points="265.40,708.00 265.40,702.70 301.20,702.70 301.20,737.90" fill="none" stroke="#444" stroke-width="0.8"/>
<text x="283.20" y="697.50" font-size="8.5" text-anchor="middle" fill="#050505">ns</text>
<text transform="translate(209.40,758.80) rotate(-90)" font-size="9.7" font-weight="bold" text-anchor="middle" fill="#050505">Time spent of nose-anogenital</text>
<text transform="translate(220.00,759.80) rotate(-90)" font-size="9.7" font-weight="bold" text-anchor="middle" fill="#050505">(sec/ 10-min)</text>
<text x="265.20" y="826.20" font-size="7.0" font-weight="bold" text-anchor="middle" fill="#050505">Control</text>
<text x="301.00" y="826.20" font-size="7.0" font-weight="bold" text-anchor="middle" fill="#050505">sh-DDX3X</text>
<text x="351.50" y="699.90" font-size="16" font-weight="bold" fill="#1f1b1c">L</text>
<line x1="403.80" y1="703.80" x2="403.80" y2="815.40" stroke="#050505" stroke-width="1.2"/>
<line x1="403.20" y1="814.80" x2="487.90" y2="814.80" stroke="#050505" stroke-width="1.2"/>
<line x1="400.30" y1="814.80" x2="403.80" y2="814.80" stroke="#050505" stroke-width="1.2"/>
<text x="398.70" y="817.04" font-size="6.4" font-weight="bold" text-anchor="end" fill="#050505">0</text>
<line x1="400.30" y1="787.00" x2="403.80" y2="787.00" stroke="#050505" stroke-width="1.2"/>
<text x="398.70" y="789.24" font-size="6.4" font-weight="bold" text-anchor="end" fill="#050505">10</text>
<line x1="400.30" y1="759.40" x2="403.80" y2="759.40" stroke="#050505" stroke-width="1.2"/>
<text x="398.70" y="761.64" font-size="6.4" font-weight="bold" text-anchor="end" fill="#050505">20</text>
<line x1="400.30" y1="731.40" x2="403.80" y2="731.40" stroke="#050505" stroke-width="1.2"/>
<text x="398.70" y="733.64" font-size="6.4" font-weight="bold" text-anchor="end" fill="#050505">30</text>
<line x1="400.30" y1="703.80" x2="403.80" y2="703.80" stroke="#050505" stroke-width="1.2"/>
<text x="398.70" y="706.04" font-size="6.4" font-weight="bold" text-anchor="end" fill="#050505">40</text>
<line x1="428.40" y1="814.80" x2="428.40" y2="818.30" stroke="#050505" stroke-width="1.2"/>
<line x1="464.10" y1="814.80" x2="464.10" y2="818.30" stroke="#050505" stroke-width="1.2"/>
<rect x="416.70" y="780.90" width="23.60" height="33.90" fill="#3e23bf"/>
<rect x="452.40" y="785.10" width="23.40" height="29.70" fill="#b01c48"/>
<line x1="428.40" y1="760.10" x2="428.40" y2="801.00" stroke="#050505" stroke-width="0.8"/>
<line x1="422.00" y1="760.10" x2="434.80" y2="760.10" stroke="#050505" stroke-width="0.8"/>
<line x1="422.00" y1="801.00" x2="434.80" y2="801.00" stroke="#050505" stroke-width="0.8"/>
<line x1="464.10" y1="764.80" x2="464.10" y2="804.30" stroke="#050505" stroke-width="0.8"/>
<line x1="457.90" y1="764.80" x2="470.30" y2="764.80" stroke="#050505" stroke-width="0.8"/>
<line x1="457.90" y1="804.30" x2="470.30" y2="804.30" stroke="#050505" stroke-width="0.8"/>
<circle cx="428.40" cy="728.60" r="1.45" fill="#050505"/>
<circle cx="428.40" cy="769.90" r="1.45" fill="#050505"/>
<circle cx="425.60" cy="778.60" r="1.45" fill="#050505"/>
<circle cx="428.40" cy="781.10" r="1.45" fill="#050505"/>
<circle cx="430.90" cy="781.10" r="1.45" fill="#050505"/>
<circle cx="428.40" cy="784.50" r="1.45" fill="#050505"/>
<circle cx="428.40" cy="787.50" r="1.45" fill="#050505"/>
<circle cx="423.20" cy="798.00" r="1.45" fill="#050505"/>
<circle cx="428.40" cy="798.00" r="1.45" fill="#050505"/>
<circle cx="433.70" cy="798.00" r="1.45" fill="#050505"/>
<circle cx="464.10" cy="753.60" r="1.45" fill="#050505"/>
<circle cx="461.30" cy="764.60" r="1.45" fill="#050505"/>
<circle cx="467.60" cy="764.60" r="1.45" fill="#050505"/>
<circle cx="464.10" cy="769.90" r="1.45" fill="#050505"/>
<circle cx="464.10" cy="789.30" r="1.45" fill="#050505"/>
<circle cx="464.10" cy="792.10" r="1.45" fill="#050505"/>
<circle cx="464.10" cy="798.00" r="1.45" fill="#050505"/>
<circle cx="464.10" cy="801.00" r="1.45" fill="#050505"/>
<circle cx="464.10" cy="803.80" r="1.45" fill="#050505"/>
<circle cx="464.10" cy="808.90" r="1.45" fill="#050505"/>
<polyline points="428.40,723.20 428.40,718.10 464.10,718.10 464.10,747.70" fill="none" stroke="#444" stroke-width="0.8"/>
<text x="446.60" y="713.20" font-size="8.5" text-anchor="middle" fill="#050505">ns</text>
<text transform="translate(376.00,759.40) rotate(-90)" font-size="9.7" font-weight="bold" text-anchor="middle" fill="#050505">Number of following</text>
<text transform="translate(387.40,759.20) rotate(-90)" font-size="9.7" font-weight="bold" text-anchor="middle" fill="#050505">(10-min)</text>
<text x="428.40" y="826.20" font-size="7.0" font-weight="bold" text-anchor="middle" fill="#050505">Control</text>
<text x="464.60" y="826.20" font-size="7.0" font-weight="bold" text-anchor="middle" fill="#050505">sh-DDX3X</text>
<text x="1.00" y="842.90" font-size="16" font-weight="bold" fill="#1f1b1c">M</text>
<line x1="70.10" y1="848.50" x2="70.10" y2="959.60" stroke="#050505" stroke-width="1.2"/>
<line x1="69.50" y1="959.00" x2="153.00" y2="959.00" stroke="#050505" stroke-width="1.2"/>
<line x1="66.60" y1="959.00" x2="70.10" y2="959.00" stroke="#050505" stroke-width="1.2"/>
<text x="65.00" y="961.24" font-size="6.4" font-weight="bold" text-anchor="end" fill="#050505">0</text>
<line x1="66.60" y1="936.80" x2="70.10" y2="936.80" stroke="#050505" stroke-width="1.2"/>
<text x="65.00" y="939.04" font-size="6.4" font-weight="bold" text-anchor="end" fill="#050505">10</text>
<line x1="66.60" y1="914.60" x2="70.10" y2="914.60" stroke="#050505" stroke-width="1.2"/>
<text x="65.00" y="916.84" font-size="6.4" font-weight="bold" text-anchor="end" fill="#050505">20</text>
<line x1="66.60" y1="892.40" x2="70.10" y2="892.40" stroke="#050505" stroke-width="1.2"/>
<text x="65.00" y="894.64" font-size="6.4" font-weight="bold" text-anchor="end" fill="#050505">30</text>
<line x1="66.60" y1="870.70" x2="70.10" y2="870.70" stroke="#050505" stroke-width="1.2"/>
<text x="65.00" y="872.94" font-size="6.4" font-weight="bold" text-anchor="end" fill="#050505">40</text>
<line x1="66.60" y1="848.50" x2="70.10" y2="848.50" stroke="#050505" stroke-width="1.2"/>
<text x="65.00" y="850.74" font-size="6.4" font-weight="bold" text-anchor="end" fill="#050505">50</text>
<line x1="94.60" y1="959.00" x2="94.60" y2="962.50" stroke="#050505" stroke-width="1.2"/>
<line x1="130.10" y1="959.00" x2="130.10" y2="962.50" stroke="#050505" stroke-width="1.2"/>
<rect x="82.90" y="911.80" width="23.40" height="47.20" fill="#3e23bf"/>
<rect x="118.40" y="908.80" width="23.60" height="50.20" fill="#b01c48"/>
<line x1="94.60" y1="887.30" x2="94.60" y2="936.30" stroke="#050505" stroke-width="0.8"/>
<line x1="88.00" y1="887.30" x2="101.20" y2="887.30" stroke="#050505" stroke-width="0.8"/>
<line x1="88.00" y1="936.30" x2="101.20" y2="936.30" stroke="#050505" stroke-width="0.8"/>
<line x1="130.10" y1="892.40" x2="130.10" y2="925.60" stroke="#050505" stroke-width="0.8"/>
<line x1="123.90" y1="892.40" x2="136.30" y2="892.40" stroke="#050505" stroke-width="0.8"/>
<line x1="123.90" y1="925.60" x2="136.30" y2="925.60" stroke="#050505" stroke-width="0.8"/>
<circle cx="94.60" cy="863.70" r="1.45" fill="#050505"/>
<circle cx="89.20" cy="894.70" r="1.45" fill="#050505"/>
<circle cx="94.60" cy="896.60" r="1.45" fill="#050505"/>
<circle cx="100.00" cy="894.70" r="1.45" fill="#050505"/>
<circle cx="94.60" cy="903.40" r="1.45" fill="#050505"/>
<circle cx="91.60" cy="927.50" r="1.45" fill="#050505"/>
<circle cx="96.90" cy="925.80" r="1.45" fill="#050505"/>
<circle cx="94.60" cy="934.50" r="1.45" fill="#050505"/>
<circle cx="89.20" cy="939.10" r="1.45" fill="#050505"/>
<circle cx="100.00" cy="936.30" r="1.45" fill="#050505"/>
<circle cx="130.10" cy="874.90" r="1.45" fill="#050505"/>
<circle cx="130.10" cy="890.10" r="1.45" fill="#050505"/>
<circle cx="130.10" cy="899.00" r="1.45" fill="#050505"/>
<circle cx="125.00" cy="909.90" r="1.45" fill="#050505"/>
<circle cx="125.00" cy="914.60" r="1.45" fill="#050505"/>
<circle cx="130.10" cy="914.60" r="1.45" fill="#050505"/>
<circle cx="135.50" cy="912.30" r="1.45" fill="#050505"/>
<circle cx="135.50" cy="916.50" r="1.45" fill="#050505"/>
<circle cx="127.30" cy="927.90" r="1.45" fill="#050505"/>
<circle cx="133.10" cy="925.60" r="1.45" fill="#050505"/>
<polyline points="94.60,858.50 94.60,853.20 130.10,853.20 130.10,869.10" fill="none" stroke="#444" stroke-width="0.8"/>
<text x="112.10" y="848.50" font-size="8.5" text-anchor="middle" fill="#050505">ns</text>
<text transform="translate(41.00,904.00) rotate(-90)" font-size="9.8" font-weight="bold" text-anchor="middle" fill="#050505">Number of social sniffing</text>
<text transform="translate(52.60,904.10) rotate(-90)" font-size="9.7" font-weight="bold" text-anchor="middle" fill="#050505">(10-min)</text>
<text x="94.60" y="970.50" font-size="7.0" font-weight="bold" text-anchor="middle" fill="#050505">Control</text>
<text x="130.60" y="970.50" font-size="7.0" font-weight="bold" text-anchor="middle" fill="#050505">sh-DDX3X</text>
<text x="181.80" y="843.10" font-size="16" font-weight="bold" fill="#1f1b1c">N</text>
<line x1="242.70" y1="848.10" x2="242.70" y2="959.30" stroke="#050505" stroke-width="1.2"/>
<line x1="242.10" y1="958.70" x2="325.50" y2="958.70" stroke="#050505" stroke-width="1.2"/>
<line x1="239.20" y1="958.70" x2="242.70" y2="958.70" stroke="#050505" stroke-width="1.2"/>
<text x="237.60" y="960.94" font-size="6.4" font-weight="bold" text-anchor="end" fill="#050505">0</text>
<line x1="239.20" y1="936.90" x2="242.70" y2="936.90" stroke="#050505" stroke-width="1.2"/>
<text x="237.60" y="939.14" font-size="6.4" font-weight="bold" text-anchor="end" fill="#050505">100</text>
<line x1="239.20" y1="914.60" x2="242.70" y2="914.60" stroke="#050505" stroke-width="1.2"/>
<text x="237.60" y="916.84" font-size="6.4" font-weight="bold" text-anchor="end" fill="#050505">200</text>
<line x1="239.20" y1="892.50" x2="242.70" y2="892.50" stroke="#050505" stroke-width="1.2"/>
<text x="237.60" y="894.74" font-size="6.4" font-weight="bold" text-anchor="end" fill="#050505">300</text>
<line x1="239.20" y1="870.40" x2="242.70" y2="870.40" stroke="#050505" stroke-width="1.2"/>
<text x="237.60" y="872.64" font-size="6.4" font-weight="bold" text-anchor="end" fill="#050505">400</text>
<line x1="239.20" y1="848.10" x2="242.70" y2="848.10" stroke="#050505" stroke-width="1.2"/>
<text x="237.60" y="850.34" font-size="6.4" font-weight="bold" text-anchor="end" fill="#050505">500</text>
<line x1="266.10" y1="958.70" x2="266.10" y2="962.20" stroke="#050505" stroke-width="1.2"/>
<line x1="301.90" y1="958.70" x2="301.90" y2="962.20" stroke="#050505" stroke-width="1.2"/>
<rect x="254.40" y="938.80" width="23.40" height="19.90" fill="#3e23bf"/>
<rect x="290.20" y="936.90" width="23.40" height="21.80" fill="#b01c48"/>
<line x1="266.10" y1="910.60" x2="266.10" y2="958.70" stroke="#050505" stroke-width="0.8"/>
<line x1="259.50" y1="910.60" x2="272.70" y2="910.60" stroke="#050505" stroke-width="0.8"/>
<line x1="259.50" y1="958.70" x2="272.70" y2="958.70" stroke="#050505" stroke-width="0.8"/>
<line x1="301.90" y1="922.50" x2="301.90" y2="950.60" stroke="#050505" stroke-width="0.8"/>
<line x1="295.70" y1="922.50" x2="308.10" y2="922.50" stroke="#050505" stroke-width="0.8"/>
<line x1="295.70" y1="950.60" x2="308.10" y2="950.60" stroke="#050505" stroke-width="0.8"/>
<circle cx="266.10" cy="872.50" r="1.45" fill="#050505"/>
<circle cx="266.50" cy="905.00" r="1.45" fill="#050505"/>
<circle cx="266.50" cy="940.10" r="1.45" fill="#050505"/>
<circle cx="263.70" cy="945.10" r="1.45" fill="#050505"/>
<circle cx="269.20" cy="947.30" r="1.45" fill="#050505"/>
<circle cx="266.50" cy="951.90" r="1.45" fill="#050505"/>
<circle cx="263.70" cy="955.40" r="1.45" fill="#050505"/>
<circle cx="258.40" cy="957.20" r="1.45" fill="#050505"/>
<circle cx="269.20" cy="956.50" r="1.45" fill="#050505"/>
<circle cx="274.40" cy="956.50" r="1.45" fill="#050505"/>
<circle cx="302.00" cy="903.90" r="1.45" fill="#050505"/>
<circle cx="302.00" cy="925.00" r="1.45" fill="#050505"/>
<circle cx="302.00" cy="931.90" r="1.45" fill="#050505"/>
<circle cx="302.00" cy="937.20" r="1.45" fill="#050505"/>
<circle cx="296.80" cy="938.80" r="1.45" fill="#050505"/>
<circle cx="307.70" cy="939.20" r="1.45" fill="#050505"/>
<circle cx="307.70" cy="944.70" r="1.45" fill="#050505"/>
<circle cx="302.00" cy="946.40" r="1.45" fill="#050505"/>
<circle cx="299.40" cy="951.50" r="1.45" fill="#050505"/>
<circle cx="304.80" cy="950.80" r="1.45" fill="#050505"/>
<polyline points="266.10,867.30 266.10,861.50 301.90,861.50 301.90,898.00" fill="none" stroke="#444" stroke-width="0.8"/>
<text x="284.50" y="857.50" font-size="8.5" text-anchor="middle" fill="#050505">ns</text>
<text transform="translate(213.30,902.80) rotate(-90)" font-size="9.8" font-weight="bold" text-anchor="middle" fill="#050505">Time spent of social sniffing</text>
<text transform="translate(224.60,903.40) rotate(-90)" font-size="9.7" font-weight="bold" text-anchor="middle" fill="#050505">(sec/ 10-min)</text>
<text x="266.10" y="970.50" font-size="7.0" font-weight="bold" text-anchor="middle" fill="#050505">Control</text>
<text x="301.90" y="970.50" font-size="7.0" font-weight="bold" text-anchor="middle" fill="#050505">sh-DDX3X</text>
<text x="351.30" y="843.60" font-size="16" font-weight="bold" fill="#1f1b1c">O</text>
<line x1="404.10" y1="848.10" x2="404.10" y2="959.30" stroke="#050505" stroke-width="1.2"/>
<line x1="403.50" y1="958.70" x2="487.40" y2="958.70" stroke="#050505" stroke-width="1.2"/>
<line x1="400.60" y1="958.70" x2="404.10" y2="958.70" stroke="#050505" stroke-width="1.2"/>
<text x="399.00" y="960.94" font-size="6.4" font-weight="bold" text-anchor="end" fill="#050505">0</text>
<line x1="400.60" y1="931.10" x2="404.10" y2="931.10" stroke="#050505" stroke-width="1.2"/>
<text x="399.00" y="933.34" font-size="6.4" font-weight="bold" text-anchor="end" fill="#050505">20</text>
<line x1="400.60" y1="903.60" x2="404.10" y2="903.60" stroke="#050505" stroke-width="1.2"/>
<text x="399.00" y="905.84" font-size="6.4" font-weight="bold" text-anchor="end" fill="#050505">40</text>
<line x1="400.60" y1="875.70" x2="404.10" y2="875.70" stroke="#050505" stroke-width="1.2"/>
<text x="399.00" y="877.94" font-size="6.4" font-weight="bold" text-anchor="end" fill="#050505">60</text>
<line x1="400.60" y1="848.10" x2="404.10" y2="848.10" stroke="#050505" stroke-width="1.2"/>
<text x="399.00" y="850.34" font-size="6.4" font-weight="bold" text-anchor="end" fill="#050505">80</text>
<line x1="428.30" y1="958.70" x2="428.30" y2="962.20" stroke="#050505" stroke-width="1.2"/>
<line x1="464.00" y1="958.70" x2="464.00" y2="962.20" stroke="#050505" stroke-width="1.2"/>
<rect x="416.70" y="920.60" width="23.60" height="38.10" fill="#3e23bf"/>
<rect x="451.90" y="923.00" width="23.90" height="35.70" fill="#b01c48"/>
<line x1="428.30" y1="895.40" x2="428.30" y2="946.10" stroke="#050505" stroke-width="0.8"/>
<line x1="422.40" y1="895.40" x2="434.20" y2="895.40" stroke="#050505" stroke-width="0.8"/>
<line x1="422.40" y1="946.10" x2="434.20" y2="946.10" stroke="#050505" stroke-width="0.8"/>
<line x1="464.00" y1="893.60" x2="464.00" y2="951.40" stroke="#050505" stroke-width="0.8"/>
<line x1="457.80" y1="893.60" x2="470.20" y2="893.60" stroke="#050505" stroke-width="0.8"/>
<line x1="457.80" y1="951.40" x2="470.20" y2="951.40" stroke="#050505" stroke-width="0.8"/>
<circle cx="428.30" cy="864.70" r="1.45" fill="#050505"/>
<circle cx="425.60" cy="899.30" r="1.45" fill="#050505"/>
<circle cx="431.70" cy="900.10" r="1.45" fill="#050505"/>
<circle cx="428.30" cy="921.20" r="1.45" fill="#050505"/>
<circle cx="428.30" cy="924.60" r="1.45" fill="#050505"/>
<circle cx="428.30" cy="928.20" r="1.45" fill="#050505"/>
<circle cx="428.30" cy="935.60" r="1.45" fill="#050505"/>
<circle cx="425.60" cy="939.50" r="1.45" fill="#050505"/>
<circle cx="428.30" cy="943.50" r="1.45" fill="#050505"/>
<circle cx="431.00" cy="939.50" r="1.45" fill="#050505"/>
<circle cx="464.00" cy="870.40" r="1.45" fill="#050505"/>
<circle cx="464.00" cy="892.30" r="1.45" fill="#050505"/>
<circle cx="464.00" cy="904.60" r="1.45" fill="#050505"/>
<circle cx="464.00" cy="933.00" r="1.45" fill="#050505"/>
<circle cx="464.00" cy="936.90" r="1.45" fill="#050505"/>
<circle cx="461.40" cy="944.80" r="1.45" fill="#050505"/>
<circle cx="466.60" cy="943.50" r="1.45" fill="#050505"/>
<circle cx="464.00" cy="954.50" r="1.45" fill="#050505"/>
<polyline points="428.30,858.10 428.30,853.40 464.00,853.40 464.00,865.20" fill="none" stroke="#444" stroke-width="0.8"/>
<text x="446.10" y="848.60" font-size="8.5" text-anchor="middle" fill="#050505">ns</text>
<text transform="translate(375.50,903.20) rotate(-90)" font-size="9.8" font-weight="bold" text-anchor="middle" fill="#050505">Time spent of social following</text>
<text transform="translate(386.60,903.40) rotate(-90)" font-size="9.7" font-weight="bold" text-anchor="middle" fill="#050505">(sec/ 10-min)</text>
<text x="428.30" y="970.50" font-size="7.0" font-weight="bold" text-anchor="middle" fill="#050505">Control</text>
<text x="464.00" y="970.50" font-size="7.0" font-weight="bold" text-anchor="middle" fill="#050505">sh-DDX3X</text>
<text x="501.70" y="699.90" font-size="16" font-weight="bold" fill="#1f1b1c">P</text>
<line x1="568.00" y1="713.50" x2="568.00" y2="810.80" stroke="#050505" stroke-width="1.4"/>
<line x1="567.30" y1="810.10" x2="652.20" y2="810.10" stroke="#050505" stroke-width="1.4"/>
<line x1="564.50" y1="810.10" x2="568.00" y2="810.10" stroke="#050505" stroke-width="1.4"/>
<text x="562.90" y="812.76" font-size="7.6" font-weight="bold" text-anchor="end" fill="#050505">0</text>
<line x1="564.50" y1="778.00" x2="568.00" y2="778.00" stroke="#050505" stroke-width="1.4"/>
<text x="562.90" y="780.66" font-size="7.6" font-weight="bold" text-anchor="end" fill="#050505">5</text>
<line x1="564.50" y1="746.10" x2="568.00" y2="746.10" stroke="#050505" stroke-width="1.4"/>
<text x="562.90" y="748.76" font-size="7.6" font-weight="bold" text-anchor="end" fill="#050505">10</text>
<line x1="564.50" y1="713.50" x2="568.00" y2="713.50" stroke="#050505" stroke-width="1.4"/>
<text x="562.90" y="716.16" font-size="7.6" font-weight="bold" text-anchor="end" fill="#050505">15</text>
<line x1="592.50" y1="810.10" x2="592.50" y2="813.60" stroke="#050505" stroke-width="1.4"/>
<line x1="628.50" y1="810.10" x2="628.50" y2="813.60" stroke="#050505" stroke-width="1.4"/>
<rect x="580.80" y="763.60" width="23.70" height="46.50" fill="#47419f"/>
<rect x="616.40" y="747.80" width="23.60" height="62.30" fill="#b0254f"/>
<line x1="592.50" y1="750.40" x2="592.50" y2="776.40" stroke="#050505" stroke-width="1.5"/>
<line x1="586.10" y1="750.40" x2="598.90" y2="750.40" stroke="#050505" stroke-width="1.5"/>
<line x1="586.10" y1="776.40" x2="598.90" y2="776.40" stroke="#050505" stroke-width="1.5"/>
<line x1="628.50" y1="735.90" x2="628.50" y2="760.10" stroke="#050505" stroke-width="1.5"/>
<line x1="622.10" y1="735.90" x2="634.90" y2="735.90" stroke="#050505" stroke-width="1.5"/>
<line x1="622.10" y1="760.10" x2="634.90" y2="760.10" stroke="#050505" stroke-width="1.5"/>
<circle cx="592.50" cy="745.70" r="1.5" fill="#050505"/>
<circle cx="592.50" cy="752.20" r="1.5" fill="#050505"/>
<circle cx="589.00" cy="758.70" r="1.5" fill="#050505"/>
<circle cx="595.70" cy="758.70" r="1.5" fill="#050505"/>
<circle cx="589.00" cy="765.30" r="1.5" fill="#050505"/>
<circle cx="595.70" cy="765.30" r="1.5" fill="#050505"/>
<circle cx="592.50" cy="777.60" r="1.5" fill="#050505"/>
<circle cx="592.50" cy="784.60" r="1.5" fill="#050505"/>
<circle cx="628.50" cy="732.60" r="1.5" fill="#050505"/>
<circle cx="622.30" cy="739.10" r="1.5" fill="#050505"/>
<circle cx="628.50" cy="739.10" r="1.5" fill="#050505"/>
<circle cx="634.60" cy="739.10" r="1.5" fill="#050505"/>
<circle cx="628.50" cy="745.70" r="1.5" fill="#050505"/>
<circle cx="625.50" cy="752.20" r="1.5" fill="#050505"/>
<circle cx="631.60" cy="752.20" r="1.5" fill="#050505"/>
<circle cx="628.50" cy="758.70" r="1.5" fill="#050505"/>
<circle cx="628.50" cy="771.50" r="1.5" fill="#050505"/>
<polyline points="592.20,739.90 592.20,721.50 628.50,721.50 628.50,726.80" fill="none" stroke="#050505" stroke-width="1.5"/>
<path d="M610.40,711.80 L610.40,717.60 M607.89,713.25 L612.91,716.15 M612.91,713.25 L607.89,716.15 " stroke="#050505" stroke-width="1.5" fill="none"/>
<text transform="translate(547.60,761.90) rotate(-90)" font-size="9.2" font-weight="bold" text-anchor="middle" fill="#050505">Number of marbles buried</text>
<text x="592.30" y="822.80" font-size="7.0" font-weight="bold" text-anchor="middle" fill="#050505">Control</text>
<text x="628.50" y="822.80" font-size="7.0" font-weight="bold" text-anchor="middle" fill="#050505">sh-DDX3X</text>
<line x1="0" y1="0.5" x2="685" y2="0.5" stroke="#9a9a9a" stroke-width="1"/>
<line x1="0.5" y1="0" x2="0.5" y2="974" stroke="#909090" stroke-width="1"/>
<line x1="684.5" y1="0" x2="684.5" y2="974" stroke="#666" stroke-width="1"/>
<line x1="0" y1="973.5" x2="685" y2="973.5" stroke="#666" stroke-width="1"/>
</svg>
</body></html>
